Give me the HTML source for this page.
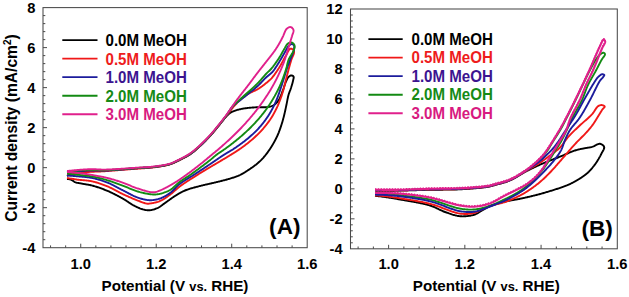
<!DOCTYPE html>
<html><head><meta charset="utf-8"><style>
html,body{margin:0;padding:0;background:#fff;}
svg{display:block;}
</style></head><body>
<svg width="629" height="297" viewBox="0 0 629 297">
<rect width="629" height="297" fill="#fff"/>
<rect x="43.0" y="7.6" width="264.20" height="240.10" fill="none" stroke="#4a4a4a" stroke-width="1.05"/>
<path d="M43.00,239.70h2.3M43.00,231.69h2.3M43.00,223.69h2.3M43.00,215.69h2.3M43.00,207.68h4.0M43.00,199.68h2.3M43.00,191.68h2.3M43.00,183.67h2.3M43.00,175.67h2.3M43.00,167.67h4.0M43.00,159.66h2.3M43.00,151.66h2.3M43.00,143.66h2.3M43.00,135.65h2.3M43.00,127.65h4.0M43.00,119.65h2.3M43.00,111.64h2.3M43.00,103.64h2.3M43.00,95.64h2.3M43.00,87.63h4.0M43.00,79.63h2.3M43.00,71.63h2.3M43.00,63.62h2.3M43.00,55.62h2.3M43.00,47.62h4.0M43.00,39.61h2.3M43.00,31.61h2.3M43.00,23.61h2.3M43.00,15.60h2.3M50.55,247.70v-2.3M65.65,247.70v-2.3M80.74,247.70v-4.0M95.84,247.70v-2.3M110.94,247.70v-2.3M126.03,247.70v-2.3M141.13,247.70v-2.3M156.23,247.70v-4.0M171.33,247.70v-2.3M186.42,247.70v-2.3M201.52,247.70v-2.3M216.62,247.70v-2.3M231.71,247.70v-4.0M246.81,247.70v-2.3M261.91,247.70v-2.3M277.01,247.70v-2.3M292.10,247.70v-2.3" stroke="#4a4a4a" stroke-width="1.0" fill="none"/>
<rect x="350.5" y="9.0" width="266.80" height="239.80" fill="none" stroke="#4a4a4a" stroke-width="1.05"/>
<path d="M350.50,242.81h2.3M350.50,236.81h2.3M350.50,230.81h2.3M350.50,224.82h2.3M350.50,218.83h4.0M350.50,212.83h2.3M350.50,206.84h2.3M350.50,200.84h2.3M350.50,194.84h2.3M350.50,188.85h4.0M350.50,182.86h2.3M350.50,176.86h2.3M350.50,170.87h2.3M350.50,164.87h2.3M350.50,158.88h4.0M350.50,152.88h2.3M350.50,146.88h2.3M350.50,140.89h2.3M350.50,134.90h2.3M350.50,128.90h4.0M350.50,122.91h2.3M350.50,116.91h2.3M350.50,110.91h2.3M350.50,104.92h2.3M350.50,98.93h4.0M350.50,92.93h2.3M350.50,86.94h2.3M350.50,80.94h2.3M350.50,74.94h2.3M350.50,68.95h4.0M350.50,62.96h2.3M350.50,56.96h2.3M350.50,50.97h2.3M350.50,44.97h2.3M350.50,38.98h4.0M350.50,32.98h2.3M350.50,26.99h2.3M350.50,20.99h2.3M350.50,15.00h2.3M358.12,248.80v-2.3M373.37,248.80v-2.3M388.61,248.80v-4.0M403.86,248.80v-2.3M419.11,248.80v-2.3M434.35,248.80v-2.3M449.60,248.80v-2.3M464.84,248.80v-4.0M480.09,248.80v-2.3M495.33,248.80v-2.3M510.58,248.80v-2.3M525.83,248.80v-2.3M541.07,248.80v-4.0M556.32,248.80v-2.3M571.56,248.80v-2.3M586.81,248.80v-2.3M602.05,248.80v-2.3" stroke="#4a4a4a" stroke-width="1.0" fill="none"/>
<text transform="matrix(1 0 0 1.05 0 -12.650)" x="35.4" y="253.00" font-size="14.7" text-anchor="end" fill="#000" font-family="Liberation Sans, sans-serif" font-weight="bold" >-4</text>
<text transform="matrix(1 0 0 1.05 0 -10.649)" x="35.4" y="212.98" font-size="14.7" text-anchor="end" fill="#000" font-family="Liberation Sans, sans-serif" font-weight="bold" >-2</text>
<text transform="matrix(1 0 0 1.05 0 -8.648)" x="35.4" y="172.97" font-size="14.7" text-anchor="end" fill="#000" font-family="Liberation Sans, sans-serif" font-weight="bold" >0</text>
<text transform="matrix(1 0 0 1.05 0 -6.648)" x="35.4" y="132.95" font-size="14.7" text-anchor="end" fill="#000" font-family="Liberation Sans, sans-serif" font-weight="bold" >2</text>
<text transform="matrix(1 0 0 1.05 0 -4.647)" x="35.4" y="92.93" font-size="14.7" text-anchor="end" fill="#000" font-family="Liberation Sans, sans-serif" font-weight="bold" >4</text>
<text transform="matrix(1 0 0 1.05 0 -2.646)" x="35.4" y="52.92" font-size="14.7" text-anchor="end" fill="#000" font-family="Liberation Sans, sans-serif" font-weight="bold" >6</text>
<text transform="matrix(1 0 0 1.05 0 -0.645)" x="35.4" y="12.90" font-size="14.7" text-anchor="end" fill="#000" font-family="Liberation Sans, sans-serif" font-weight="bold" >8</text>
<text transform="matrix(1 0 0 1.05 0 -12.705)" x="342.6" y="254.10" font-size="14.7" text-anchor="end" fill="#000" font-family="Liberation Sans, sans-serif" font-weight="bold" >-4</text>
<text transform="matrix(1 0 0 1.05 0 -11.206)" x="342.6" y="224.13" font-size="14.7" text-anchor="end" fill="#000" font-family="Liberation Sans, sans-serif" font-weight="bold" >-2</text>
<text transform="matrix(1 0 0 1.05 0 -9.708)" x="342.6" y="194.15" font-size="14.7" text-anchor="end" fill="#000" font-family="Liberation Sans, sans-serif" font-weight="bold" >0</text>
<text transform="matrix(1 0 0 1.05 0 -8.209)" x="342.6" y="164.18" font-size="14.7" text-anchor="end" fill="#000" font-family="Liberation Sans, sans-serif" font-weight="bold" >2</text>
<text transform="matrix(1 0 0 1.05 0 -6.710)" x="342.6" y="134.20" font-size="14.7" text-anchor="end" fill="#000" font-family="Liberation Sans, sans-serif" font-weight="bold" >4</text>
<text transform="matrix(1 0 0 1.05 0 -5.211)" x="342.6" y="104.23" font-size="14.7" text-anchor="end" fill="#000" font-family="Liberation Sans, sans-serif" font-weight="bold" >6</text>
<text transform="matrix(1 0 0 1.05 0 -3.713)" x="342.6" y="74.25" font-size="14.7" text-anchor="end" fill="#000" font-family="Liberation Sans, sans-serif" font-weight="bold" >8</text>
<text transform="matrix(1 0 0 1.05 0 -2.214)" x="342.6" y="44.27" font-size="14.7" text-anchor="end" fill="#000" font-family="Liberation Sans, sans-serif" font-weight="bold" >10</text>
<text transform="matrix(1 0 0 1.05 0 -0.715)" x="342.6" y="14.30" font-size="14.7" text-anchor="end" fill="#000" font-family="Liberation Sans, sans-serif" font-weight="bold" >12</text>
<text transform="matrix(1 0 0 1.05 0 -13.460)" x="80.74" y="269.20" font-size="14.7" text-anchor="middle" fill="#000" font-family="Liberation Sans, sans-serif" font-weight="bold" >1.0</text>
<text transform="matrix(1 0 0 1.05 0 -13.460)" x="156.23" y="269.20" font-size="14.7" text-anchor="middle" fill="#000" font-family="Liberation Sans, sans-serif" font-weight="bold" >1.2</text>
<text transform="matrix(1 0 0 1.05 0 -13.460)" x="231.71" y="269.20" font-size="14.7" text-anchor="middle" fill="#000" font-family="Liberation Sans, sans-serif" font-weight="bold" >1.4</text>
<text transform="matrix(1 0 0 1.05 0 -13.460)" x="307.20" y="269.20" font-size="14.7" text-anchor="middle" fill="#000" font-family="Liberation Sans, sans-serif" font-weight="bold" >1.6</text>
<text transform="matrix(1 0 0 1.05 0 -13.460)" x="388.61" y="269.20" font-size="14.7" text-anchor="middle" fill="#000" font-family="Liberation Sans, sans-serif" font-weight="bold" >1.0</text>
<text transform="matrix(1 0 0 1.05 0 -13.460)" x="464.84" y="269.20" font-size="14.7" text-anchor="middle" fill="#000" font-family="Liberation Sans, sans-serif" font-weight="bold" >1.2</text>
<text transform="matrix(1 0 0 1.05 0 -13.460)" x="541.07" y="269.20" font-size="14.7" text-anchor="middle" fill="#000" font-family="Liberation Sans, sans-serif" font-weight="bold" >1.4</text>
<text transform="matrix(1 0 0 1.05 0 -13.460)" x="617.30" y="269.20" font-size="14.7" text-anchor="middle" fill="#000" font-family="Liberation Sans, sans-serif" font-weight="bold" >1.6</text>
<text x="101.5" y="290.9" font-size="15.2" fill="#000" font-family="Liberation Sans, sans-serif" font-weight="bold">Potential (V <tspan font-size="12.8">vs.</tspan> RHE)</text>
<text x="412.8" y="290.9" font-size="15.2" fill="#000" font-family="Liberation Sans, sans-serif" font-weight="bold">Potential (V <tspan font-size="12.8">vs.</tspan> RHE)</text>
<text transform="translate(16.8,221.8) rotate(-90)" x="0" y="0" font-size="15.6" fill="#000" font-family="Liberation Sans, sans-serif" font-weight="bold">Current density (mA/cm<tspan font-size="10" dy="-6">2</tspan><tspan dy="6">)</tspan></text>
<text x="284.8" y="233.80" font-size="22.6" text-anchor="middle" fill="#000" font-family="Liberation Sans, sans-serif" font-weight="bold" >(A)</text>
<text x="597.2" y="235.80" font-size="22.6" text-anchor="middle" fill="#000" font-family="Liberation Sans, sans-serif" font-weight="bold" >(B)</text>
<path d="M62.3,40.10H97.5" stroke="#000000" stroke-width="1.9"/>
<text transform="matrix(1 0 0 1.06 0 -2.436)" x="105.5" y="45.90" font-size="15.1" fill="#000000" font-family="Liberation Sans, sans-serif" font-weight="bold">0.0M MeOH</text>
<path d="M62.3,58.63H97.5" stroke="#f01818" stroke-width="1.9"/>
<text transform="matrix(1 0 0 1.06 0 -3.548)" x="105.5" y="64.43" font-size="15.1" fill="#ee1c1c" font-family="Liberation Sans, sans-serif" font-weight="bold">0.5M MeOH</text>
<path d="M62.3,77.16H97.5" stroke="#1c1c9c" stroke-width="1.9"/>
<text transform="matrix(1 0 0 1.06 0 -4.660)" x="105.5" y="82.96" font-size="15.1" fill="#3c1490" font-family="Liberation Sans, sans-serif" font-weight="bold">1.0M MeOH</text>
<path d="M62.3,95.69H97.5" stroke="#138a13" stroke-width="1.9"/>
<text transform="matrix(1 0 0 1.06 0 -5.771)" x="105.5" y="101.49" font-size="15.1" fill="#168a16" font-family="Liberation Sans, sans-serif" font-weight="bold">2.0M MeOH</text>
<path d="M62.3,114.22H97.5" stroke="#e0208c" stroke-width="1.9"/>
<text transform="matrix(1 0 0 1.06 0 -6.883)" x="105.5" y="120.02" font-size="15.1" fill="#d81a80" font-family="Liberation Sans, sans-serif" font-weight="bold">3.0M MeOH</text>
<path d="M368.4,39.10H402.7" stroke="#000000" stroke-width="1.9"/>
<text transform="matrix(1 0 0 1.06 0 -2.352)" x="411.5" y="44.50" font-size="15.1" fill="#000000" font-family="Liberation Sans, sans-serif" font-weight="bold">0.0M MeOH</text>
<path d="M368.4,57.63H402.7" stroke="#f01818" stroke-width="1.9"/>
<text transform="matrix(1 0 0 1.06 0 -3.464)" x="411.5" y="63.03" font-size="15.1" fill="#ee1c1c" font-family="Liberation Sans, sans-serif" font-weight="bold">0.5M MeOH</text>
<path d="M368.4,76.16H402.7" stroke="#1c1c9c" stroke-width="1.9"/>
<text transform="matrix(1 0 0 1.06 0 -4.576)" x="411.5" y="81.56" font-size="15.1" fill="#3c1490" font-family="Liberation Sans, sans-serif" font-weight="bold">1.0M MeOH</text>
<path d="M368.4,94.69H402.7" stroke="#138a13" stroke-width="1.9"/>
<text transform="matrix(1 0 0 1.06 0 -5.687)" x="411.5" y="100.09" font-size="15.1" fill="#168a16" font-family="Liberation Sans, sans-serif" font-weight="bold">2.0M MeOH</text>
<path d="M368.4,113.22H402.7" stroke="#e0208c" stroke-width="1.9"/>
<text transform="matrix(1 0 0 1.06 0 -6.799)" x="411.5" y="118.62" font-size="15.1" fill="#d81a80" font-family="Liberation Sans, sans-serif" font-weight="bold">3.0M MeOH</text>
<path d="M67.00,176.00 L67.70,175.64 L68.39,175.26 L69.07,174.89 L69.76,174.52 L70.47,174.16 L71.21,173.82 L72.00,173.50 L72.64,173.27 L73.30,173.05 L73.98,172.84 L74.68,172.64 L75.39,172.45 L76.13,172.27 L76.87,172.10 L77.63,171.94 L78.41,171.78 L79.20,171.64 L80.00,171.50 L80.64,171.40 L81.29,171.31 L81.96,171.22 L82.64,171.14 L83.33,171.07 L84.03,171.00 L84.73,170.93 L85.45,170.88 L86.17,170.82 L86.90,170.77 L87.62,170.72 L88.36,170.68 L89.09,170.64 L89.82,170.60 L90.55,170.57 L91.28,170.53 L92.00,170.50 L92.70,170.47 L93.39,170.45 L94.06,170.44 L94.73,170.43 L95.40,170.43 L96.06,170.43 L96.73,170.44 L97.40,170.45 L98.07,170.45 L98.76,170.46 L99.46,170.47 L100.18,170.47 L100.92,170.48 L101.68,170.47 L102.46,170.47 L103.28,170.45 L104.12,170.43 L105.00,170.40 L105.54,170.38 L106.10,170.35 L106.69,170.33 L107.29,170.30 L107.91,170.27 L108.55,170.23 L109.20,170.19 L109.87,170.15 L110.56,170.11 L111.25,170.07 L111.97,170.03 L112.69,169.98 L113.42,169.93 L114.17,169.88 L114.92,169.83 L115.68,169.78 L116.45,169.73 L117.23,169.67 L118.01,169.62 L118.80,169.56 L119.59,169.50 L120.38,169.45 L121.18,169.39 L121.97,169.33 L122.77,169.27 L123.56,169.21 L124.35,169.15 L125.15,169.09 L125.93,169.03 L126.71,168.97 L127.49,168.91 L128.26,168.86 L129.02,168.80 L129.78,168.74 L130.53,168.69 L131.26,168.63 L131.99,168.58 L132.70,168.52 L133.40,168.47 L134.09,168.42 L134.76,168.37 L135.42,168.32 L136.06,168.27 L136.68,168.23 L137.28,168.19 L137.87,168.14 L138.43,168.10 L138.98,168.07 L139.50,168.03 L140.00,168.00 L140.90,167.94 L141.75,167.89 L142.54,167.85 L143.30,167.81 L144.02,167.78 L144.71,167.74 L145.38,167.71 L146.03,167.67 L146.68,167.64 L147.32,167.60 L147.97,167.56 L148.63,167.51 L149.30,167.46 L150.00,167.40 L150.72,167.33 L151.43,167.27 L152.15,167.20 L152.86,167.13 L153.58,167.05 L154.29,166.97 L155.01,166.89 L155.72,166.81 L156.43,166.72 L157.15,166.62 L157.86,166.53 L158.58,166.42 L159.29,166.31 L160.00,166.20 L160.72,166.08 L161.44,165.96 L162.17,165.84 L162.90,165.72 L163.63,165.59 L164.36,165.45 L165.09,165.32 L165.82,165.17 L166.53,165.02 L167.25,164.85 L167.95,164.68 L168.65,164.50 L169.33,164.31 L170.00,164.10 L170.70,163.87 L171.39,163.62 L172.05,163.36 L172.70,163.10 L173.35,162.82 L173.98,162.53 L174.63,162.24 L175.27,161.93 L175.93,161.61 L176.60,161.28 L177.29,160.95 L178.00,160.60 L178.58,160.32 L179.18,160.03 L179.79,159.74 L180.41,159.44 L181.04,159.13 L181.69,158.82 L182.33,158.50 L182.99,158.17 L183.64,157.84 L184.30,157.50 L184.96,157.16 L185.61,156.81 L186.27,156.45 L186.91,156.09 L187.55,155.73 L188.18,155.35 L188.80,154.97 L189.41,154.59 L190.00,154.20 L190.60,153.79 L191.19,153.37 L191.77,152.95 L192.34,152.52 L192.91,152.08 L193.48,151.63 L194.03,151.18 L194.58,150.72 L195.13,150.25 L195.68,149.79 L196.22,149.31 L196.76,148.83 L197.30,148.35 L197.84,147.87 L198.38,147.38 L198.92,146.89 L199.46,146.40 L200.00,145.90 L200.51,145.43 L201.03,144.95 L201.54,144.47 L202.06,143.98 L202.57,143.49 L203.09,142.99 L203.60,142.49 L204.12,141.99 L204.63,141.48 L205.14,140.97 L205.65,140.46 L206.15,139.95 L206.65,139.44 L207.15,138.93 L207.64,138.42 L208.12,137.91 L208.60,137.40 L209.08,136.90 L209.54,136.40 L210.00,135.90 L210.51,135.34 L211.01,134.78 L211.51,134.22 L211.99,133.65 L212.47,133.09 L212.95,132.53 L213.42,131.97 L213.88,131.41 L214.34,130.86 L214.80,130.30 L215.25,129.75 L215.70,129.19 L216.15,128.64 L216.60,128.09 L217.05,127.54 L217.50,127.00 L217.98,126.41 L218.46,125.83 L218.93,125.24 L219.39,124.65 L219.86,124.06 L220.32,123.47 L220.78,122.89 L221.23,122.31 L221.69,121.73 L222.15,121.17 L222.61,120.61 L223.07,120.06 L223.53,119.53 L224.00,119.00 L224.49,118.45 L224.98,117.89 L225.47,117.34 L225.96,116.80 L226.45,116.26 L226.94,115.73 L227.43,115.22 L227.93,114.72 L228.44,114.25 L228.95,113.81 L229.47,113.39 L230.00,113.00 L230.63,112.59 L231.25,112.22 L231.88,111.89 L232.52,111.58 L233.17,111.31 L233.84,111.04 L234.53,110.79 L235.25,110.55 L236.00,110.30 L236.63,110.10 L237.28,109.92 L237.96,109.74 L238.65,109.56 L239.36,109.40 L240.09,109.24 L240.82,109.09 L241.56,108.94 L242.31,108.80 L243.05,108.67 L243.80,108.55 L244.54,108.42 L245.28,108.31 L246.00,108.20 L246.71,108.10 L247.42,108.00 L248.12,107.92 L248.82,107.84 L249.53,107.77 L250.23,107.70 L250.94,107.64 L251.64,107.58 L252.36,107.53 L253.07,107.48 L253.79,107.43 L254.52,107.39 L255.26,107.34 L256.00,107.30 L256.68,107.27 L257.39,107.25 L258.11,107.24 L258.84,107.24 L259.58,107.25 L260.33,107.26 L261.08,107.27 L261.83,107.28 L262.57,107.29 L263.31,107.29 L264.04,107.29 L264.75,107.27 L265.45,107.25 L266.13,107.21 L266.78,107.16 L267.41,107.09 L268.00,107.00 L268.77,106.86 L269.51,106.71 L270.22,106.55 L270.90,106.38 L271.55,106.17 L272.18,105.94 L272.80,105.67 L273.40,105.36 L274.00,105.00 L274.57,104.60 L275.12,104.16 L275.66,103.68 L276.18,103.16 L276.69,102.61 L277.18,102.04 L277.66,101.43 L278.12,100.81 L278.57,100.16 L279.00,99.50 L279.35,98.92 L279.69,98.31 L280.01,97.67 L280.32,97.01 L280.61,96.33 L280.90,95.64 L281.18,94.93 L281.45,94.21 L281.72,93.50 L281.98,92.78 L282.23,92.07 L282.49,91.36 L282.74,90.67 L283.00,90.00 L283.27,89.27 L283.54,88.53 L283.79,87.78 L284.04,87.03 L284.28,86.29 L284.52,85.55 L284.76,84.82 L285.00,84.10 L285.24,83.41 L285.49,82.74 L285.74,82.11 L286.00,81.50 L286.34,80.75 L286.67,80.01 L287.00,79.31 L287.34,78.65 L287.70,78.04 L288.08,77.48 L288.50,77.00 L289.13,76.41 L289.82,75.91 L290.52,75.55 L291.20,75.40 L292.10,75.55 L293.00,75.98 L293.60,76.60 L293.75,77.27 L293.66,78.08 L293.43,79.00 L293.20,80.00 L293.07,80.61 L292.92,81.26 L292.75,81.96 L292.56,82.69 L292.36,83.45 L292.14,84.22 L291.91,85.00 L291.68,85.77 L291.45,86.54 L291.22,87.28 L291.00,88.00 L290.76,88.72 L290.52,89.41 L290.26,90.10 L290.00,90.77 L289.73,91.45 L289.47,92.13 L289.21,92.81 L288.96,93.52 L288.73,94.25 L288.50,95.00 L288.32,95.65 L288.15,96.33 L287.99,97.02 L287.84,97.72 L287.69,98.43 L287.54,99.15 L287.40,99.88 L287.26,100.61 L287.12,101.35 L286.98,102.09 L286.84,102.82 L286.70,103.56 L286.55,104.28 L286.40,105.00 L286.25,105.71 L286.10,106.43 L285.95,107.14 L285.80,107.86 L285.65,108.58 L285.49,109.29 L285.34,110.01 L285.19,110.72 L285.03,111.43 L284.87,112.15 L284.71,112.86 L284.55,113.58 L284.38,114.29 L284.20,115.00 L284.02,115.72 L283.84,116.43 L283.65,117.15 L283.47,117.87 L283.28,118.58 L283.09,119.30 L282.89,120.01 L282.69,120.73 L282.49,121.44 L282.28,122.15 L282.07,122.87 L281.85,123.58 L281.63,124.29 L281.40,125.00 L281.18,125.67 L280.96,126.34 L280.74,127.01 L280.51,127.68 L280.28,128.35 L280.05,129.02 L279.81,129.69 L279.57,130.36 L279.32,131.03 L279.06,131.69 L278.81,132.36 L278.54,133.02 L278.27,133.68 L277.99,134.34 L277.70,135.00 L277.42,135.63 L277.13,136.27 L276.83,136.90 L276.53,137.53 L276.23,138.16 L275.92,138.79 L275.60,139.41 L275.28,140.04 L274.95,140.67 L274.62,141.29 L274.28,141.91 L273.93,142.53 L273.58,143.15 L273.23,143.77 L272.87,144.39 L272.50,145.00 L272.13,145.60 L271.76,146.21 L271.38,146.82 L270.99,147.43 L270.59,148.04 L270.19,148.65 L269.78,149.26 L269.37,149.87 L268.96,150.47 L268.54,151.07 L268.12,151.66 L267.70,152.24 L267.28,152.82 L266.86,153.38 L266.44,153.93 L266.02,154.47 L265.60,155.00 L265.13,155.59 L264.65,156.16 L264.18,156.72 L263.71,157.26 L263.24,157.80 L262.76,158.32 L262.28,158.84 L261.80,159.35 L261.31,159.85 L260.82,160.35 L260.32,160.83 L259.81,161.32 L259.30,161.80 L258.75,162.30 L258.19,162.79 L257.64,163.27 L257.08,163.73 L256.52,164.19 L255.95,164.65 L255.36,165.10 L254.77,165.55 L254.16,166.00 L253.53,166.46 L252.87,166.92 L252.20,167.40 L251.67,167.77 L251.12,168.15 L250.56,168.54 L249.98,168.94 L249.39,169.34 L248.79,169.75 L248.17,170.16 L247.55,170.57 L246.92,170.98 L246.29,171.39 L245.65,171.80 L245.01,172.20 L244.37,172.59 L243.73,172.97 L243.09,173.34 L242.46,173.71 L241.83,174.05 L241.21,174.39 L240.60,174.70 L240.00,175.00 L239.32,175.32 L238.66,175.62 L238.01,175.90 L237.36,176.16 L236.71,176.41 L236.07,176.65 L235.43,176.88 L234.79,177.10 L234.14,177.31 L233.48,177.53 L232.81,177.73 L232.13,177.94 L231.44,178.16 L230.73,178.38 L230.00,178.60 L229.38,178.79 L228.76,178.97 L228.12,179.16 L227.47,179.34 L226.81,179.53 L226.14,179.71 L225.47,179.89 L224.78,180.07 L224.09,180.25 L223.40,180.43 L222.70,180.60 L222.00,180.78 L221.30,180.96 L220.59,181.13 L219.89,181.30 L219.18,181.48 L218.48,181.65 L217.77,181.82 L217.07,181.99 L216.38,182.16 L215.69,182.33 L215.00,182.50 L214.32,182.67 L213.64,182.83 L212.96,182.99 L212.27,183.15 L211.59,183.30 L210.91,183.46 L210.23,183.61 L209.54,183.76 L208.86,183.91 L208.18,184.06 L207.50,184.21 L206.81,184.37 L206.13,184.52 L205.45,184.67 L204.77,184.83 L204.08,184.99 L203.40,185.15 L202.72,185.31 L202.04,185.48 L201.36,185.65 L200.68,185.82 L200.00,186.00 L199.31,186.18 L198.62,186.36 L197.92,186.55 L197.22,186.73 L196.51,186.91 L195.80,187.10 L195.10,187.29 L194.39,187.48 L193.68,187.67 L192.97,187.86 L192.27,188.06 L191.57,188.26 L190.88,188.46 L190.19,188.67 L189.51,188.88 L188.83,189.10 L188.17,189.32 L187.51,189.54 L186.86,189.77 L186.23,190.01 L185.61,190.25 L185.00,190.50 L184.30,190.80 L183.62,191.11 L182.96,191.42 L182.31,191.74 L181.67,192.06 L181.05,192.40 L180.43,192.73 L179.82,193.08 L179.21,193.43 L178.61,193.78 L178.01,194.14 L177.42,194.50 L176.82,194.87 L176.22,195.24 L175.61,195.62 L175.00,196.00 L174.40,196.38 L173.80,196.77 L173.19,197.17 L172.59,197.58 L171.98,198.00 L171.37,198.43 L170.77,198.85 L170.17,199.29 L169.57,199.72 L168.98,200.15 L168.39,200.58 L167.80,201.00 L167.23,201.42 L166.66,201.83 L166.09,202.23 L165.54,202.62 L165.00,203.00 L164.38,203.44 L163.78,203.88 L163.19,204.32 L162.62,204.76 L162.05,205.19 L161.49,205.61 L160.93,206.02 L160.37,206.41 L159.80,206.79 L159.21,207.15 L158.62,207.49 L158.00,207.80 L157.31,208.12 L156.60,208.42 L155.87,208.71 L155.13,208.99 L154.39,209.24 L153.64,209.47 L152.89,209.67 L152.15,209.85 L151.42,210.00 L150.70,210.12 L150.00,210.20 L149.20,210.26 L148.43,210.27 L147.67,210.25 L146.92,210.18 L146.17,210.08 L145.40,209.95 L144.62,209.79 L143.80,209.60 L143.15,209.43 L142.49,209.24 L141.82,209.03 L141.14,208.80 L140.45,208.55 L139.75,208.29 L139.04,208.00 L138.33,207.70 L137.61,207.39 L136.89,207.06 L136.16,206.72 L135.43,206.36 L134.70,206.00 L134.12,205.70 L133.55,205.39 L132.97,205.06 L132.39,204.71 L131.80,204.36 L131.21,203.99 L130.62,203.61 L130.03,203.22 L129.43,202.83 L128.83,202.43 L128.23,202.03 L127.62,201.63 L127.01,201.23 L126.39,200.82 L125.77,200.42 L125.15,200.02 L124.52,199.63 L123.88,199.25 L123.24,198.87 L122.60,198.50 L122.01,198.17 L121.41,197.84 L120.81,197.51 L120.20,197.17 L119.59,196.84 L118.98,196.51 L118.36,196.17 L117.73,195.84 L117.10,195.51 L116.47,195.18 L115.84,194.85 L115.20,194.53 L114.57,194.20 L113.93,193.88 L113.29,193.56 L112.64,193.25 L112.00,192.94 L111.36,192.63 L110.71,192.33 L110.07,192.03 L109.42,191.74 L108.78,191.45 L108.14,191.17 L107.50,190.90 L106.82,190.61 L106.13,190.33 L105.44,190.05 L104.75,189.77 L104.05,189.50 L103.35,189.23 L102.65,188.96 L101.95,188.70 L101.25,188.44 L100.55,188.19 L99.85,187.94 L99.15,187.70 L98.45,187.46 L97.75,187.23 L97.05,187.00 L96.36,186.78 L95.67,186.57 L94.99,186.36 L94.31,186.16 L93.63,185.97 L92.96,185.78 L92.30,185.60 L91.54,185.41 L90.77,185.22 L90.00,185.05 L89.22,184.89 L88.44,184.74 L87.66,184.60 L86.89,184.46 L86.12,184.33 L85.37,184.21 L84.62,184.09 L83.90,183.97 L83.19,183.86 L82.50,183.75 L81.83,183.64 L81.19,183.52 L80.58,183.41 L80.00,183.30 L79.15,183.14 L78.35,183.00 L77.60,182.87 L76.89,182.74 L76.22,182.60 L75.59,182.42 L75.00,182.20 L74.30,181.81 L73.69,181.36 L73.11,180.90 L72.50,180.50 L71.69,180.07 L70.86,179.70 L70.00,179.40 L69.28,179.25 L68.52,179.15 L67.76,179.08 L67.00,179.00" stroke="#000000" stroke-width="1.9" fill="none" stroke-linejoin="round"/>
<path d="M67.00,173.80 L67.72,173.73 L68.45,173.66 L69.17,173.60 L69.90,173.53 L70.63,173.46 L71.35,173.39 L72.08,173.32 L72.81,173.25 L73.53,173.18 L74.26,173.11 L74.98,173.04 L75.70,172.97 L76.43,172.91 L77.15,172.84 L77.86,172.78 L78.58,172.72 L79.29,172.66 L80.00,172.60 L80.72,172.54 L81.43,172.49 L82.14,172.44 L82.85,172.38 L83.55,172.33 L84.25,172.28 L84.95,172.24 L85.65,172.19 L86.35,172.14 L87.05,172.10 L87.75,172.05 L88.45,172.01 L89.15,171.97 L89.86,171.92 L90.57,171.88 L91.28,171.84 L92.00,171.80 L92.71,171.76 L93.42,171.73 L94.13,171.69 L94.84,171.66 L95.55,171.63 L96.26,171.60 L96.97,171.57 L97.69,171.54 L98.41,171.52 L99.13,171.49 L99.85,171.46 L100.58,171.43 L101.31,171.40 L102.04,171.36 L102.77,171.33 L103.51,171.29 L104.25,171.25 L105.00,171.20 L105.69,171.16 L106.38,171.11 L107.07,171.06 L107.76,171.01 L108.45,170.96 L109.15,170.90 L109.84,170.85 L110.54,170.79 L111.24,170.73 L111.95,170.67 L112.65,170.61 L113.36,170.55 L114.08,170.49 L114.80,170.43 L115.53,170.37 L116.26,170.30 L116.99,170.24 L117.73,170.18 L118.48,170.12 L119.24,170.06 L120.00,170.00 L120.67,169.95 L121.36,169.90 L122.06,169.84 L122.77,169.79 L123.49,169.73 L124.22,169.68 L124.96,169.62 L125.70,169.56 L126.46,169.51 L127.21,169.45 L127.97,169.39 L128.73,169.33 L129.49,169.28 L130.25,169.22 L131.01,169.16 L131.76,169.11 L132.50,169.05 L133.25,169.00 L133.98,168.94 L134.70,168.89 L135.41,168.84 L136.12,168.78 L136.80,168.73 L137.48,168.68 L138.14,168.64 L138.78,168.59 L139.40,168.54 L140.00,168.50 L140.82,168.44 L141.61,168.39 L142.37,168.34 L143.11,168.30 L143.83,168.25 L144.53,168.21 L145.22,168.17 L145.90,168.13 L146.57,168.08 L147.24,168.03 L147.92,167.98 L148.60,167.93 L149.29,167.87 L150.00,167.80 L150.72,167.73 L151.43,167.65 L152.15,167.58 L152.86,167.50 L153.58,167.41 L154.29,167.33 L155.01,167.24 L155.72,167.14 L156.43,167.05 L157.15,166.95 L157.86,166.84 L158.58,166.73 L159.29,166.62 L160.00,166.50 L160.72,166.38 L161.44,166.26 L162.17,166.13 L162.90,166.01 L163.63,165.88 L164.36,165.75 L165.09,165.61 L165.82,165.46 L166.53,165.31 L167.25,165.15 L167.95,164.98 L168.65,164.80 L169.33,164.61 L170.00,164.40 L170.70,164.17 L171.39,163.92 L172.05,163.67 L172.70,163.40 L173.35,163.12 L173.99,162.84 L174.63,162.54 L175.27,162.23 L175.93,161.92 L176.60,161.59 L177.29,161.25 L178.00,160.90 L178.58,160.62 L179.18,160.33 L179.79,160.03 L180.41,159.72 L181.04,159.41 L181.69,159.09 L182.33,158.77 L182.99,158.43 L183.64,158.10 L184.30,157.75 L184.96,157.40 L185.61,157.05 L186.27,156.68 L186.91,156.32 L187.55,155.94 L188.18,155.56 L188.80,155.18 L189.41,154.79 L190.00,154.40 L190.60,153.99 L191.19,153.57 L191.77,153.14 L192.34,152.71 L192.91,152.27 L193.47,151.82 L194.03,151.37 L194.58,150.91 L195.13,150.45 L195.68,149.98 L196.22,149.51 L196.76,149.03 L197.30,148.55 L197.84,148.07 L198.38,147.58 L198.92,147.09 L199.46,146.60 L200.00,146.10 L200.51,145.63 L201.03,145.15 L201.54,144.67 L202.06,144.18 L202.57,143.69 L203.09,143.19 L203.60,142.69 L204.12,142.19 L204.63,141.68 L205.14,141.17 L205.65,140.66 L206.15,140.15 L206.65,139.63 L207.15,139.12 L207.64,138.61 L208.12,138.10 L208.60,137.60 L209.07,137.09 L209.54,136.60 L210.00,136.10 L210.51,135.55 L211.01,135.00 L211.49,134.45 L211.97,133.91 L212.44,133.37 L212.91,132.83 L213.37,132.29 L213.82,131.75 L214.28,131.21 L214.73,130.67 L215.18,130.12 L215.64,129.57 L216.10,129.01 L216.56,128.45 L217.03,127.88 L217.50,127.30 L217.94,126.76 L218.38,126.22 L218.82,125.67 L219.25,125.12 L219.69,124.57 L220.13,124.01 L220.58,123.45 L221.02,122.88 L221.46,122.31 L221.91,121.74 L222.35,121.17 L222.80,120.59 L223.25,120.01 L223.70,119.43 L224.16,118.85 L224.61,118.26 L225.07,117.67 L225.53,117.09 L226.00,116.50 L226.44,115.95 L226.87,115.39 L227.31,114.82 L227.74,114.24 L228.18,113.67 L228.62,113.08 L229.06,112.50 L229.51,111.91 L229.95,111.32 L230.40,110.73 L230.85,110.14 L231.30,109.55 L231.75,108.97 L232.21,108.39 L232.67,107.81 L233.13,107.24 L233.60,106.68 L234.07,106.12 L234.55,105.58 L235.03,105.04 L235.51,104.51 L236.00,104.00 L236.52,103.47 L237.04,102.95 L237.56,102.43 L238.09,101.91 L238.63,101.40 L239.16,100.89 L239.70,100.39 L240.25,99.90 L240.80,99.41 L241.35,98.93 L241.90,98.46 L242.46,97.99 L243.02,97.54 L243.58,97.09 L244.15,96.65 L244.72,96.22 L245.28,95.80 L245.86,95.39 L246.43,94.99 L247.00,94.60 L247.63,94.19 L248.27,93.81 L248.93,93.44 L249.59,93.09 L250.26,92.75 L250.94,92.42 L251.61,92.10 L252.29,91.79 L252.96,91.49 L253.63,91.19 L254.30,90.89 L254.95,90.59 L255.59,90.28 L256.22,89.98 L256.83,89.66 L257.43,89.34 L258.00,89.00 L258.65,88.60 L259.29,88.19 L259.90,87.79 L260.50,87.38 L261.08,86.97 L261.66,86.56 L262.22,86.15 L262.78,85.73 L263.33,85.31 L263.89,84.88 L264.44,84.44 L265.00,84.00 L265.56,83.55 L266.13,83.11 L266.69,82.66 L267.25,82.20 L267.80,81.74 L268.35,81.28 L268.90,80.81 L269.44,80.33 L269.97,79.84 L270.49,79.34 L271.00,78.83 L271.50,78.30 L271.96,77.79 L272.42,77.26 L272.87,76.72 L273.31,76.17 L273.74,75.61 L274.17,75.05 L274.59,74.48 L275.00,73.90 L275.41,73.32 L275.81,72.74 L276.21,72.16 L276.61,71.58 L277.00,71.00 L277.42,70.38 L277.83,69.75 L278.24,69.11 L278.65,68.46 L279.06,67.81 L279.45,67.16 L279.84,66.51 L280.22,65.88 L280.58,65.26 L280.94,64.65 L281.28,64.06 L281.60,63.50 L281.99,62.80 L282.35,62.13 L282.69,61.48 L283.02,60.85 L283.34,60.23 L283.66,59.62 L284.00,59.00 L284.37,58.33 L284.74,57.68 L285.11,57.03 L285.48,56.38 L285.88,55.71 L286.30,55.00 L286.63,54.39 L286.98,53.70 L287.34,52.96 L287.70,52.19 L288.08,51.43 L288.47,50.70 L288.86,50.05 L289.27,49.49 L289.68,49.07 L290.10,48.80 L290.84,48.67 L291.64,48.80 L292.39,49.10 L293.00,49.50 L293.44,49.98 L293.78,50.59 L294.01,51.30 L294.10,52.10 L294.07,52.66 L293.95,53.27 L293.75,53.94 L293.50,54.65 L293.20,55.39 L292.87,56.16 L292.53,56.94 L292.19,57.72 L291.86,58.50 L291.56,59.26 L291.30,60.00 L291.07,60.72 L290.85,61.43 L290.64,62.15 L290.43,62.86 L290.22,63.58 L290.02,64.29 L289.82,65.02 L289.62,65.75 L289.41,66.49 L289.21,67.24 L289.00,68.00 L288.82,68.68 L288.63,69.37 L288.44,70.07 L288.26,70.77 L288.07,71.49 L287.88,72.20 L287.70,72.93 L287.51,73.65 L287.32,74.38 L287.14,75.11 L286.95,75.84 L286.77,76.56 L286.58,77.28 L286.40,78.00 L286.22,78.71 L286.04,79.43 L285.87,80.14 L285.70,80.86 L285.52,81.57 L285.35,82.29 L285.18,83.00 L285.01,83.72 L284.83,84.43 L284.65,85.15 L284.47,85.86 L284.29,86.58 L284.10,87.29 L283.90,88.00 L283.70,88.72 L283.50,89.43 L283.29,90.15 L283.08,90.87 L282.87,91.58 L282.66,92.30 L282.44,93.01 L282.22,93.73 L282.00,94.44 L281.77,95.16 L281.54,95.87 L281.30,96.58 L281.05,97.29 L280.80,98.00 L280.56,98.67 L280.31,99.34 L280.06,100.01 L279.81,100.69 L279.55,101.36 L279.29,102.02 L279.02,102.69 L278.75,103.36 L278.47,104.03 L278.19,104.69 L277.91,105.36 L277.61,106.02 L277.32,106.68 L277.01,107.34 L276.70,108.00 L276.40,108.63 L276.09,109.27 L275.77,109.90 L275.45,110.53 L275.13,111.16 L274.80,111.79 L274.47,112.42 L274.13,113.04 L273.79,113.67 L273.44,114.29 L273.08,114.92 L272.72,115.54 L272.35,116.16 L271.97,116.77 L271.59,117.39 L271.20,118.00 L270.81,118.60 L270.41,119.20 L270.01,119.80 L269.59,120.40 L269.18,120.99 L268.75,121.59 L268.32,122.18 L267.89,122.77 L267.45,123.36 L267.00,123.94 L266.55,124.53 L266.09,125.11 L265.62,125.69 L265.15,126.27 L264.67,126.85 L264.19,127.43 L263.70,128.00 L263.26,128.51 L262.81,129.03 L262.35,129.54 L261.89,130.05 L261.43,130.56 L260.96,131.06 L260.49,131.57 L260.01,132.07 L259.53,132.58 L259.04,133.08 L258.55,133.58 L258.05,134.08 L257.55,134.57 L257.04,135.07 L256.53,135.56 L256.01,136.05 L255.49,136.54 L254.97,137.03 L254.43,137.52 L253.90,138.00 L253.37,138.47 L252.83,138.95 L252.29,139.42 L251.73,139.89 L251.17,140.37 L250.61,140.84 L250.03,141.32 L249.45,141.79 L248.87,142.26 L248.29,142.73 L247.70,143.19 L247.11,143.65 L246.52,144.11 L245.93,144.56 L245.34,145.01 L244.75,145.46 L244.17,145.90 L243.59,146.33 L243.01,146.76 L242.43,147.18 L241.86,147.59 L241.30,148.00 L240.69,148.43 L240.10,148.85 L239.52,149.25 L238.94,149.65 L238.37,150.03 L237.80,150.41 L237.23,150.78 L236.67,151.15 L236.10,151.51 L235.52,151.88 L234.94,152.24 L234.35,152.61 L233.75,152.99 L233.13,153.37 L232.50,153.76 L231.86,154.16 L231.19,154.57 L230.50,155.00 L229.99,155.32 L229.46,155.64 L228.92,155.97 L228.36,156.31 L227.80,156.65 L227.22,157.00 L226.63,157.36 L226.03,157.71 L225.43,158.08 L224.81,158.44 L224.19,158.81 L223.56,159.18 L222.93,159.56 L222.29,159.94 L221.65,160.31 L221.01,160.69 L220.36,161.07 L219.72,161.45 L219.07,161.83 L218.43,162.21 L217.79,162.59 L217.15,162.96 L216.51,163.34 L215.88,163.71 L215.25,164.08 L214.63,164.45 L214.02,164.81 L213.41,165.17 L212.82,165.52 L212.23,165.87 L211.65,166.21 L211.09,166.55 L210.54,166.88 L210.00,167.20 L209.33,167.61 L208.67,168.00 L208.03,168.39 L207.40,168.76 L206.78,169.13 L206.17,169.50 L205.57,169.86 L204.98,170.22 L204.39,170.57 L203.81,170.92 L203.23,171.27 L202.65,171.63 L202.07,171.98 L201.48,172.34 L200.89,172.70 L200.30,173.06 L199.70,173.43 L199.09,173.81 L198.47,174.20 L197.84,174.59 L197.20,175.00 L196.64,175.35 L196.07,175.71 L195.49,176.08 L194.91,176.45 L194.31,176.82 L193.71,177.20 L193.10,177.58 L192.48,177.97 L191.87,178.36 L191.24,178.76 L190.62,179.15 L189.99,179.55 L189.36,179.95 L188.74,180.36 L188.11,180.76 L187.49,181.16 L186.87,181.57 L186.25,181.97 L185.64,182.37 L185.04,182.78 L184.44,183.18 L183.84,183.58 L183.26,183.98 L182.69,184.37 L182.13,184.77 L181.58,185.15 L181.04,185.54 L180.51,185.92 L180.00,186.30 L179.36,186.78 L178.75,187.27 L178.15,187.75 L177.57,188.24 L177.00,188.72 L176.44,189.21 L175.90,189.69 L175.36,190.17 L174.83,190.65 L174.30,191.12 L173.78,191.59 L173.25,192.05 L172.72,192.51 L172.19,192.97 L171.66,193.41 L171.12,193.85 L170.56,194.28 L170.00,194.70 L169.39,195.15 L168.78,195.59 L168.16,196.04 L167.55,196.48 L166.93,196.92 L166.32,197.35 L165.70,197.77 L165.08,198.19 L164.45,198.59 L163.82,198.98 L163.20,199.36 L162.56,199.73 L161.93,200.07 L161.29,200.40 L160.65,200.71 L160.00,201.00 L159.29,201.29 L158.56,201.55 L157.80,201.81 L157.03,202.04 L156.25,202.26 L155.47,202.46 L154.70,202.64 L153.94,202.81 L153.19,202.96 L152.48,203.10 L151.79,203.22 L151.15,203.33 L150.55,203.42 L150.00,203.50 L149.12,203.62 L148.39,203.69 L147.67,203.69 L146.80,203.60 L146.26,203.51 L145.68,203.38 L145.07,203.22 L144.43,203.03 L143.76,202.82 L143.07,202.58 L142.35,202.33 L141.62,202.06 L140.87,201.78 L140.11,201.49 L139.35,201.20 L138.57,200.90 L137.80,200.60 L137.21,200.37 L136.61,200.14 L136.00,199.89 L135.38,199.64 L134.74,199.38 L134.10,199.12 L133.44,198.84 L132.78,198.56 L132.11,198.28 L131.44,197.99 L130.76,197.69 L130.08,197.40 L129.39,197.09 L128.71,196.79 L128.02,196.48 L127.33,196.17 L126.64,195.86 L125.96,195.55 L125.28,195.24 L124.60,194.93 L123.93,194.62 L123.26,194.31 L122.60,194.00 L121.97,193.70 L121.33,193.39 L120.70,193.08 L120.07,192.76 L119.45,192.44 L118.82,192.11 L118.19,191.78 L117.57,191.44 L116.94,191.11 L116.32,190.77 L115.69,190.44 L115.07,190.10 L114.44,189.77 L113.82,189.44 L113.19,189.11 L112.56,188.78 L111.94,188.46 L111.31,188.15 L110.68,187.84 L110.04,187.53 L109.41,187.24 L108.78,186.95 L108.14,186.67 L107.50,186.40 L106.82,186.12 L106.14,185.84 L105.46,185.57 L104.77,185.30 L104.09,185.04 L103.40,184.78 L102.71,184.52 L102.02,184.27 L101.33,184.03 L100.64,183.79 L99.95,183.55 L99.26,183.32 L98.56,183.10 L97.87,182.88 L97.18,182.67 L96.48,182.47 L95.78,182.27 L95.09,182.08 L94.39,181.90 L93.69,181.73 L93.00,181.56 L92.30,181.40 L91.58,181.25 L90.86,181.11 L90.13,180.98 L89.40,180.87 L88.66,180.77 L87.92,180.67 L87.18,180.58 L86.43,180.50 L85.69,180.42 L84.95,180.35 L84.21,180.29 L83.48,180.22 L82.75,180.16 L82.02,180.10 L81.30,180.04 L80.60,179.97 L79.89,179.91 L79.20,179.84 L78.52,179.77 L77.85,179.69 L77.20,179.60 L76.41,179.49 L75.64,179.38 L74.88,179.26 L74.14,179.15 L73.41,179.04 L72.69,178.92 L71.97,178.81 L71.27,178.69 L70.56,178.58 L69.86,178.46 L69.15,178.34 L68.44,178.23 L67.72,178.11 L67.00,178.00" stroke="#f01818" stroke-width="1.9" fill="none" stroke-linejoin="round"/>
<path d="M67.00,172.50 L67.72,172.42 L68.45,172.33 L69.17,172.24 L69.90,172.15 L70.62,172.06 L71.35,171.96 L72.08,171.87 L72.80,171.78 L73.53,171.69 L74.26,171.60 L74.98,171.51 L75.70,171.43 L76.42,171.34 L77.14,171.27 L77.86,171.19 L78.58,171.12 L79.29,171.06 L80.00,171.00 L80.72,170.95 L81.43,170.90 L82.14,170.85 L82.84,170.81 L83.55,170.77 L84.25,170.73 L84.95,170.70 L85.65,170.67 L86.35,170.64 L87.05,170.62 L87.75,170.60 L88.45,170.58 L89.15,170.56 L89.86,170.54 L90.57,170.53 L91.28,170.51 L92.00,170.50 L92.70,170.49 L93.39,170.49 L94.06,170.49 L94.73,170.50 L95.40,170.52 L96.06,170.53 L96.73,170.55 L97.40,170.57 L98.07,170.59 L98.76,170.61 L99.46,170.62 L100.18,170.64 L100.92,170.65 L101.68,170.65 L102.46,170.65 L103.28,170.64 L104.12,170.63 L105.00,170.60 L105.54,170.58 L106.10,170.56 L106.69,170.53 L107.29,170.50 L107.91,170.47 L108.55,170.44 L109.20,170.40 L109.87,170.36 L110.56,170.31 L111.25,170.27 L111.97,170.22 L112.69,170.17 L113.42,170.12 L114.17,170.07 L114.92,170.01 L115.68,169.96 L116.45,169.90 L117.23,169.84 L118.01,169.78 L118.80,169.72 L119.59,169.65 L120.38,169.59 L121.18,169.52 L121.97,169.46 L122.77,169.39 L123.56,169.33 L124.35,169.26 L125.15,169.20 L125.93,169.13 L126.71,169.07 L127.49,169.00 L128.26,168.94 L129.02,168.87 L129.78,168.81 L130.53,168.75 L131.26,168.69 L131.99,168.62 L132.70,168.57 L133.40,168.51 L134.09,168.45 L134.76,168.40 L135.42,168.34 L136.06,168.29 L136.68,168.24 L137.28,168.20 L137.87,168.15 L138.43,168.11 L138.98,168.07 L139.50,168.03 L140.00,168.00 L140.90,167.94 L141.75,167.89 L142.54,167.85 L143.30,167.81 L144.02,167.77 L144.71,167.74 L145.38,167.70 L146.03,167.67 L146.68,167.64 L147.32,167.60 L147.97,167.56 L148.63,167.51 L149.30,167.46 L150.00,167.40 L150.72,167.33 L151.43,167.27 L152.15,167.20 L152.86,167.13 L153.58,167.05 L154.29,166.97 L155.01,166.89 L155.72,166.81 L156.43,166.72 L157.15,166.62 L157.86,166.53 L158.58,166.42 L159.29,166.31 L160.00,166.20 L160.72,166.08 L161.44,165.96 L162.17,165.84 L162.90,165.72 L163.63,165.59 L164.36,165.45 L165.09,165.32 L165.82,165.17 L166.53,165.02 L167.25,164.85 L167.95,164.68 L168.65,164.50 L169.33,164.31 L170.00,164.10 L170.70,163.87 L171.39,163.62 L172.05,163.36 L172.70,163.10 L173.35,162.82 L173.98,162.53 L174.63,162.24 L175.27,161.93 L175.93,161.61 L176.60,161.28 L177.29,160.95 L178.00,160.60 L178.58,160.32 L179.18,160.03 L179.79,159.74 L180.41,159.44 L181.04,159.13 L181.69,158.82 L182.33,158.50 L182.99,158.17 L183.64,157.84 L184.30,157.50 L184.96,157.16 L185.61,156.81 L186.27,156.45 L186.91,156.09 L187.55,155.73 L188.18,155.35 L188.80,154.97 L189.41,154.59 L190.00,154.20 L190.60,153.79 L191.19,153.37 L191.77,152.95 L192.34,152.52 L192.91,152.08 L193.48,151.63 L194.03,151.18 L194.58,150.72 L195.13,150.25 L195.68,149.79 L196.22,149.31 L196.76,148.83 L197.30,148.35 L197.84,147.87 L198.38,147.38 L198.92,146.89 L199.46,146.40 L200.00,145.90 L200.51,145.43 L201.03,144.95 L201.54,144.47 L202.06,143.98 L202.57,143.49 L203.09,142.99 L203.60,142.49 L204.12,141.99 L204.63,141.48 L205.14,140.97 L205.65,140.46 L206.15,139.95 L206.65,139.44 L207.15,138.93 L207.64,138.42 L208.12,137.91 L208.60,137.40 L209.08,136.90 L209.54,136.40 L210.00,135.90 L210.51,135.34 L211.01,134.79 L211.49,134.24 L211.97,133.69 L212.44,133.14 L212.91,132.59 L213.37,132.05 L213.82,131.50 L214.28,130.95 L214.73,130.40 L215.18,129.85 L215.64,129.29 L216.10,128.73 L216.56,128.16 L217.03,127.58 L217.50,127.00 L217.94,126.46 L218.39,125.91 L218.83,125.36 L219.29,124.80 L219.74,124.24 L220.20,123.67 L220.65,123.11 L221.11,122.53 L221.57,121.96 L222.03,121.38 L222.48,120.80 L222.94,120.23 L223.39,119.65 L223.84,119.07 L224.28,118.49 L224.72,117.91 L225.15,117.34 L225.58,116.77 L226.00,116.20 L226.44,115.59 L226.86,114.97 L227.28,114.35 L227.69,113.71 L228.10,113.08 L228.50,112.44 L228.90,111.80 L229.29,111.16 L229.69,110.54 L230.09,109.91 L230.48,109.30 L230.89,108.71 L231.29,108.13 L231.71,107.56 L232.13,107.02 L232.56,106.50 L233.00,106.00 L233.53,105.45 L234.05,104.95 L234.56,104.49 L235.08,104.06 L235.61,103.64 L236.14,103.24 L236.69,102.84 L237.26,102.43 L237.85,102.00 L238.47,101.54 L239.12,101.04 L239.80,100.50 L240.23,100.15 L240.68,99.79 L241.15,99.41 L241.65,99.02 L242.16,98.61 L242.68,98.20 L243.22,97.77 L243.78,97.33 L244.35,96.88 L244.92,96.43 L245.51,95.97 L246.11,95.50 L246.71,95.02 L247.32,94.54 L247.93,94.06 L248.54,93.57 L249.16,93.08 L249.77,92.59 L250.38,92.10 L250.99,91.61 L251.60,91.12 L252.20,90.63 L252.79,90.15 L253.37,89.67 L253.95,89.20 L254.51,88.73 L255.06,88.27 L255.59,87.82 L256.11,87.37 L256.61,86.94 L257.09,86.51 L257.56,86.10 L258.00,85.70 L258.61,85.14 L259.19,84.58 L259.75,84.03 L260.28,83.49 L260.80,82.96 L261.30,82.43 L261.79,81.91 L262.27,81.39 L262.74,80.89 L263.20,80.38 L263.66,79.89 L264.12,79.40 L264.58,78.92 L265.04,78.44 L265.52,77.97 L266.00,77.50 L266.59,76.96 L267.19,76.43 L267.79,75.91 L268.40,75.40 L269.01,74.90 L269.61,74.41 L270.20,73.92 L270.77,73.44 L271.32,72.95 L271.85,72.47 L272.34,71.99 L272.80,71.50 L273.35,70.86 L273.83,70.24 L274.27,69.63 L274.69,69.02 L275.10,68.38 L275.53,67.72 L276.00,67.00 L276.36,66.46 L276.73,65.90 L277.10,65.31 L277.49,64.70 L277.89,64.08 L278.29,63.44 L278.69,62.80 L279.09,62.15 L279.48,61.51 L279.87,60.86 L280.26,60.23 L280.64,59.61 L281.00,59.00 L281.39,58.35 L281.77,57.70 L282.14,57.05 L282.51,56.40 L282.87,55.76 L283.23,55.12 L283.59,54.49 L283.94,53.86 L284.30,53.23 L284.65,52.61 L285.00,52.00 L285.39,51.29 L285.77,50.56 L286.14,49.82 L286.50,49.09 L286.87,48.38 L287.25,47.70 L287.64,47.07 L288.06,46.50 L288.50,46.00 L289.17,45.38 L289.90,44.82 L290.64,44.36 L291.35,44.07 L292.00,44.00 L292.66,44.22 L293.29,44.69 L293.83,45.32 L294.20,46.00 L294.34,46.60 L294.35,47.28 L294.27,48.02 L294.11,48.81 L293.91,49.64 L293.70,50.50 L293.55,51.08 L293.36,51.69 L293.15,52.33 L292.91,53.00 L292.65,53.68 L292.38,54.38 L292.09,55.09 L291.80,55.81 L291.50,56.53 L291.20,57.25 L290.91,57.96 L290.63,58.66 L290.35,59.34 L290.10,60.00 L289.84,60.69 L289.58,61.36 L289.33,62.02 L289.07,62.68 L288.82,63.33 L288.57,63.98 L288.32,64.63 L288.08,65.29 L287.83,65.95 L287.59,66.62 L287.34,67.30 L287.10,68.00 L286.87,68.68 L286.65,69.37 L286.42,70.06 L286.20,70.77 L285.98,71.48 L285.76,72.20 L285.54,72.93 L285.32,73.65 L285.10,74.38 L284.89,75.11 L284.67,75.84 L284.45,76.56 L284.22,77.28 L284.00,78.00 L283.78,78.71 L283.55,79.43 L283.33,80.14 L283.10,80.86 L282.88,81.57 L282.65,82.29 L282.42,83.00 L282.20,83.72 L281.97,84.43 L281.74,85.15 L281.51,85.86 L281.27,86.57 L281.04,87.29 L280.80,88.00 L280.58,88.67 L280.35,89.34 L280.13,90.01 L279.91,90.67 L279.69,91.34 L279.46,92.01 L279.24,92.68 L279.01,93.35 L278.78,94.01 L278.55,94.68 L278.31,95.35 L278.06,96.01 L277.81,96.68 L277.56,97.34 L277.30,98.00 L277.03,98.67 L276.76,99.34 L276.48,100.02 L276.20,100.69 L275.92,101.36 L275.63,102.03 L275.34,102.70 L275.04,103.36 L274.74,104.03 L274.43,104.70 L274.12,105.36 L273.80,106.02 L273.47,106.68 L273.14,107.34 L272.80,108.00 L272.47,108.63 L272.13,109.27 L271.78,109.90 L271.43,110.53 L271.08,111.16 L270.72,111.79 L270.35,112.42 L269.98,113.05 L269.60,113.67 L269.22,114.30 L268.83,114.92 L268.44,115.54 L268.04,116.16 L267.63,116.77 L267.22,117.39 L266.80,118.00 L266.41,118.57 L266.01,119.13 L265.60,119.70 L265.19,120.27 L264.78,120.83 L264.36,121.39 L263.94,121.95 L263.51,122.51 L263.07,123.07 L262.63,123.62 L262.19,124.18 L261.73,124.73 L261.28,125.28 L260.81,125.83 L260.34,126.37 L259.87,126.92 L259.39,127.46 L258.90,128.00 L258.43,128.52 L257.95,129.03 L257.46,129.54 L256.97,130.05 L256.47,130.56 L255.97,131.07 L255.46,131.58 L254.95,132.08 L254.43,132.58 L253.90,133.08 L253.37,133.58 L252.84,134.08 L252.30,134.58 L251.76,135.07 L251.21,135.56 L250.66,136.05 L250.10,136.54 L249.54,137.03 L248.97,137.52 L248.40,138.00 L247.86,138.45 L247.31,138.91 L246.76,139.36 L246.19,139.81 L245.62,140.27 L245.04,140.72 L244.46,141.17 L243.87,141.63 L243.28,142.08 L242.69,142.52 L242.09,142.97 L241.49,143.41 L240.90,143.85 L240.30,144.29 L239.70,144.72 L239.10,145.15 L238.50,145.57 L237.91,145.99 L237.32,146.41 L236.73,146.81 L236.15,147.22 L235.57,147.61 L235.00,148.00 L234.39,148.41 L233.78,148.81 L233.18,149.20 L232.58,149.57 L231.98,149.94 L231.39,150.30 L230.79,150.66 L230.20,151.01 L229.61,151.36 L229.02,151.71 L228.43,152.06 L227.84,152.41 L227.24,152.76 L226.65,153.12 L226.04,153.48 L225.44,153.84 L224.83,154.22 L224.22,154.60 L223.60,155.00 L223.03,155.37 L222.46,155.74 L221.89,156.12 L221.31,156.50 L220.74,156.89 L220.16,157.28 L219.58,157.67 L219.00,158.06 L218.41,158.46 L217.83,158.86 L217.24,159.26 L216.65,159.67 L216.06,160.07 L215.47,160.48 L214.87,160.89 L214.27,161.30 L213.67,161.72 L213.06,162.13 L212.46,162.54 L211.85,162.96 L211.23,163.37 L210.62,163.79 L210.00,164.20 L209.44,164.57 L208.87,164.95 L208.30,165.33 L207.73,165.71 L207.15,166.10 L206.56,166.49 L205.98,166.88 L205.39,167.27 L204.80,167.66 L204.20,168.05 L203.60,168.45 L203.01,168.84 L202.41,169.24 L201.81,169.63 L201.21,170.03 L200.61,170.42 L200.01,170.81 L199.41,171.20 L198.82,171.60 L198.23,171.98 L197.63,172.37 L197.05,172.76 L196.46,173.14 L195.88,173.52 L195.30,173.89 L194.73,174.27 L194.16,174.63 L193.60,175.00 L192.98,175.40 L192.36,175.79 L191.75,176.18 L191.13,176.56 L190.51,176.93 L189.89,177.31 L189.28,177.68 L188.67,178.04 L188.06,178.41 L187.45,178.78 L186.85,179.14 L186.25,179.51 L185.65,179.87 L185.06,180.24 L184.47,180.61 L183.89,180.98 L183.31,181.35 L182.75,181.73 L182.18,182.11 L181.62,182.50 L181.08,182.89 L180.53,183.29 L180.00,183.70 L179.42,184.16 L178.85,184.64 L178.30,185.13 L177.75,185.64 L177.22,186.15 L176.70,186.66 L176.18,187.18 L175.67,187.70 L175.16,188.23 L174.66,188.75 L174.16,189.26 L173.65,189.77 L173.15,190.27 L172.64,190.77 L172.13,191.25 L171.61,191.71 L171.08,192.16 L170.55,192.59 L170.00,193.00 L169.40,193.43 L168.79,193.85 L168.18,194.26 L167.57,194.67 L166.96,195.06 L166.34,195.44 L165.72,195.81 L165.09,196.17 L164.46,196.51 L163.83,196.84 L163.20,197.16 L162.56,197.46 L161.93,197.75 L161.29,198.01 L160.64,198.27 L160.00,198.50 L159.31,198.73 L158.61,198.95 L157.91,199.16 L157.21,199.34 L156.51,199.51 L155.80,199.67 L155.09,199.80 L154.38,199.92 L153.66,200.01 L152.94,200.09 L152.22,200.15 L151.48,200.19 L150.74,200.20 L150.00,200.20 L149.31,200.18 L148.62,200.13 L147.93,200.07 L147.23,199.99 L146.52,199.89 L145.81,199.77 L145.10,199.64 L144.38,199.49 L143.66,199.33 L142.94,199.15 L142.21,198.96 L141.48,198.76 L140.75,198.55 L140.02,198.33 L139.28,198.09 L138.54,197.85 L137.80,197.60 L137.19,197.38 L136.57,197.15 L135.95,196.90 L135.33,196.64 L134.70,196.37 L134.07,196.09 L133.44,195.79 L132.81,195.49 L132.17,195.18 L131.54,194.86 L130.90,194.54 L130.26,194.21 L129.62,193.87 L128.98,193.54 L128.34,193.20 L127.70,192.86 L127.06,192.51 L126.42,192.17 L125.78,191.84 L125.14,191.50 L124.50,191.17 L123.87,190.84 L123.23,190.52 L122.60,190.20 L121.97,189.88 L121.34,189.56 L120.71,189.24 L120.08,188.91 L119.46,188.58 L118.83,188.25 L118.21,187.91 L117.58,187.57 L116.96,187.24 L116.33,186.90 L115.71,186.57 L115.08,186.23 L114.45,185.90 L113.83,185.57 L113.20,185.25 L112.57,184.93 L111.94,184.61 L111.31,184.30 L110.68,184.00 L110.05,183.70 L109.42,183.41 L108.78,183.13 L108.14,182.86 L107.50,182.60 L106.82,182.33 L106.13,182.07 L105.44,181.81 L104.75,181.56 L104.06,181.31 L103.36,181.07 L102.66,180.83 L101.96,180.60 L101.25,180.37 L100.55,180.15 L99.85,179.94 L99.15,179.73 L98.45,179.53 L97.75,179.33 L97.06,179.14 L96.36,178.96 L95.67,178.78 L94.99,178.61 L94.31,178.45 L93.63,178.29 L92.96,178.14 L92.30,178.00 L91.55,177.85 L90.81,177.71 L90.07,177.58 L89.34,177.47 L88.62,177.37 L87.90,177.27 L87.18,177.19 L86.46,177.11 L85.75,177.03 L85.04,176.96 L84.33,176.89 L83.61,176.83 L82.90,176.77 L82.18,176.70 L81.46,176.64 L80.73,176.57 L80.00,176.50 L79.29,176.43 L78.57,176.36 L77.86,176.30 L77.14,176.24 L76.42,176.18 L75.70,176.13 L74.97,176.07 L74.25,176.02 L73.52,175.97 L72.80,175.91 L72.07,175.86 L71.35,175.81 L70.62,175.76 L69.90,175.71 L69.17,175.66 L68.45,175.61 L67.72,175.55 L67.00,175.50" stroke="#1c1c9c" stroke-width="1.9" fill="none" stroke-linejoin="round"/>
<path d="M67.00,172.00 L67.72,171.92 L68.45,171.83 L69.17,171.74 L69.90,171.65 L70.62,171.56 L71.35,171.46 L72.08,171.37 L72.80,171.28 L73.53,171.19 L74.26,171.10 L74.98,171.01 L75.70,170.93 L76.42,170.84 L77.14,170.77 L77.86,170.69 L78.58,170.62 L79.29,170.56 L80.00,170.50 L80.72,170.45 L81.43,170.40 L82.14,170.35 L82.84,170.30 L83.55,170.27 L84.25,170.23 L84.95,170.19 L85.65,170.16 L86.35,170.14 L87.05,170.11 L87.75,170.09 L88.45,170.07 L89.15,170.05 L89.86,170.04 L90.57,170.02 L91.28,170.01 L92.00,170.00 L92.70,169.99 L93.39,170.00 L94.06,170.01 L94.73,170.02 L95.40,170.04 L96.06,170.06 L96.73,170.08 L97.40,170.11 L98.07,170.13 L98.76,170.16 L99.46,170.18 L100.18,170.20 L100.92,170.22 L101.68,170.23 L102.46,170.23 L103.28,170.23 L104.12,170.22 L105.00,170.20 L105.54,170.18 L106.10,170.17 L106.69,170.14 L107.29,170.12 L107.91,170.09 L108.55,170.06 L109.20,170.03 L109.87,169.99 L110.56,169.95 L111.25,169.91 L111.97,169.87 L112.69,169.82 L113.42,169.78 L114.17,169.73 L114.92,169.68 L115.68,169.62 L116.45,169.57 L117.23,169.52 L118.01,169.46 L118.80,169.40 L119.59,169.35 L120.38,169.29 L121.18,169.23 L121.97,169.17 L122.77,169.11 L123.56,169.05 L124.35,168.99 L125.15,168.93 L125.93,168.86 L126.71,168.80 L127.49,168.74 L128.26,168.68 L129.02,168.62 L129.78,168.56 L130.53,168.50 L131.26,168.45 L131.99,168.39 L132.70,168.33 L133.40,168.28 L134.09,168.23 L134.76,168.18 L135.42,168.13 L136.06,168.08 L136.68,168.03 L137.28,167.99 L137.87,167.95 L138.43,167.91 L138.98,167.87 L139.50,167.83 L140.00,167.80 L140.90,167.74 L141.75,167.69 L142.54,167.65 L143.30,167.61 L144.02,167.58 L144.71,167.54 L145.38,167.51 L146.03,167.47 L146.68,167.44 L147.32,167.40 L147.97,167.36 L148.63,167.31 L149.30,167.26 L150.00,167.20 L150.72,167.13 L151.43,167.07 L152.15,167.00 L152.86,166.93 L153.58,166.85 L154.29,166.77 L155.01,166.69 L155.72,166.61 L156.43,166.52 L157.15,166.42 L157.86,166.33 L158.58,166.22 L159.29,166.11 L160.00,166.00 L160.72,165.88 L161.44,165.76 L162.17,165.64 L162.90,165.52 L163.63,165.39 L164.36,165.25 L165.09,165.12 L165.82,164.97 L166.53,164.82 L167.25,164.65 L167.95,164.48 L168.65,164.30 L169.33,164.11 L170.00,163.90 L170.70,163.67 L171.39,163.42 L172.05,163.17 L172.70,162.90 L173.35,162.62 L173.99,162.34 L174.63,162.04 L175.27,161.73 L175.93,161.42 L176.60,161.09 L177.29,160.75 L178.00,160.40 L178.58,160.12 L179.18,159.83 L179.79,159.53 L180.41,159.22 L181.04,158.91 L181.69,158.59 L182.33,158.27 L182.99,157.93 L183.64,157.60 L184.30,157.25 L184.96,156.90 L185.61,156.55 L186.27,156.18 L186.91,155.82 L187.55,155.44 L188.18,155.06 L188.80,154.68 L189.41,154.29 L190.00,153.90 L190.60,153.49 L191.19,153.07 L191.77,152.64 L192.34,152.21 L192.91,151.77 L193.47,151.32 L194.03,150.87 L194.58,150.41 L195.13,149.95 L195.68,149.48 L196.22,149.01 L196.76,148.53 L197.30,148.05 L197.84,147.57 L198.38,147.08 L198.92,146.59 L199.46,146.10 L200.00,145.60 L200.51,145.13 L201.03,144.65 L201.54,144.17 L202.06,143.68 L202.57,143.19 L203.09,142.69 L203.60,142.19 L204.12,141.69 L204.63,141.18 L205.14,140.67 L205.65,140.16 L206.15,139.65 L206.65,139.14 L207.15,138.63 L207.64,138.12 L208.12,137.61 L208.60,137.10 L209.08,136.60 L209.54,136.10 L210.00,135.60 L210.51,135.04 L211.01,134.49 L211.49,133.94 L211.97,133.39 L212.44,132.84 L212.91,132.29 L213.37,131.75 L213.82,131.20 L214.28,130.65 L214.73,130.10 L215.18,129.55 L215.64,128.99 L216.10,128.43 L216.56,127.86 L217.03,127.28 L217.50,126.70 L217.94,126.16 L218.38,125.61 L218.83,125.06 L219.28,124.50 L219.74,123.94 L220.19,123.37 L220.65,122.80 L221.11,122.22 L221.57,121.65 L222.02,121.07 L222.48,120.49 L222.93,119.91 L223.38,119.33 L223.83,118.75 L224.28,118.18 L224.71,117.60 L225.15,117.03 L225.58,116.46 L226.00,115.90 L226.44,115.31 L226.86,114.71 L227.29,114.10 L227.70,113.49 L228.11,112.88 L228.52,112.27 L228.93,111.65 L229.33,111.05 L229.73,110.44 L230.13,109.85 L230.53,109.26 L230.94,108.68 L231.34,108.11 L231.75,107.56 L232.16,107.02 L232.58,106.50 L233.00,106.00 L233.50,105.43 L233.99,104.91 L234.47,104.41 L234.95,103.94 L235.43,103.49 L235.92,103.04 L236.42,102.59 L236.94,102.13 L237.48,101.65 L238.05,101.14 L238.66,100.59 L239.30,100.00 L239.69,99.64 L240.11,99.26 L240.54,98.86 L241.00,98.45 L241.46,98.03 L241.95,97.60 L242.45,97.15 L242.96,96.70 L243.49,96.23 L244.02,95.76 L244.57,95.28 L245.12,94.79 L245.68,94.29 L246.25,93.79 L246.82,93.29 L247.40,92.78 L247.98,92.27 L248.56,91.76 L249.14,91.24 L249.72,90.72 L250.30,90.21 L250.87,89.69 L251.44,89.18 L252.01,88.67 L252.56,88.17 L253.11,87.67 L253.65,87.17 L254.18,86.68 L254.70,86.20 L255.21,85.73 L255.70,85.26 L256.17,84.80 L256.63,84.36 L257.08,83.92 L257.50,83.50 L258.07,82.92 L258.62,82.34 L259.16,81.77 L259.68,81.20 L260.19,80.64 L260.68,80.08 L261.16,79.53 L261.63,78.99 L262.09,78.45 L262.55,77.92 L262.99,77.40 L263.43,76.89 L263.87,76.38 L264.30,75.89 L264.72,75.40 L265.15,74.92 L265.57,74.46 L266.00,74.00 L266.54,73.44 L267.07,72.91 L267.60,72.40 L268.11,71.90 L268.62,71.42 L269.12,70.95 L269.61,70.47 L270.09,70.00 L270.57,69.51 L271.04,69.02 L271.50,68.50 L271.99,67.92 L272.46,67.34 L272.93,66.75 L273.38,66.15 L273.83,65.54 L274.27,64.94 L274.71,64.33 L275.14,63.72 L275.57,63.11 L276.00,62.50 L276.42,61.91 L276.83,61.32 L277.24,60.73 L277.64,60.14 L278.04,59.54 L278.43,58.95 L278.83,58.35 L279.22,57.74 L279.61,57.12 L280.00,56.50 L280.37,55.89 L280.74,55.26 L281.10,54.62 L281.46,53.98 L281.82,53.33 L282.17,52.68 L282.53,52.03 L282.89,51.38 L283.26,50.74 L283.63,50.12 L284.00,49.50 L284.39,48.84 L284.78,48.15 L285.16,47.44 L285.55,46.73 L285.94,46.04 L286.34,45.39 L286.75,44.78 L287.18,44.23 L287.63,43.77 L288.10,43.40 L288.87,42.99 L289.71,42.71 L290.57,42.56 L291.38,42.55 L292.10,42.70 L292.71,43.01 L293.29,43.48 L293.81,44.07 L294.22,44.72 L294.50,45.40 L294.62,46.07 L294.62,46.79 L294.52,47.56 L294.33,48.37 L294.08,49.22 L293.80,50.10 L293.60,50.63 L293.36,51.19 L293.08,51.76 L292.76,52.36 L292.42,52.98 L292.05,53.60 L291.67,54.24 L291.28,54.89 L290.88,55.54 L290.49,56.19 L290.10,56.84 L289.73,57.49 L289.38,58.14 L289.05,58.77 L288.76,59.39 L288.50,60.00 L288.23,60.74 L287.99,61.47 L287.79,62.19 L287.60,62.91 L287.44,63.62 L287.28,64.33 L287.13,65.05 L286.97,65.77 L286.80,66.50 L286.61,67.24 L286.40,68.00 L286.21,68.64 L286.02,69.28 L285.82,69.94 L285.61,70.60 L285.40,71.26 L285.19,71.93 L284.97,72.61 L284.75,73.28 L284.53,73.96 L284.30,74.64 L284.07,75.32 L283.83,75.99 L283.59,76.67 L283.35,77.34 L283.10,78.00 L282.85,78.67 L282.59,79.34 L282.33,80.01 L282.07,80.68 L281.80,81.35 L281.53,82.02 L281.25,82.69 L280.97,83.36 L280.69,84.02 L280.40,84.69 L280.11,85.35 L279.82,86.02 L279.52,86.68 L279.21,87.34 L278.90,88.00 L278.60,88.63 L278.29,89.26 L277.98,89.89 L277.67,90.52 L277.35,91.15 L277.03,91.78 L276.70,92.40 L276.37,93.03 L276.04,93.65 L275.70,94.28 L275.36,94.90 L275.01,95.52 L274.67,96.14 L274.31,96.76 L273.96,97.38 L273.60,98.00 L273.23,98.63 L272.85,99.26 L272.48,99.89 L272.10,100.52 L271.71,101.15 L271.32,101.78 L270.93,102.41 L270.53,103.04 L270.13,103.66 L269.73,104.28 L269.32,104.91 L268.90,105.53 L268.48,106.15 L268.06,106.77 L267.63,107.38 L267.20,108.00 L266.80,108.56 L266.39,109.13 L265.98,109.69 L265.57,110.25 L265.15,110.81 L264.73,111.37 L264.31,111.93 L263.88,112.49 L263.45,113.04 L263.01,113.60 L262.57,114.15 L262.13,114.71 L261.68,115.26 L261.23,115.81 L260.78,116.36 L260.32,116.91 L259.86,117.45 L259.40,118.00 L258.94,118.54 L258.48,119.07 L258.01,119.60 L257.54,120.14 L257.07,120.67 L256.60,121.20 L256.12,121.73 L255.63,122.26 L255.15,122.79 L254.66,123.31 L254.16,123.84 L253.67,124.36 L253.17,124.89 L252.67,125.41 L252.16,125.93 L251.65,126.45 L251.14,126.97 L250.62,127.48 L250.10,128.00 L249.61,128.49 L249.11,128.97 L248.61,129.46 L248.11,129.94 L247.60,130.42 L247.09,130.90 L246.58,131.38 L246.06,131.86 L245.54,132.34 L245.02,132.82 L244.50,133.29 L243.97,133.77 L243.44,134.24 L242.91,134.71 L242.37,135.19 L241.83,135.66 L241.29,136.13 L240.75,136.60 L240.20,137.07 L239.65,137.53 L239.10,138.00 L238.57,138.45 L238.03,138.89 L237.49,139.34 L236.94,139.79 L236.38,140.24 L235.82,140.69 L235.26,141.14 L234.70,141.59 L234.13,142.04 L233.56,142.49 L232.99,142.94 L232.42,143.38 L231.85,143.82 L231.28,144.26 L230.71,144.69 L230.14,145.13 L229.58,145.55 L229.02,145.97 L228.47,146.39 L227.92,146.80 L227.37,147.21 L226.83,147.61 L226.30,148.00 L225.68,148.45 L225.05,148.90 L224.43,149.34 L223.80,149.77 L223.18,150.19 L222.55,150.61 L221.94,151.03 L221.32,151.44 L220.72,151.84 L220.12,152.24 L219.53,152.64 L218.94,153.04 L218.37,153.43 L217.81,153.82 L217.26,154.22 L216.72,154.61 L216.20,155.00 L215.58,155.48 L215.01,155.94 L214.48,156.39 L213.97,156.82 L213.47,157.26 L212.97,157.70 L212.46,158.15 L211.91,158.62 L211.33,159.12 L210.70,159.64 L210.00,160.20 L209.58,160.53 L209.15,160.87 L208.69,161.23 L208.20,161.60 L207.71,161.99 L207.19,162.39 L206.65,162.79 L206.11,163.21 L205.54,163.64 L204.97,164.08 L204.38,164.52 L203.78,164.97 L203.18,165.43 L202.56,165.89 L201.94,166.36 L201.31,166.83 L200.68,167.30 L200.05,167.77 L199.42,168.24 L198.78,168.71 L198.15,169.17 L197.52,169.64 L196.89,170.10 L196.27,170.56 L195.65,171.01 L195.04,171.45 L194.44,171.89 L193.85,172.32 L193.27,172.74 L192.71,173.14 L192.15,173.54 L191.61,173.93 L191.09,174.30 L190.59,174.66 L190.10,175.00 L189.42,175.47 L188.77,175.92 L188.12,176.35 L187.50,176.76 L186.89,177.15 L186.29,177.53 L185.70,177.91 L185.11,178.28 L184.54,178.64 L183.97,179.00 L183.41,179.36 L182.84,179.73 L182.28,180.10 L181.72,180.48 L181.15,180.87 L180.58,181.28 L180.00,181.70 L179.43,182.13 L178.87,182.59 L178.32,183.05 L177.77,183.53 L177.22,184.03 L176.67,184.52 L176.13,185.03 L175.58,185.53 L175.04,186.03 L174.49,186.53 L173.95,187.02 L173.40,187.50 L172.84,187.97 L172.29,188.42 L171.72,188.85 L171.16,189.26 L170.58,189.64 L170.00,190.00 L169.36,190.36 L168.70,190.71 L168.04,191.04 L167.38,191.35 L166.70,191.65 L166.02,191.94 L165.34,192.20 L164.66,192.45 L163.98,192.69 L163.31,192.91 L162.63,193.12 L161.96,193.31 L161.30,193.49 L160.64,193.65 L160.00,193.80 L159.26,193.96 L158.54,194.09 L157.83,194.21 L157.14,194.30 L156.45,194.37 L155.75,194.43 L155.04,194.46 L154.32,194.47 L153.58,194.47 L152.81,194.44 L152.00,194.40 L151.38,194.35 L150.74,194.29 L150.09,194.22 L149.42,194.13 L148.73,194.03 L148.03,193.92 L147.33,193.80 L146.61,193.67 L145.89,193.53 L145.16,193.38 L144.42,193.22 L143.68,193.05 L142.94,192.88 L142.19,192.69 L141.45,192.51 L140.71,192.31 L139.97,192.12 L139.24,191.91 L138.52,191.71 L137.80,191.50 L137.14,191.30 L136.48,191.09 L135.82,190.87 L135.17,190.64 L134.51,190.40 L133.85,190.15 L133.19,189.90 L132.53,189.64 L131.86,189.38 L131.20,189.11 L130.54,188.83 L129.88,188.56 L129.22,188.28 L128.56,188.00 L127.90,187.73 L127.23,187.45 L126.57,187.17 L125.91,186.90 L125.25,186.63 L124.59,186.36 L123.92,186.10 L123.26,185.85 L122.60,185.60 L121.91,185.35 L121.23,185.09 L120.55,184.84 L119.86,184.58 L119.18,184.33 L118.49,184.08 L117.81,183.82 L117.12,183.57 L116.44,183.32 L115.75,183.07 L115.07,182.82 L114.38,182.58 L113.70,182.34 L113.01,182.10 L112.33,181.86 L111.64,181.62 L110.95,181.39 L110.26,181.17 L109.57,180.94 L108.88,180.72 L108.19,180.51 L107.50,180.30 L106.81,180.10 L106.12,179.89 L105.43,179.69 L104.73,179.49 L104.03,179.29 L103.33,179.10 L102.63,178.91 L101.93,178.72 L101.23,178.53 L100.53,178.35 L99.83,178.17 L99.13,178.00 L98.43,177.82 L97.73,177.66 L97.04,177.49 L96.35,177.34 L95.66,177.18 L94.98,177.04 L94.30,176.89 L93.63,176.76 L92.96,176.62 L92.30,176.50 L91.55,176.37 L90.80,176.24 L90.07,176.13 L89.33,176.02 L88.61,175.93 L87.89,175.84 L87.17,175.75 L86.46,175.68 L85.74,175.60 L85.03,175.53 L84.32,175.46 L83.61,175.38 L82.89,175.31 L82.18,175.24 L81.46,175.16 L80.73,175.08 L80.00,175.00 L79.29,174.92 L78.57,174.83 L77.85,174.75 L77.14,174.66 L76.42,174.58 L75.69,174.50 L74.97,174.41 L74.25,174.33 L73.52,174.25 L72.80,174.16 L72.07,174.08 L71.35,174.00 L70.62,173.92 L69.90,173.83 L69.17,173.75 L68.45,173.67 L67.72,173.58 L67.00,173.50" stroke="#138a13" stroke-width="1.9" fill="none" stroke-linejoin="round"/>
<path d="M67.00,171.00 L67.72,170.93 L68.45,170.86 L69.17,170.79 L69.90,170.72 L70.63,170.65 L71.35,170.58 L72.08,170.51 L72.81,170.43 L73.53,170.36 L74.26,170.29 L74.98,170.22 L75.70,170.16 L76.43,170.09 L77.14,170.03 L77.86,169.97 L78.58,169.91 L79.29,169.85 L80.00,169.80 L80.72,169.75 L81.43,169.70 L82.14,169.65 L82.85,169.60 L83.55,169.55 L84.25,169.51 L84.95,169.47 L85.65,169.43 L86.35,169.39 L87.05,169.35 L87.75,169.32 L88.45,169.29 L89.15,169.26 L89.86,169.24 L90.57,169.22 L91.28,169.21 L92.00,169.20 L92.70,169.20 L93.39,169.21 L94.06,169.22 L94.73,169.24 L95.40,169.27 L96.06,169.30 L96.73,169.34 L97.40,169.38 L98.07,169.41 L98.76,169.45 L99.46,169.49 L100.18,169.52 L100.92,169.55 L101.68,169.58 L102.46,169.59 L103.28,169.61 L104.12,169.61 L105.00,169.60 L105.54,169.59 L106.10,169.58 L106.69,169.56 L107.29,169.54 L107.91,169.52 L108.55,169.50 L109.20,169.47 L109.87,169.44 L110.55,169.41 L111.25,169.38 L111.96,169.34 L112.69,169.31 L113.42,169.27 L114.17,169.22 L114.92,169.18 L115.68,169.14 L116.45,169.09 L117.23,169.04 L118.01,169.00 L118.80,168.95 L119.59,168.89 L120.38,168.84 L121.17,168.79 L121.97,168.74 L122.77,168.68 L123.56,168.63 L124.35,168.58 L125.14,168.52 L125.93,168.47 L126.71,168.41 L127.49,168.36 L128.26,168.30 L129.02,168.25 L129.78,168.20 L130.53,168.14 L131.26,168.09 L131.99,168.04 L132.70,167.99 L133.40,167.94 L134.09,167.89 L134.76,167.85 L135.42,167.80 L136.06,167.76 L136.68,167.71 L137.28,167.67 L137.87,167.63 L138.43,167.60 L138.98,167.56 L139.50,167.53 L140.00,167.50 L140.90,167.45 L141.75,167.40 L142.54,167.36 L143.30,167.32 L144.02,167.28 L144.71,167.25 L145.38,167.21 L146.03,167.18 L146.68,167.14 L147.32,167.10 L147.97,167.06 L148.63,167.01 L149.30,166.96 L150.00,166.90 L150.72,166.83 L151.43,166.77 L152.15,166.70 L152.86,166.63 L153.58,166.55 L154.29,166.47 L155.01,166.39 L155.72,166.31 L156.43,166.22 L157.15,166.12 L157.86,166.03 L158.58,165.92 L159.29,165.81 L160.00,165.70 L160.72,165.58 L161.44,165.46 L162.17,165.34 L162.90,165.22 L163.63,165.09 L164.36,164.95 L165.09,164.82 L165.82,164.67 L166.53,164.52 L167.25,164.35 L167.95,164.18 L168.65,164.00 L169.33,163.81 L170.00,163.60 L170.70,163.37 L171.39,163.12 L172.05,162.87 L172.70,162.60 L173.35,162.33 L173.99,162.04 L174.63,161.75 L175.27,161.44 L175.93,161.12 L176.60,160.79 L177.29,160.45 L178.00,160.10 L178.58,159.81 L179.18,159.52 L179.79,159.22 L180.41,158.91 L181.05,158.59 L181.69,158.26 L182.33,157.93 L182.99,157.59 L183.64,157.25 L184.30,156.90 L184.96,156.54 L185.61,156.18 L186.27,155.81 L186.91,155.44 L187.55,155.06 L188.18,154.68 L188.80,154.29 L189.41,153.90 L190.00,153.50 L190.60,153.09 L191.19,152.67 L191.77,152.24 L192.34,151.80 L192.91,151.36 L193.47,150.92 L194.03,150.46 L194.58,150.01 L195.13,149.54 L195.67,149.08 L196.22,148.60 L196.76,148.13 L197.30,147.65 L197.84,147.16 L198.38,146.68 L198.92,146.19 L199.46,145.69 L200.00,145.20 L200.51,144.73 L201.03,144.25 L201.54,143.77 L202.06,143.28 L202.57,142.79 L203.09,142.29 L203.60,141.79 L204.12,141.29 L204.63,140.78 L205.14,140.27 L205.65,139.76 L206.15,139.25 L206.65,138.74 L207.15,138.23 L207.64,137.72 L208.12,137.21 L208.60,136.70 L209.08,136.20 L209.54,135.70 L210.00,135.20 L210.51,134.64 L211.01,134.09 L211.49,133.54 L211.97,132.99 L212.44,132.44 L212.91,131.90 L213.37,131.35 L213.83,130.81 L214.28,130.26 L214.73,129.71 L215.19,129.15 L215.64,128.60 L216.10,128.03 L216.56,127.46 L217.03,126.88 L217.50,126.30 L217.94,125.76 L218.38,125.22 L218.82,124.67 L219.25,124.12 L219.69,123.58 L220.14,123.02 L220.58,122.47 L221.02,121.91 L221.46,121.34 L221.91,120.78 L222.35,120.20 L222.80,119.63 L223.25,119.04 L223.70,118.45 L224.16,117.86 L224.62,117.25 L225.07,116.64 L225.54,116.03 L226.00,115.40 L226.40,114.86 L226.80,114.31 L227.20,113.75 L227.60,113.18 L228.01,112.61 L228.42,112.03 L228.82,111.44 L229.23,110.85 L229.65,110.26 L230.06,109.66 L230.47,109.05 L230.89,108.44 L231.31,107.84 L231.72,107.23 L232.14,106.61 L232.56,106.00 L232.98,105.39 L233.41,104.78 L233.83,104.17 L234.25,103.56 L234.67,102.96 L235.10,102.36 L235.52,101.76 L235.95,101.17 L236.37,100.58 L236.80,100.00 L237.22,99.43 L237.65,98.86 L238.08,98.29 L238.51,97.72 L238.94,97.15 L239.37,96.58 L239.81,96.01 L240.25,95.44 L240.69,94.88 L241.13,94.31 L241.57,93.75 L242.01,93.19 L242.45,92.63 L242.89,92.07 L243.33,91.51 L243.76,90.95 L244.20,90.40 L244.63,89.84 L245.06,89.29 L245.49,88.74 L245.92,88.20 L246.34,87.65 L246.76,87.11 L247.18,86.57 L247.59,86.03 L248.00,85.50 L248.45,84.91 L248.90,84.31 L249.34,83.73 L249.78,83.14 L250.21,82.56 L250.65,81.98 L251.08,81.41 L251.50,80.84 L251.93,80.26 L252.35,79.70 L252.77,79.13 L253.19,78.56 L253.61,78.00 L254.03,77.43 L254.45,76.87 L254.87,76.31 L255.29,75.75 L255.72,75.19 L256.14,74.62 L256.57,74.06 L257.00,73.50 L257.45,72.92 L257.90,72.33 L258.35,71.75 L258.80,71.17 L259.25,70.59 L259.71,70.01 L260.16,69.43 L260.62,68.85 L261.07,68.27 L261.53,67.69 L261.98,67.11 L262.43,66.54 L262.89,65.97 L263.34,65.39 L263.79,64.82 L264.23,64.26 L264.68,63.69 L265.12,63.12 L265.56,62.56 L266.00,62.00 L266.46,61.41 L266.92,60.82 L267.39,60.24 L267.85,59.65 L268.32,59.06 L268.79,58.48 L269.25,57.90 L269.71,57.32 L270.17,56.74 L270.62,56.16 L271.07,55.59 L271.52,55.02 L271.95,54.46 L272.38,53.90 L272.80,53.34 L273.21,52.79 L273.61,52.24 L274.00,51.70 L274.44,51.08 L274.87,50.47 L275.28,49.86 L275.69,49.27 L276.08,48.67 L276.47,48.09 L276.85,47.50 L277.22,46.92 L277.59,46.34 L277.95,45.76 L278.30,45.17 L278.65,44.59 L279.00,44.00 L279.38,43.35 L279.74,42.69 L280.10,42.05 L280.45,41.40 L280.79,40.75 L281.12,40.10 L281.46,39.45 L281.79,38.80 L282.12,38.14 L282.46,37.47 L282.80,36.80 L283.13,36.12 L283.44,35.40 L283.75,34.65 L284.06,33.89 L284.36,33.12 L284.67,32.36 L284.98,31.62 L285.31,30.91 L285.65,30.26 L286.01,29.66 L286.39,29.14 L286.80,28.70 L287.42,28.19 L288.10,27.75 L288.81,27.40 L289.52,27.16 L290.19,27.06 L290.80,27.10 L291.47,27.38 L292.13,27.87 L292.72,28.52 L293.20,29.25 L293.50,30.00 L293.58,30.58 L293.53,31.22 L293.39,31.90 L293.18,32.61 L292.93,33.34 L292.67,34.08 L292.41,34.80 L292.20,35.50 L292.01,36.19 L291.80,36.88 L291.59,37.56 L291.37,38.25 L291.15,38.93 L290.93,39.62 L290.71,40.31 L290.50,41.00 L290.29,41.69 L290.09,42.36 L289.89,43.03 L289.70,43.70 L289.49,44.38 L289.28,45.11 L289.05,45.87 L288.80,46.70 L288.63,47.27 L288.44,47.88 L288.25,48.53 L288.05,49.20 L287.85,49.89 L287.63,50.61 L287.42,51.34 L287.19,52.09 L286.97,52.84 L286.74,53.60 L286.51,54.36 L286.28,55.12 L286.04,55.87 L285.81,56.61 L285.58,57.33 L285.36,58.04 L285.13,58.72 L284.91,59.38 L284.70,60.00 L284.44,60.74 L284.19,61.45 L283.94,62.13 L283.69,62.80 L283.45,63.45 L283.20,64.09 L282.95,64.72 L282.70,65.36 L282.44,66.00 L282.17,66.65 L281.89,67.31 L281.60,68.00 L281.33,68.64 L281.05,69.28 L280.77,69.94 L280.47,70.60 L280.18,71.27 L279.88,71.94 L279.57,72.61 L279.26,73.29 L278.95,73.96 L278.63,74.64 L278.31,75.32 L277.98,75.99 L277.66,76.67 L277.33,77.34 L277.00,78.00 L276.68,78.63 L276.37,79.26 L276.04,79.89 L275.72,80.52 L275.39,81.14 L275.06,81.77 L274.73,82.40 L274.39,83.02 L274.06,83.65 L273.71,84.27 L273.37,84.89 L273.02,85.52 L272.67,86.14 L272.32,86.76 L271.96,87.38 L271.60,88.00 L271.23,88.63 L270.86,89.26 L270.48,89.89 L270.10,90.52 L269.71,91.15 L269.33,91.77 L268.93,92.40 L268.54,93.02 L268.15,93.65 L267.75,94.27 L267.34,94.90 L266.94,95.52 L266.53,96.14 L266.12,96.76 L265.71,97.38 L265.30,98.00 L264.90,98.59 L264.50,99.19 L264.10,99.78 L263.69,100.37 L263.29,100.96 L262.88,101.55 L262.47,102.14 L262.05,102.73 L261.63,103.32 L261.21,103.91 L260.79,104.50 L260.37,105.08 L259.94,105.67 L259.51,106.25 L259.08,106.84 L258.64,107.42 L258.20,108.00 L257.77,108.56 L257.34,109.12 L256.91,109.68 L256.47,110.24 L256.03,110.80 L255.59,111.36 L255.14,111.92 L254.70,112.47 L254.25,113.03 L253.79,113.58 L253.34,114.14 L252.88,114.69 L252.42,115.24 L251.96,115.80 L251.50,116.35 L251.04,116.90 L250.57,117.45 L250.10,118.00 L249.64,118.53 L249.19,119.06 L248.73,119.59 L248.27,120.12 L247.80,120.65 L247.34,121.18 L246.87,121.71 L246.40,122.24 L245.93,122.77 L245.46,123.29 L244.98,123.82 L244.51,124.35 L244.03,124.87 L243.55,125.39 L243.06,125.92 L242.57,126.44 L242.09,126.96 L241.59,127.48 L241.10,128.00 L240.62,128.51 L240.13,129.01 L239.64,129.52 L239.15,130.02 L238.65,130.53 L238.16,131.03 L237.66,131.53 L237.16,132.03 L236.65,132.53 L236.15,133.03 L235.64,133.53 L235.13,134.03 L234.62,134.53 L234.11,135.03 L233.60,135.52 L233.08,136.02 L232.56,136.52 L232.04,137.01 L231.52,137.51 L231.00,138.00 L230.49,138.48 L229.97,138.97 L229.44,139.46 L228.91,139.95 L228.38,140.44 L227.84,140.93 L227.30,141.42 L226.76,141.92 L226.22,142.41 L225.68,142.89 L225.14,143.38 L224.60,143.86 L224.06,144.34 L223.53,144.82 L222.99,145.29 L222.46,145.76 L221.94,146.22 L221.42,146.68 L220.91,147.13 L220.40,147.57 L219.90,148.00 L219.31,148.51 L218.74,149.00 L218.18,149.48 L217.62,149.94 L217.07,150.40 L216.53,150.85 L215.99,151.30 L215.45,151.75 L214.91,152.19 L214.36,152.64 L213.81,153.10 L213.25,153.56 L212.68,154.03 L212.10,154.51 L211.50,155.00 L210.99,155.42 L210.48,155.85 L209.96,156.28 L209.44,156.72 L208.92,157.16 L208.39,157.60 L207.85,158.05 L207.31,158.51 L206.77,158.96 L206.22,159.42 L205.67,159.88 L205.12,160.34 L204.56,160.80 L204.00,161.27 L203.43,161.73 L202.87,162.19 L202.30,162.66 L201.73,163.12 L201.15,163.58 L200.58,164.04 L200.00,164.50 L199.45,164.93 L198.89,165.37 L198.33,165.82 L197.76,166.26 L197.18,166.71 L196.60,167.16 L196.02,167.61 L195.43,168.06 L194.84,168.51 L194.25,168.96 L193.66,169.41 L193.06,169.86 L192.47,170.31 L191.88,170.76 L191.28,171.20 L190.69,171.64 L190.10,172.08 L189.52,172.52 L188.94,172.94 L188.36,173.37 L187.78,173.79 L187.22,174.20 L186.66,174.60 L186.10,175.00 L185.49,175.43 L184.90,175.86 L184.31,176.28 L183.72,176.69 L183.15,177.10 L182.58,177.51 L182.01,177.90 L181.44,178.30 L180.87,178.69 L180.30,179.08 L179.74,179.46 L179.17,179.85 L178.59,180.23 L178.01,180.61 L177.43,180.99 L176.83,181.36 L176.23,181.74 L175.62,182.12 L175.00,182.50 L174.40,182.86 L173.79,183.23 L173.17,183.60 L172.54,183.97 L171.90,184.35 L171.25,184.73 L170.59,185.11 L169.93,185.49 L169.27,185.86 L168.60,186.24 L167.94,186.60 L167.27,186.97 L166.62,187.32 L165.96,187.67 L165.31,188.01 L164.67,188.33 L164.04,188.65 L163.43,188.95 L162.82,189.24 L162.23,189.51 L161.66,189.76 L161.10,190.00 L160.35,190.32 L159.64,190.63 L158.97,190.92 L158.32,191.19 L157.68,191.45 L157.04,191.67 L156.39,191.87 L155.72,192.04 L155.03,192.16 L154.29,192.25 L153.50,192.30 L152.93,192.30 L152.34,192.28 L151.73,192.23 L151.10,192.16 L150.46,192.07 L149.80,191.95 L149.12,191.82 L148.44,191.68 L147.74,191.51 L147.04,191.34 L146.33,191.15 L145.61,190.95 L144.89,190.74 L144.17,190.52 L143.44,190.30 L142.72,190.08 L142.00,189.85 L141.28,189.62 L140.57,189.39 L139.86,189.16 L139.16,188.93 L138.48,188.71 L137.80,188.50 L137.13,188.28 L136.46,188.06 L135.79,187.82 L135.12,187.58 L134.46,187.33 L133.80,187.08 L133.14,186.82 L132.48,186.55 L131.82,186.29 L131.16,186.01 L130.50,185.74 L129.84,185.47 L129.19,185.19 L128.53,184.92 L127.88,184.64 L127.22,184.37 L126.56,184.10 L125.90,183.84 L125.25,183.58 L124.59,183.32 L123.93,183.08 L123.26,182.83 L122.60,182.60 L121.92,182.36 L121.23,182.13 L120.55,181.90 L119.87,181.67 L119.18,181.44 L118.50,181.22 L117.81,180.99 L117.13,180.77 L116.44,180.55 L115.76,180.34 L115.07,180.13 L114.39,179.92 L113.70,179.71 L113.01,179.51 L112.33,179.31 L111.64,179.11 L110.95,178.91 L110.26,178.72 L109.57,178.54 L108.88,178.35 L108.19,178.18 L107.50,178.00 L106.81,177.83 L106.12,177.67 L105.43,177.50 L104.73,177.35 L104.03,177.19 L103.33,177.04 L102.63,176.89 L101.93,176.75 L101.22,176.61 L100.52,176.47 L99.82,176.34 L99.12,176.21 L98.42,176.08 L97.72,175.95 L97.03,175.82 L96.34,175.70 L95.65,175.58 L94.97,175.46 L94.30,175.34 L93.62,175.23 L92.96,175.11 L92.30,175.00 L91.54,174.87 L90.80,174.75 L90.06,174.62 L89.33,174.51 L88.60,174.39 L87.88,174.28 L87.17,174.17 L86.45,174.06 L85.74,173.96 L85.03,173.86 L84.32,173.76 L83.61,173.66 L82.89,173.56 L82.18,173.47 L81.46,173.38 L80.73,173.29 L80.00,173.20 L79.29,173.12 L78.57,173.04 L77.86,172.96 L77.14,172.89 L76.42,172.82 L75.70,172.75 L74.97,172.69 L74.25,172.62 L73.52,172.56 L72.80,172.50 L72.07,172.44 L71.35,172.38 L70.62,172.32 L69.90,172.25 L69.17,172.19 L68.45,172.13 L67.72,172.07 L67.00,172.00" stroke="#e0208c" stroke-width="1.9" fill="none" stroke-linejoin="round"/>
<path d="M375.00,190.80 L375.71,190.79 L376.43,190.79 L377.14,190.78 L377.84,190.78 L378.55,190.78 L379.26,190.77 L379.96,190.77 L380.67,190.76 L381.37,190.76 L382.08,190.76 L382.78,190.75 L383.48,190.75 L384.19,190.75 L384.89,190.74 L385.60,190.74 L386.30,190.74 L387.00,190.73 L387.71,190.73 L388.42,190.73 L389.13,190.72 L389.84,190.72 L390.55,190.71 L391.26,190.71 L391.97,190.70 L392.69,190.69 L393.41,190.69 L394.13,190.68 L394.85,190.67 L395.58,190.66 L396.31,190.66 L397.04,190.65 L397.78,190.64 L398.51,190.62 L399.26,190.61 L400.00,190.60 L400.68,190.59 L401.37,190.57 L402.06,190.56 L402.75,190.55 L403.45,190.53 L404.14,190.51 L404.84,190.50 L405.54,190.48 L406.25,190.46 L406.95,190.45 L407.66,190.43 L408.37,190.41 L409.08,190.39 L409.80,190.37 L410.51,190.35 L411.23,190.33 L411.95,190.31 L412.67,190.28 L413.39,190.26 L414.11,190.24 L414.83,190.22 L415.55,190.20 L416.28,190.18 L417.00,190.15 L417.72,190.13 L418.45,190.11 L419.17,190.09 L419.90,190.07 L420.62,190.05 L421.35,190.02 L422.07,190.00 L422.80,189.98 L423.52,189.96 L424.25,189.94 L424.97,189.92 L425.69,189.90 L426.41,189.89 L427.13,189.87 L427.85,189.85 L428.57,189.83 L429.28,189.82 L430.00,189.80 L430.71,189.79 L431.43,189.77 L432.15,189.76 L432.86,189.75 L433.58,189.74 L434.30,189.73 L435.01,189.72 L435.73,189.72 L436.45,189.71 L437.17,189.71 L437.88,189.70 L438.60,189.70 L439.32,189.69 L440.04,189.69 L440.76,189.69 L441.48,189.68 L442.20,189.68 L442.91,189.68 L443.63,189.67 L444.35,189.67 L445.07,189.66 L445.79,189.66 L446.50,189.65 L447.22,189.65 L447.94,189.64 L448.65,189.63 L449.37,189.62 L450.08,189.61 L450.79,189.60 L451.51,189.59 L452.22,189.57 L452.93,189.56 L453.64,189.54 L454.35,189.52 L455.06,189.50 L455.77,189.48 L456.48,189.46 L457.19,189.43 L457.89,189.40 L458.59,189.37 L459.30,189.34 L460.00,189.30 L460.72,189.26 L461.45,189.22 L462.18,189.18 L462.93,189.14 L463.68,189.09 L464.44,189.05 L465.20,189.00 L465.97,188.95 L466.74,188.90 L467.51,188.85 L468.29,188.79 L469.07,188.74 L469.85,188.68 L470.63,188.63 L471.40,188.57 L472.18,188.51 L472.95,188.45 L473.72,188.39 L474.48,188.32 L475.24,188.26 L475.99,188.20 L476.74,188.13 L477.48,188.06 L478.21,188.00 L478.92,187.93 L479.63,187.86 L480.33,187.79 L481.02,187.71 L481.69,187.64 L482.35,187.57 L482.99,187.50 L483.62,187.42 L484.23,187.35 L484.83,187.27 L485.41,187.19 L485.97,187.12 L486.51,187.04 L487.03,186.96 L487.52,186.88 L488.00,186.80 L488.88,186.64 L489.67,186.48 L490.37,186.32 L491.03,186.16 L491.64,185.99 L492.25,185.81 L492.86,185.63 L493.51,185.43 L494.22,185.22 L495.00,185.00 L495.57,184.84 L496.15,184.68 L496.76,184.52 L497.39,184.35 L498.03,184.19 L498.68,184.01 L499.35,183.84 L500.04,183.65 L500.73,183.47 L501.43,183.27 L502.14,183.08 L502.86,182.87 L503.58,182.66 L504.30,182.44 L505.02,182.22 L505.75,181.98 L506.47,181.74 L507.19,181.49 L507.90,181.23 L508.61,180.97 L509.31,180.69 L510.00,180.40 L510.62,180.13 L511.24,179.84 L511.85,179.55 L512.47,179.24 L513.09,178.92 L513.70,178.59 L514.32,178.26 L514.93,177.91 L515.55,177.56 L516.16,177.20 L516.78,176.84 L517.40,176.47 L518.02,176.10 L518.63,175.73 L519.25,175.35 L519.87,174.98 L520.50,174.60 L521.12,174.22 L521.74,173.85 L522.37,173.47 L523.00,173.10 L523.62,172.74 L524.26,172.38 L524.89,172.02 L525.52,171.67 L526.16,171.33 L526.80,171.00 L527.43,170.68 L528.07,170.35 L528.71,170.03 L529.36,169.71 L530.01,169.39 L530.66,169.07 L531.31,168.75 L531.97,168.43 L532.63,168.11 L533.28,167.79 L533.94,167.48 L534.61,167.17 L535.27,166.86 L535.93,166.55 L536.59,166.24 L537.25,165.94 L537.91,165.63 L538.57,165.33 L539.23,165.04 L539.88,164.74 L540.53,164.45 L541.18,164.16 L541.83,163.87 L542.47,163.59 L543.11,163.31 L543.74,163.04 L544.37,162.77 L545.00,162.50 L545.71,162.20 L546.41,161.91 L547.11,161.63 L547.80,161.35 L548.49,161.07 L549.18,160.81 L549.86,160.54 L550.55,160.28 L551.23,160.02 L551.90,159.77 L552.58,159.52 L553.25,159.27 L553.93,159.01 L554.60,158.76 L555.27,158.51 L555.95,158.26 L556.62,158.01 L557.29,157.75 L557.97,157.50 L558.64,157.23 L559.32,156.97 L560.00,156.70 L560.66,156.43 L561.31,156.16 L561.97,155.88 L562.64,155.60 L563.30,155.31 L563.97,155.02 L564.63,154.73 L565.30,154.43 L565.97,154.14 L566.63,153.84 L567.30,153.55 L567.96,153.26 L568.62,152.97 L569.28,152.69 L569.93,152.41 L570.58,152.14 L571.23,151.88 L571.87,151.62 L572.51,151.38 L573.14,151.14 L573.77,150.91 L574.39,150.70 L575.00,150.50 L575.73,150.28 L576.46,150.07 L577.19,149.87 L577.91,149.68 L578.63,149.51 L579.34,149.34 L580.05,149.19 L580.75,149.04 L581.45,148.90 L582.13,148.76 L582.81,148.63 L583.47,148.50 L584.12,148.38 L584.76,148.25 L585.39,148.13 L586.00,148.00 L586.82,147.84 L587.63,147.70 L588.41,147.58 L589.17,147.46 L589.91,147.34 L590.63,147.22 L591.34,147.07 L592.03,146.90 L592.70,146.70 L593.44,146.41 L594.15,146.07 L594.84,145.70 L595.51,145.32 L596.16,144.96 L596.79,144.65 L597.40,144.40 L598.16,144.12 L598.88,143.87 L599.58,143.74 L600.30,143.80 L600.90,144.00 L601.57,144.32 L602.26,144.75 L602.92,145.24 L603.50,145.80 L603.94,146.39 L604.20,147.00 L604.26,147.53 L604.19,148.10 L604.01,148.72 L603.75,149.37 L603.42,150.04 L603.04,150.72 L602.64,151.42 L602.24,152.12 L601.85,152.82 L601.50,153.50 L601.20,154.10 L600.89,154.71 L600.57,155.34 L600.23,155.97 L599.89,156.61 L599.53,157.25 L599.17,157.89 L598.81,158.52 L598.45,159.15 L598.08,159.76 L597.72,160.36 L597.36,160.94 L597.00,161.50 L596.57,162.17 L596.15,162.80 L595.73,163.42 L595.31,164.02 L594.88,164.61 L594.44,165.19 L593.99,165.78 L593.51,166.38 L593.00,167.00 L592.57,167.51 L592.15,168.03 L591.71,168.54 L591.27,169.06 L590.82,169.58 L590.35,170.11 L589.87,170.63 L589.37,171.16 L588.85,171.69 L588.30,172.21 L587.73,172.74 L587.13,173.27 L586.50,173.80 L586.04,174.17 L585.57,174.54 L585.08,174.92 L584.58,175.30 L584.07,175.68 L583.54,176.06 L583.00,176.45 L582.45,176.83 L581.89,177.22 L581.32,177.61 L580.73,177.99 L580.14,178.38 L579.54,178.76 L578.93,179.15 L578.30,179.53 L577.67,179.91 L577.04,180.28 L576.39,180.66 L575.74,181.03 L575.08,181.40 L574.41,181.76 L573.74,182.12 L573.06,182.47 L572.38,182.82 L571.69,183.16 L571.00,183.50 L570.43,183.77 L569.84,184.04 L569.25,184.31 L568.65,184.57 L568.04,184.84 L567.42,185.10 L566.80,185.36 L566.16,185.61 L565.52,185.87 L564.87,186.12 L564.22,186.37 L563.56,186.62 L562.90,186.86 L562.23,187.11 L561.55,187.35 L560.87,187.59 L560.19,187.83 L559.51,188.06 L558.82,188.30 L558.12,188.53 L557.43,188.76 L556.73,188.99 L556.04,189.22 L555.34,189.44 L554.64,189.66 L553.94,189.88 L553.24,190.10 L552.54,190.32 L551.84,190.54 L551.15,190.75 L550.45,190.96 L549.76,191.17 L549.07,191.38 L548.38,191.59 L547.70,191.79 L547.02,192.00 L546.34,192.20 L545.67,192.40 L545.00,192.60 L544.30,192.81 L543.60,193.01 L542.89,193.22 L542.18,193.42 L541.47,193.62 L540.75,193.81 L540.04,194.01 L539.32,194.21 L538.59,194.40 L537.87,194.59 L537.15,194.78 L536.43,194.96 L535.70,195.15 L534.98,195.33 L534.26,195.51 L533.54,195.69 L532.82,195.87 L532.10,196.04 L531.39,196.21 L530.68,196.38 L529.97,196.55 L529.26,196.72 L528.56,196.88 L527.87,197.04 L527.18,197.20 L526.49,197.36 L525.81,197.51 L525.13,197.67 L524.47,197.82 L523.80,197.96 L523.15,198.11 L522.50,198.25 L521.86,198.39 L521.23,198.53 L520.61,198.67 L520.00,198.80 L519.21,198.97 L518.43,199.13 L517.66,199.27 L516.91,199.42 L516.17,199.55 L515.44,199.67 L514.72,199.80 L514.01,199.91 L513.30,200.03 L512.60,200.14 L511.91,200.26 L511.22,200.37 L510.53,200.48 L509.85,200.60 L509.16,200.72 L508.48,200.85 L507.79,200.98 L507.10,201.12 L506.41,201.27 L505.71,201.43 L505.00,201.60 L504.31,201.77 L503.61,201.95 L502.90,202.13 L502.19,202.31 L501.47,202.50 L500.76,202.69 L500.04,202.89 L499.32,203.09 L498.60,203.30 L497.88,203.50 L497.17,203.71 L496.46,203.93 L495.76,204.15 L495.07,204.36 L494.39,204.59 L493.72,204.81 L493.06,205.04 L492.41,205.27 L491.78,205.50 L491.17,205.73 L490.58,205.96 L490.00,206.20 L489.23,206.53 L488.50,206.88 L487.79,207.23 L487.11,207.58 L486.46,207.94 L485.82,208.31 L485.18,208.67 L484.56,209.04 L483.93,209.41 L483.30,209.78 L482.66,210.14 L482.00,210.50 L481.34,210.87 L480.70,211.25 L480.07,211.64 L479.44,212.04 L478.81,212.43 L478.18,212.83 L477.54,213.21 L476.88,213.58 L476.20,213.92 L475.50,214.25 L474.77,214.54 L474.00,214.80 L473.40,214.98 L472.78,215.14 L472.15,215.30 L471.49,215.44 L470.82,215.58 L470.14,215.71 L469.44,215.82 L468.73,215.93 L468.02,216.02 L467.30,216.10 L466.57,216.17 L465.83,216.23 L465.10,216.27 L464.36,216.30 L463.62,216.32 L462.89,216.33 L462.16,216.32 L461.43,216.29 L460.71,216.25 L460.00,216.20 L459.32,216.13 L458.65,216.04 L457.97,215.94 L457.28,215.82 L456.60,215.68 L455.92,215.53 L455.24,215.37 L454.55,215.19 L453.87,215.00 L453.18,214.80 L452.50,214.60 L451.81,214.38 L451.12,214.16 L450.44,213.93 L449.76,213.69 L449.07,213.46 L448.39,213.21 L447.71,212.97 L447.03,212.73 L446.35,212.48 L445.67,212.24 L445.00,212.00 L444.35,211.76 L443.70,211.51 L443.07,211.25 L442.44,210.98 L441.82,210.70 L441.21,210.42 L440.60,210.13 L439.99,209.83 L439.38,209.53 L438.77,209.23 L438.15,208.93 L437.53,208.63 L436.91,208.32 L436.28,208.02 L435.64,207.72 L434.98,207.42 L434.32,207.12 L433.64,206.84 L432.95,206.55 L432.24,206.28 L431.52,206.01 L430.77,205.75 L430.00,205.50 L429.42,205.32 L428.83,205.15 L428.21,204.97 L427.59,204.80 L426.95,204.63 L426.29,204.47 L425.63,204.30 L424.95,204.14 L424.26,203.98 L423.56,203.82 L422.85,203.66 L422.13,203.50 L421.41,203.35 L420.68,203.20 L419.94,203.05 L419.20,202.90 L418.45,202.75 L417.70,202.61 L416.94,202.46 L416.18,202.32 L415.42,202.18 L414.67,202.04 L413.91,201.91 L413.15,201.77 L412.39,201.64 L411.64,201.51 L410.89,201.38 L410.14,201.25 L409.40,201.12 L408.67,201.00 L407.94,200.87 L407.22,200.75 L406.50,200.63 L405.80,200.51 L405.11,200.39 L404.42,200.28 L403.75,200.16 L403.09,200.05 L402.44,199.93 L401.81,199.82 L401.19,199.71 L400.59,199.61 L400.00,199.50 L399.17,199.35 L398.36,199.20 L397.56,199.06 L396.78,198.92 L396.01,198.78 L395.26,198.65 L394.51,198.52 L393.78,198.39 L393.06,198.27 L392.35,198.15 L391.65,198.03 L390.95,197.92 L390.27,197.81 L389.59,197.70 L388.92,197.59 L388.25,197.49 L387.60,197.38 L386.94,197.29 L386.29,197.19 L385.64,197.09 L385.00,197.00 L384.22,196.89 L383.47,196.79 L382.73,196.69 L382.00,196.60 L381.28,196.52 L380.58,196.43 L379.88,196.35 L379.18,196.27 L378.49,196.20 L377.80,196.12 L377.11,196.04 L376.41,195.96 L375.71,195.88 L375.00,195.80" stroke="#000000" stroke-width="1.9" fill="none" stroke-linejoin="round"/>
<path d="M375.00,190.60 L375.71,190.59 L376.43,190.59 L377.14,190.58 L377.84,190.58 L378.55,190.58 L379.26,190.57 L379.96,190.57 L380.67,190.57 L381.37,190.56 L382.08,190.56 L382.78,190.56 L383.48,190.55 L384.19,190.55 L384.89,190.55 L385.60,190.55 L386.30,190.54 L387.01,190.54 L387.71,190.54 L388.42,190.53 L389.13,190.53 L389.84,190.52 L390.55,190.52 L391.26,190.51 L391.98,190.51 L392.69,190.50 L393.41,190.49 L394.13,190.49 L394.85,190.48 L395.58,190.47 L396.31,190.46 L397.04,190.45 L397.78,190.44 L398.51,190.43 L399.26,190.41 L400.00,190.40 L400.68,190.39 L401.37,190.37 L402.06,190.36 L402.75,190.34 L403.45,190.32 L404.14,190.31 L404.84,190.29 L405.54,190.27 L406.25,190.25 L406.95,190.23 L407.66,190.20 L408.37,190.18 L409.08,190.16 L409.80,190.14 L410.51,190.11 L411.23,190.09 L411.95,190.07 L412.67,190.04 L413.39,190.02 L414.11,189.99 L414.83,189.97 L415.55,189.94 L416.28,189.92 L417.00,189.90 L417.72,189.87 L418.45,189.85 L419.17,189.82 L419.90,189.80 L420.62,189.77 L421.35,189.75 L422.07,189.73 L422.80,189.70 L423.52,189.68 L424.25,189.66 L424.97,189.64 L425.69,189.61 L426.41,189.59 L427.13,189.57 L427.85,189.55 L428.57,189.53 L429.28,189.52 L430.00,189.50 L430.71,189.48 L431.43,189.47 L432.15,189.46 L432.86,189.45 L433.58,189.43 L434.29,189.43 L435.01,189.42 L435.73,189.41 L436.45,189.40 L437.17,189.40 L437.88,189.39 L438.60,189.39 L439.32,189.38 L440.04,189.38 L440.76,189.37 L441.48,189.37 L442.20,189.37 L442.91,189.36 L443.63,189.36 L444.35,189.36 L445.07,189.35 L445.78,189.35 L446.50,189.34 L447.22,189.33 L447.93,189.33 L448.65,189.32 L449.37,189.31 L450.08,189.30 L450.79,189.29 L451.51,189.28 L452.22,189.26 L452.93,189.25 L453.64,189.23 L454.35,189.21 L455.06,189.20 L455.77,189.17 L456.48,189.15 L457.19,189.12 L457.89,189.10 L458.59,189.07 L459.30,189.03 L460.00,189.00 L460.72,188.96 L461.45,188.92 L462.18,188.88 L462.93,188.84 L463.68,188.80 L464.44,188.76 L465.20,188.71 L465.97,188.67 L466.74,188.62 L467.51,188.57 L468.29,188.52 L469.07,188.47 L469.85,188.41 L470.63,188.36 L471.40,188.31 L472.18,188.25 L472.95,188.19 L473.72,188.13 L474.48,188.07 L475.24,188.01 L475.99,187.95 L476.74,187.89 L477.48,187.83 L478.21,187.76 L478.92,187.69 L479.63,187.63 L480.33,187.56 L481.02,187.49 L481.69,187.42 L482.35,187.35 L482.99,187.28 L483.62,187.21 L484.23,187.13 L484.83,187.06 L485.41,186.99 L485.97,186.91 L486.51,186.83 L487.03,186.76 L487.52,186.68 L488.00,186.60 L488.88,186.44 L489.67,186.28 L490.38,186.12 L491.03,185.96 L491.64,185.79 L492.25,185.62 L492.86,185.43 L493.51,185.23 L494.22,185.03 L495.00,184.80 L495.57,184.64 L496.16,184.48 L496.77,184.32 L497.40,184.15 L498.04,183.98 L498.71,183.81 L499.38,183.63 L500.07,183.45 L500.77,183.26 L501.48,183.06 L502.19,182.86 L502.91,182.66 L503.64,182.45 L504.36,182.23 L505.09,182.00 L505.81,181.77 L506.53,181.53 L507.24,181.28 L507.95,181.02 L508.64,180.76 L509.33,180.48 L510.00,180.20 L510.64,179.92 L511.28,179.62 L511.91,179.31 L512.55,178.99 L513.18,178.66 L513.81,178.33 L514.43,177.98 L515.06,177.63 L515.68,177.27 L516.31,176.90 L516.93,176.53 L517.55,176.16 L518.17,175.78 L518.79,175.40 L519.41,175.01 L520.03,174.63 L520.65,174.24 L521.27,173.86 L521.89,173.48 L522.51,173.09 L523.13,172.71 L523.75,172.34 L524.38,171.97 L525.00,171.60 L525.63,171.23 L526.26,170.87 L526.90,170.50 L527.54,170.13 L528.19,169.76 L528.83,169.38 L529.48,169.01 L530.13,168.64 L530.78,168.27 L531.43,167.89 L532.07,167.52 L532.71,167.14 L533.36,166.77 L533.99,166.40 L534.62,166.02 L535.25,165.65 L535.87,165.28 L536.49,164.91 L537.10,164.53 L537.70,164.17 L538.29,163.80 L538.87,163.43 L539.44,163.06 L540.00,162.70 L540.65,162.27 L541.29,161.85 L541.91,161.42 L542.52,161.00 L543.12,160.58 L543.71,160.17 L544.30,159.75 L544.87,159.33 L545.45,158.92 L546.01,158.50 L546.58,158.08 L547.15,157.66 L547.71,157.23 L548.28,156.81 L548.85,156.37 L549.42,155.94 L550.00,155.50 L550.56,155.08 L551.13,154.65 L551.70,154.23 L552.27,153.81 L552.84,153.39 L553.41,152.97 L553.99,152.55 L554.56,152.12 L555.12,151.69 L555.69,151.26 L556.25,150.82 L556.81,150.37 L557.36,149.92 L557.90,149.45 L558.44,148.98 L558.97,148.50 L559.49,148.01 L560.00,147.50 L560.49,146.99 L560.97,146.46 L561.43,145.92 L561.88,145.37 L562.32,144.81 L562.76,144.24 L563.18,143.66 L563.61,143.08 L564.03,142.49 L564.45,141.89 L564.87,141.30 L565.30,140.70 L565.73,140.10 L566.16,139.51 L566.61,138.91 L567.06,138.33 L567.53,137.74 L568.01,137.17 L568.50,136.60 L568.95,136.10 L569.41,135.60 L569.88,135.10 L570.35,134.60 L570.83,134.11 L571.32,133.61 L571.81,133.12 L572.30,132.62 L572.80,132.13 L573.31,131.64 L573.81,131.15 L574.32,130.66 L574.84,130.17 L575.35,129.68 L575.87,129.19 L576.39,128.70 L576.90,128.21 L577.42,127.73 L577.94,127.24 L578.46,126.76 L578.97,126.27 L579.49,125.78 L580.00,125.30 L580.52,124.81 L581.05,124.32 L581.59,123.83 L582.14,123.34 L582.69,122.85 L583.24,122.36 L583.80,121.87 L584.36,121.38 L584.93,120.89 L585.49,120.41 L586.04,119.92 L586.60,119.43 L587.15,118.95 L587.69,118.46 L588.23,117.98 L588.76,117.50 L589.28,117.02 L589.78,116.55 L590.28,116.07 L590.76,115.60 L591.22,115.13 L591.67,114.66 L592.10,114.20 L592.63,113.59 L593.13,112.94 L593.60,112.28 L594.06,111.61 L594.49,110.94 L594.91,110.27 L595.32,109.62 L595.73,108.98 L596.13,108.38 L596.53,107.82 L596.93,107.30 L597.34,106.83 L597.76,106.43 L598.20,106.10 L599.01,105.64 L599.85,105.32 L600.68,105.13 L601.47,105.05 L602.20,105.10 L602.98,105.30 L603.77,105.66 L604.40,106.11 L604.70,106.60 L604.55,107.12 L604.03,107.70 L603.35,108.35 L602.70,109.10 L602.38,109.56 L602.04,110.06 L601.69,110.60 L601.33,111.17 L600.95,111.77 L600.56,112.38 L600.17,113.02 L599.78,113.66 L599.38,114.30 L598.98,114.95 L598.59,115.58 L598.20,116.20 L597.82,116.81 L597.44,117.42 L597.07,118.04 L596.69,118.67 L596.31,119.30 L595.93,119.93 L595.54,120.57 L595.15,121.20 L594.76,121.83 L594.36,122.46 L593.95,123.08 L593.53,123.69 L593.10,124.30 L592.69,124.86 L592.28,125.42 L591.87,125.96 L591.45,126.50 L591.03,127.04 L590.60,127.57 L590.17,128.10 L589.73,128.63 L589.27,129.17 L588.81,129.72 L588.33,130.27 L587.84,130.83 L587.33,131.41 L586.80,132.00 L586.39,132.46 L585.96,132.92 L585.52,133.39 L585.07,133.86 L584.62,134.33 L584.15,134.81 L583.67,135.30 L583.19,135.79 L582.70,136.28 L582.20,136.77 L581.70,137.27 L581.19,137.78 L580.68,138.28 L580.16,138.80 L579.64,139.31 L579.12,139.83 L578.60,140.35 L578.08,140.88 L577.56,141.41 L577.04,141.94 L576.53,142.47 L576.01,143.01 L575.51,143.56 L575.00,144.10 L574.55,144.59 L574.10,145.09 L573.64,145.60 L573.18,146.11 L572.72,146.63 L572.26,147.15 L571.80,147.68 L571.33,148.21 L570.87,148.75 L570.40,149.29 L569.93,149.83 L569.46,150.37 L569.00,150.92 L568.53,151.47 L568.06,152.02 L567.59,152.57 L567.12,153.12 L566.66,153.66 L566.19,154.21 L565.73,154.76 L565.26,155.30 L564.80,155.84 L564.34,156.37 L563.89,156.91 L563.43,157.44 L562.98,157.96 L562.53,158.48 L562.08,158.99 L561.64,159.50 L561.20,160.00 L560.69,160.58 L560.19,161.15 L559.69,161.73 L559.19,162.30 L558.69,162.86 L558.20,163.43 L557.71,163.99 L557.22,164.55 L556.73,165.11 L556.25,165.66 L555.76,166.21 L555.28,166.76 L554.80,167.30 L554.32,167.84 L553.84,168.37 L553.36,168.90 L552.88,169.43 L552.40,169.95 L551.92,170.47 L551.44,170.99 L550.96,171.50 L550.48,172.00 L550.00,172.50 L549.47,173.04 L548.94,173.58 L548.42,174.11 L547.89,174.64 L547.37,175.17 L546.85,175.69 L546.33,176.20 L545.81,176.71 L545.28,177.21 L544.76,177.71 L544.24,178.21 L543.72,178.70 L543.19,179.18 L542.66,179.66 L542.14,180.14 L541.61,180.61 L541.07,181.08 L540.54,181.54 L540.00,182.00 L539.42,182.48 L538.85,182.96 L538.27,183.43 L537.69,183.90 L537.10,184.36 L536.52,184.81 L535.93,185.26 L535.35,185.71 L534.76,186.15 L534.17,186.58 L533.57,187.01 L532.98,187.44 L532.39,187.86 L531.79,188.27 L531.20,188.69 L530.60,189.10 L530.00,189.50 L529.39,189.91 L528.78,190.31 L528.18,190.71 L527.58,191.10 L526.98,191.48 L526.38,191.86 L525.78,192.23 L525.17,192.61 L524.56,192.97 L523.94,193.34 L523.32,193.70 L522.68,194.06 L522.03,194.42 L521.37,194.78 L520.69,195.14 L520.00,195.50 L519.42,195.80 L518.82,196.10 L518.22,196.40 L517.60,196.70 L516.97,197.00 L516.34,197.30 L515.70,197.60 L515.05,197.91 L514.40,198.20 L513.74,198.50 L513.07,198.80 L512.40,199.09 L511.73,199.38 L511.06,199.66 L510.38,199.94 L509.70,200.22 L509.03,200.49 L508.35,200.76 L507.68,201.02 L507.00,201.28 L506.33,201.52 L505.66,201.77 L505.00,202.00 L504.32,202.23 L503.63,202.45 L502.93,202.66 L502.23,202.86 L501.52,203.06 L500.80,203.24 L500.09,203.43 L499.37,203.60 L498.65,203.78 L497.93,203.95 L497.22,204.11 L496.51,204.28 L495.80,204.44 L495.11,204.61 L494.42,204.77 L493.75,204.94 L493.08,205.10 L492.43,205.27 L491.80,205.45 L491.18,205.63 L490.58,205.81 L490.00,206.00 L489.24,206.26 L488.51,206.53 L487.81,206.80 L487.13,207.07 L486.47,207.34 L485.82,207.61 L485.19,207.89 L484.56,208.16 L483.93,208.44 L483.30,208.73 L482.66,209.01 L482.00,209.30 L481.34,209.60 L480.69,209.93 L480.06,210.27 L479.43,210.61 L478.80,210.96 L478.17,211.31 L477.52,211.64 L476.87,211.96 L476.19,212.27 L475.49,212.54 L474.76,212.79 L474.00,213.00 L473.40,213.14 L472.80,213.27 L472.18,213.39 L471.56,213.50 L470.92,213.60 L470.27,213.69 L469.61,213.77 L468.94,213.84 L468.26,213.90 L467.57,213.94 L466.87,213.97 L466.15,213.99 L465.43,213.99 L464.69,213.98 L463.94,213.96 L463.18,213.92 L462.40,213.86 L461.61,213.79 L460.81,213.70 L460.00,213.60 L459.45,213.52 L458.89,213.42 L458.31,213.31 L457.73,213.19 L457.14,213.05 L456.54,212.90 L455.94,212.74 L455.32,212.57 L454.70,212.39 L454.07,212.20 L453.43,212.00 L452.79,211.80 L452.14,211.58 L451.48,211.36 L450.82,211.13 L450.15,210.89 L449.48,210.65 L448.80,210.40 L448.12,210.15 L447.44,209.89 L446.75,209.63 L446.05,209.37 L445.36,209.10 L444.66,208.84 L443.96,208.57 L443.26,208.30 L442.56,208.03 L441.85,207.76 L441.14,207.49 L440.44,207.23 L439.73,206.96 L439.02,206.70 L438.32,206.44 L437.61,206.19 L436.91,205.94 L436.21,205.69 L435.50,205.45 L434.81,205.22 L434.11,204.99 L433.42,204.77 L432.72,204.56 L432.04,204.36 L431.35,204.16 L430.67,203.98 L430.00,203.80 L429.31,203.63 L428.60,203.45 L427.90,203.29 L427.19,203.12 L426.47,202.96 L425.75,202.80 L425.03,202.64 L424.31,202.48 L423.58,202.33 L422.85,202.18 L422.11,202.03 L421.38,201.88 L420.64,201.74 L419.90,201.60 L419.17,201.46 L418.43,201.32 L417.69,201.19 L416.96,201.06 L416.22,200.93 L415.49,200.80 L414.76,200.67 L414.03,200.55 L413.30,200.42 L412.58,200.30 L411.86,200.18 L411.15,200.07 L410.43,199.95 L409.73,199.84 L409.03,199.73 L408.33,199.61 L407.64,199.51 L406.96,199.40 L406.29,199.29 L405.62,199.19 L404.96,199.08 L404.31,198.98 L403.66,198.88 L403.03,198.78 L402.40,198.68 L401.79,198.59 L401.18,198.49 L400.58,198.39 L400.00,198.30 L399.17,198.17 L398.36,198.04 L397.56,197.91 L396.78,197.79 L396.01,197.67 L395.26,197.56 L394.51,197.45 L393.78,197.34 L393.06,197.23 L392.35,197.13 L391.65,197.03 L390.95,196.94 L390.27,196.84 L389.59,196.75 L388.92,196.67 L388.26,196.58 L387.60,196.50 L386.94,196.42 L386.29,196.35 L385.64,196.27 L385.00,196.20 L384.22,196.12 L383.47,196.04 L382.73,195.97 L382.00,195.91 L381.28,195.85 L380.58,195.80 L379.88,195.75 L379.18,195.70 L378.49,195.65 L377.80,195.60 L377.11,195.56 L376.41,195.51 L375.71,195.46 L375.00,195.40" stroke="#f01818" stroke-width="1.9" fill="none" stroke-linejoin="round"/>
<path d="M375.00,190.20 L375.71,190.19 L376.43,190.19 L377.14,190.18 L377.84,190.18 L378.55,190.18 L379.26,190.17 L379.96,190.17 L380.67,190.17 L381.37,190.16 L382.08,190.16 L382.78,190.16 L383.48,190.15 L384.19,190.15 L384.89,190.15 L385.60,190.15 L386.30,190.14 L387.01,190.14 L387.71,190.14 L388.42,190.13 L389.13,190.13 L389.84,190.12 L390.55,190.12 L391.26,190.11 L391.98,190.11 L392.69,190.10 L393.41,190.09 L394.13,190.09 L394.85,190.08 L395.58,190.07 L396.31,190.06 L397.04,190.05 L397.78,190.04 L398.51,190.03 L399.26,190.01 L400.00,190.00 L400.68,189.99 L401.37,189.97 L402.06,189.96 L402.75,189.94 L403.45,189.92 L404.14,189.91 L404.84,189.89 L405.54,189.87 L406.25,189.85 L406.95,189.83 L407.66,189.80 L408.37,189.78 L409.08,189.76 L409.80,189.74 L410.51,189.71 L411.23,189.69 L411.95,189.67 L412.67,189.64 L413.39,189.62 L414.11,189.59 L414.83,189.57 L415.55,189.54 L416.28,189.52 L417.00,189.50 L417.72,189.47 L418.45,189.45 L419.17,189.42 L419.90,189.40 L420.62,189.37 L421.35,189.35 L422.07,189.33 L422.80,189.30 L423.52,189.28 L424.25,189.26 L424.97,189.24 L425.69,189.21 L426.41,189.19 L427.13,189.17 L427.85,189.15 L428.57,189.13 L429.28,189.12 L430.00,189.10 L430.71,189.08 L431.43,189.07 L432.15,189.06 L432.86,189.05 L433.58,189.03 L434.29,189.03 L435.01,189.02 L435.73,189.01 L436.45,189.00 L437.17,189.00 L437.88,188.99 L438.60,188.99 L439.32,188.98 L440.04,188.98 L440.76,188.97 L441.48,188.97 L442.20,188.97 L442.91,188.96 L443.63,188.96 L444.35,188.96 L445.07,188.95 L445.78,188.95 L446.50,188.94 L447.22,188.93 L447.93,188.93 L448.65,188.92 L449.37,188.91 L450.08,188.90 L450.79,188.89 L451.51,188.88 L452.22,188.86 L452.93,188.85 L453.64,188.83 L454.35,188.81 L455.06,188.80 L455.77,188.77 L456.48,188.75 L457.19,188.72 L457.89,188.70 L458.59,188.67 L459.30,188.63 L460.00,188.60 L460.72,188.56 L461.45,188.52 L462.18,188.48 L462.93,188.44 L463.68,188.40 L464.44,188.36 L465.20,188.31 L465.97,188.27 L466.74,188.22 L467.51,188.17 L468.29,188.12 L469.07,188.07 L469.85,188.01 L470.63,187.96 L471.40,187.91 L472.18,187.85 L472.95,187.79 L473.72,187.73 L474.48,187.67 L475.24,187.61 L475.99,187.55 L476.74,187.49 L477.48,187.43 L478.21,187.36 L478.92,187.29 L479.63,187.23 L480.33,187.16 L481.02,187.09 L481.69,187.02 L482.35,186.95 L482.99,186.88 L483.62,186.81 L484.23,186.73 L484.83,186.66 L485.41,186.59 L485.97,186.51 L486.51,186.43 L487.03,186.36 L487.52,186.28 L488.00,186.20 L488.88,186.04 L489.67,185.88 L490.38,185.72 L491.03,185.56 L491.64,185.39 L492.25,185.22 L492.86,185.03 L493.51,184.83 L494.22,184.63 L495.00,184.40 L495.57,184.24 L496.16,184.08 L496.77,183.92 L497.40,183.75 L498.04,183.58 L498.71,183.41 L499.38,183.23 L500.07,183.05 L500.77,182.86 L501.48,182.67 L502.20,182.47 L502.92,182.26 L503.64,182.05 L504.36,181.83 L505.09,181.61 L505.81,181.38 L506.53,181.13 L507.24,180.89 L507.95,180.63 L508.64,180.36 L509.33,180.09 L510.00,179.80 L510.64,179.51 L511.29,179.21 L511.94,178.90 L512.59,178.58 L513.24,178.25 L513.89,177.91 L514.54,177.56 L515.19,177.20 L515.84,176.84 L516.48,176.47 L517.13,176.09 L517.77,175.71 L518.41,175.33 L519.04,174.94 L519.67,174.55 L520.29,174.17 L520.91,173.78 L521.52,173.39 L522.12,173.00 L522.71,172.61 L523.30,172.23 L523.88,171.85 L524.44,171.47 L525.00,171.10 L525.66,170.66 L526.30,170.22 L526.94,169.78 L527.56,169.34 L528.17,168.90 L528.78,168.46 L529.38,168.01 L529.96,167.57 L530.54,167.13 L531.12,166.68 L531.69,166.23 L532.25,165.79 L532.81,165.33 L533.36,164.88 L533.91,164.42 L534.46,163.96 L535.00,163.50 L535.58,163.00 L536.15,162.49 L536.73,161.98 L537.29,161.47 L537.86,160.95 L538.41,160.42 L538.96,159.90 L539.50,159.38 L540.04,158.85 L540.56,158.33 L541.07,157.82 L541.57,157.30 L542.06,156.79 L542.54,156.29 L543.00,155.80 L543.55,155.21 L544.07,154.63 L544.57,154.06 L545.05,153.51 L545.53,152.95 L545.99,152.39 L546.44,151.82 L546.89,151.23 L547.34,150.63 L547.80,150.00 L548.19,149.44 L548.57,148.87 L548.94,148.30 L549.31,147.71 L549.67,147.11 L550.03,146.51 L550.39,145.89 L550.75,145.26 L551.12,144.63 L551.50,143.99 L551.89,143.33 L552.29,142.67 L552.70,142.00 L553.04,141.45 L553.40,140.90 L553.76,140.33 L554.13,139.76 L554.51,139.17 L554.89,138.58 L555.28,137.99 L555.67,137.39 L556.07,136.78 L556.46,136.17 L556.86,135.55 L557.26,134.93 L557.66,134.32 L558.05,133.70 L558.44,133.08 L558.83,132.46 L559.21,131.84 L559.58,131.22 L559.94,130.61 L560.30,130.00 L560.66,129.38 L561.01,128.76 L561.35,128.15 L561.68,127.54 L562.01,126.93 L562.34,126.32 L562.66,125.71 L562.98,125.09 L563.30,124.48 L563.62,123.86 L563.94,123.24 L564.25,122.62 L564.58,121.98 L564.90,121.34 L565.23,120.70 L565.56,120.04 L565.90,119.37 L566.25,118.69 L566.60,118.00 L566.90,117.42 L567.19,116.84 L567.49,116.25 L567.79,115.66 L568.10,115.07 L568.40,114.47 L568.71,113.86 L569.01,113.25 L569.32,112.64 L569.63,112.02 L569.95,111.40 L570.26,110.77 L570.58,110.14 L570.90,109.50 L571.22,108.86 L571.54,108.21 L571.87,107.56 L572.20,106.90 L572.53,106.24 L572.86,105.57 L573.19,104.89 L573.53,104.21 L573.87,103.53 L574.21,102.83 L574.55,102.13 L574.90,101.43 L575.25,100.72 L575.60,100.00 L575.88,99.43 L576.16,98.84 L576.45,98.24 L576.75,97.63 L577.05,97.01 L577.35,96.38 L577.65,95.74 L577.96,95.09 L578.27,94.43 L578.59,93.77 L578.90,93.09 L579.22,92.42 L579.55,91.73 L579.87,91.04 L580.19,90.35 L580.52,89.65 L580.85,88.96 L581.18,88.26 L581.51,87.55 L581.84,86.85 L582.17,86.15 L582.50,85.44 L582.82,84.74 L583.15,84.04 L583.48,83.35 L583.81,82.65 L584.13,81.96 L584.46,81.28 L584.78,80.60 L585.10,79.93 L585.42,79.26 L585.74,78.60 L586.05,77.95 L586.36,77.31 L586.66,76.67 L586.97,76.05 L587.27,75.44 L587.56,74.83 L587.85,74.25 L588.14,73.67 L588.42,73.11 L588.70,72.56 L588.97,72.02 L589.24,71.50 L589.50,71.00 L589.91,70.22 L590.31,69.45 L590.70,68.70 L591.09,67.97 L591.47,67.26 L591.84,66.57 L592.21,65.89 L592.57,65.23 L592.92,64.59 L593.28,63.96 L593.62,63.35 L593.97,62.75 L594.31,62.17 L594.65,61.61 L594.99,61.06 L595.33,60.52 L595.66,60.00 L596.00,59.50 L596.46,58.82 L596.90,58.16 L597.34,57.54 L597.77,56.94 L598.20,56.38 L598.63,55.85 L599.07,55.36 L599.53,54.91 L600.00,54.50 L600.75,53.94 L601.55,53.41 L602.35,52.99 L603.09,52.73 L603.70,52.70 L604.56,53.24 L605.00,54.20 L604.95,54.66 L604.75,55.19 L604.42,55.77 L604.00,56.41 L603.51,57.08 L602.99,57.78 L602.46,58.51 L601.96,59.25 L601.50,60.00 L601.19,60.56 L600.87,61.15 L600.55,61.75 L600.22,62.36 L599.89,62.99 L599.56,63.63 L599.22,64.28 L598.88,64.95 L598.54,65.62 L598.19,66.30 L597.84,66.99 L597.48,67.69 L597.12,68.38 L596.75,69.09 L596.38,69.79 L596.00,70.50 L595.68,71.08 L595.36,71.68 L595.02,72.27 L594.68,72.88 L594.33,73.49 L593.98,74.10 L593.62,74.72 L593.26,75.35 L592.90,75.98 L592.53,76.61 L592.16,77.25 L591.80,77.89 L591.43,78.53 L591.07,79.17 L590.70,79.82 L590.34,80.46 L589.99,81.11 L589.64,81.76 L589.30,82.41 L588.96,83.06 L588.63,83.71 L588.31,84.35 L588.00,85.00 L587.70,85.64 L587.42,86.28 L587.14,86.92 L586.88,87.56 L586.62,88.20 L586.36,88.84 L586.11,89.49 L585.87,90.13 L585.63,90.78 L585.39,91.42 L585.15,92.07 L584.92,92.72 L584.68,93.38 L584.44,94.03 L584.19,94.69 L583.95,95.34 L583.69,96.00 L583.43,96.66 L583.17,97.33 L582.89,97.99 L582.60,98.66 L582.31,99.33 L582.00,100.00 L581.71,100.60 L581.42,101.21 L581.11,101.83 L580.80,102.45 L580.47,103.07 L580.14,103.70 L579.81,104.34 L579.46,104.97 L579.12,105.61 L578.76,106.25 L578.41,106.89 L578.05,107.53 L577.69,108.18 L577.33,108.82 L576.97,109.46 L576.61,110.10 L576.25,110.73 L575.89,111.37 L575.53,112.00 L575.18,112.63 L574.83,113.25 L574.49,113.86 L574.15,114.48 L573.82,115.08 L573.50,115.68 L573.19,116.27 L572.88,116.86 L572.59,117.43 L572.30,118.00 L571.94,118.72 L571.60,119.43 L571.27,120.13 L570.95,120.82 L570.64,121.49 L570.33,122.17 L570.03,122.83 L569.74,123.49 L569.45,124.14 L569.16,124.79 L568.88,125.44 L568.59,126.09 L568.30,126.73 L568.01,127.38 L567.72,128.03 L567.42,128.68 L567.11,129.34 L566.80,130.00 L566.50,130.64 L566.19,131.28 L565.88,131.93 L565.57,132.58 L565.26,133.23 L564.95,133.89 L564.63,134.55 L564.32,135.20 L564.00,135.85 L563.68,136.50 L563.36,137.14 L563.04,137.78 L562.72,138.42 L562.40,139.04 L562.08,139.65 L561.76,140.26 L561.44,140.85 L561.12,141.43 L560.80,142.00 L560.40,142.68 L560.01,143.33 L559.61,143.96 L559.22,144.57 L558.82,145.17 L558.43,145.77 L558.03,146.35 L557.63,146.94 L557.23,147.53 L556.82,148.13 L556.42,148.74 L556.01,149.36 L555.60,150.00 L555.23,150.59 L554.86,151.19 L554.49,151.80 L554.12,152.42 L553.75,153.04 L553.37,153.67 L553.00,154.30 L552.62,154.94 L552.24,155.57 L551.86,156.21 L551.47,156.85 L551.09,157.49 L550.70,158.12 L550.30,158.75 L549.90,159.38 L549.50,160.00 L549.11,160.60 L548.72,161.19 L548.32,161.79 L547.92,162.39 L547.52,162.99 L547.12,163.59 L546.71,164.19 L546.30,164.79 L545.89,165.39 L545.48,165.98 L545.06,166.57 L544.64,167.15 L544.22,167.73 L543.79,168.31 L543.36,168.88 L542.93,169.44 L542.50,170.00 L542.05,170.56 L541.61,171.12 L541.16,171.67 L540.71,172.21 L540.26,172.75 L539.81,173.28 L539.36,173.81 L538.90,174.33 L538.43,174.86 L537.96,175.38 L537.49,175.90 L537.01,176.42 L536.52,176.94 L536.02,177.46 L535.51,177.98 L535.00,178.50 L534.52,178.98 L534.03,179.47 L533.53,179.96 L533.03,180.45 L532.52,180.94 L532.00,181.44 L531.48,181.93 L530.96,182.42 L530.43,182.91 L529.89,183.39 L529.35,183.88 L528.81,184.35 L528.27,184.83 L527.73,185.29 L527.18,185.75 L526.63,186.20 L526.09,186.64 L525.54,187.08 L525.00,187.50 L524.43,187.93 L523.85,188.36 L523.28,188.77 L522.70,189.18 L522.12,189.58 L521.54,189.98 L520.96,190.36 L520.38,190.74 L519.79,191.12 L519.20,191.49 L518.61,191.86 L518.02,192.22 L517.42,192.58 L516.82,192.94 L516.22,193.29 L515.61,193.65 L515.00,194.00 L514.38,194.36 L513.75,194.71 L513.13,195.05 L512.50,195.39 L511.87,195.72 L511.24,196.05 L510.60,196.38 L509.97,196.70 L509.32,197.03 L508.68,197.35 L508.03,197.67 L507.37,197.99 L506.71,198.31 L506.04,198.63 L505.37,198.95 L504.69,199.27 L504.00,199.60 L503.37,199.90 L502.74,200.20 L502.10,200.51 L501.46,200.82 L500.81,201.14 L500.16,201.45 L499.50,201.77 L498.84,202.08 L498.18,202.40 L497.51,202.71 L496.84,203.02 L496.16,203.33 L495.48,203.63 L494.80,203.93 L494.12,204.22 L493.44,204.50 L492.75,204.78 L492.07,205.05 L491.38,205.31 L490.69,205.56 L490.00,205.80 L489.34,206.02 L488.67,206.24 L488.00,206.46 L487.33,206.67 L486.66,206.89 L485.98,207.09 L485.30,207.29 L484.62,207.49 L483.94,207.68 L483.26,207.86 L482.57,208.04 L481.89,208.21 L481.20,208.37 L480.51,208.53 L479.82,208.67 L479.13,208.81 L478.44,208.94 L477.75,209.05 L477.06,209.16 L476.37,209.25 L475.69,209.33 L475.00,209.40 L474.30,209.46 L473.60,209.51 L472.91,209.55 L472.22,209.58 L471.54,209.60 L470.87,209.62 L470.19,209.62 L469.51,209.61 L468.83,209.59 L468.15,209.57 L467.46,209.53 L466.77,209.48 L466.07,209.42 L465.36,209.36 L464.64,209.28 L463.90,209.19 L463.16,209.09 L462.39,208.99 L461.61,208.87 L460.82,208.74 L460.00,208.60 L459.43,208.49 L458.84,208.38 L458.25,208.25 L457.64,208.11 L457.03,207.96 L456.41,207.81 L455.79,207.64 L455.15,207.47 L454.51,207.28 L453.86,207.09 L453.20,206.89 L452.54,206.69 L451.87,206.48 L451.20,206.26 L450.52,206.04 L449.84,205.82 L449.15,205.59 L448.46,205.35 L447.76,205.12 L447.06,204.88 L446.35,204.64 L445.65,204.39 L444.94,204.15 L444.23,203.90 L443.51,203.66 L442.80,203.41 L442.08,203.17 L441.36,202.93 L440.64,202.69 L439.92,202.45 L439.20,202.21 L438.48,201.98 L437.77,201.75 L437.05,201.52 L436.33,201.30 L435.62,201.08 L434.91,200.87 L434.20,200.67 L433.49,200.47 L432.78,200.28 L432.08,200.10 L431.38,199.92 L430.69,199.76 L430.00,199.60 L429.30,199.45 L428.60,199.30 L427.90,199.15 L427.19,199.01 L426.47,198.87 L425.75,198.73 L425.03,198.60 L424.30,198.46 L423.58,198.34 L422.84,198.21 L422.11,198.08 L421.38,197.96 L420.64,197.84 L419.90,197.73 L419.17,197.61 L418.43,197.50 L417.69,197.39 L416.96,197.28 L416.22,197.18 L415.49,197.08 L414.76,196.98 L414.03,196.88 L413.30,196.78 L412.58,196.69 L411.86,196.59 L411.14,196.50 L410.43,196.41 L409.73,196.33 L409.03,196.24 L408.33,196.16 L407.64,196.07 L406.96,195.99 L406.29,195.91 L405.62,195.84 L404.96,195.76 L404.31,195.69 L403.66,195.61 L403.03,195.54 L402.40,195.47 L401.79,195.40 L401.18,195.33 L400.58,195.27 L400.00,195.20 L399.17,195.11 L398.36,195.02 L397.56,194.94 L396.78,194.86 L396.01,194.78 L395.26,194.71 L394.51,194.64 L393.78,194.58 L393.06,194.52 L392.35,194.46 L391.64,194.41 L390.95,194.36 L390.27,194.31 L389.59,194.26 L388.92,194.22 L388.25,194.18 L387.59,194.14 L386.94,194.10 L386.29,194.07 L385.64,194.03 L385.00,194.00 L384.22,193.96 L383.47,193.93 L382.72,193.91 L382.00,193.89 L381.28,193.88 L380.57,193.87 L379.87,193.86 L379.18,193.85 L378.49,193.84 L377.80,193.84 L377.11,193.83 L376.41,193.82 L375.71,193.81 L375.00,193.80" stroke="#138a13" stroke-width="1.9" fill="none" stroke-linejoin="round"/>
<path d="M375.00,190.40 L375.71,190.39 L376.43,190.39 L377.14,190.38 L377.84,190.38 L378.55,190.38 L379.26,190.37 L379.96,190.37 L380.67,190.37 L381.37,190.36 L382.08,190.36 L382.78,190.36 L383.48,190.35 L384.19,190.35 L384.89,190.35 L385.60,190.35 L386.30,190.34 L387.01,190.34 L387.71,190.34 L388.42,190.33 L389.13,190.33 L389.84,190.32 L390.55,190.32 L391.26,190.31 L391.98,190.31 L392.69,190.30 L393.41,190.29 L394.13,190.29 L394.85,190.28 L395.58,190.27 L396.31,190.26 L397.04,190.25 L397.78,190.24 L398.51,190.23 L399.26,190.21 L400.00,190.20 L400.68,190.19 L401.37,190.17 L402.06,190.16 L402.75,190.14 L403.45,190.12 L404.14,190.11 L404.84,190.09 L405.54,190.07 L406.25,190.05 L406.95,190.03 L407.66,190.00 L408.37,189.98 L409.08,189.96 L409.80,189.94 L410.51,189.91 L411.23,189.89 L411.95,189.87 L412.67,189.84 L413.39,189.82 L414.11,189.79 L414.83,189.77 L415.55,189.74 L416.28,189.72 L417.00,189.70 L417.72,189.67 L418.45,189.65 L419.17,189.62 L419.90,189.60 L420.62,189.57 L421.35,189.55 L422.07,189.53 L422.80,189.50 L423.52,189.48 L424.25,189.46 L424.97,189.44 L425.69,189.41 L426.41,189.39 L427.13,189.37 L427.85,189.35 L428.57,189.33 L429.28,189.32 L430.00,189.30 L430.71,189.28 L431.43,189.27 L432.15,189.26 L432.86,189.25 L433.58,189.23 L434.29,189.23 L435.01,189.22 L435.73,189.21 L436.45,189.20 L437.17,189.20 L437.88,189.19 L438.60,189.19 L439.32,189.18 L440.04,189.18 L440.76,189.17 L441.48,189.17 L442.20,189.17 L442.91,189.16 L443.63,189.16 L444.35,189.16 L445.07,189.15 L445.78,189.15 L446.50,189.14 L447.22,189.13 L447.93,189.13 L448.65,189.12 L449.37,189.11 L450.08,189.10 L450.79,189.09 L451.51,189.08 L452.22,189.06 L452.93,189.05 L453.64,189.03 L454.35,189.01 L455.06,189.00 L455.77,188.97 L456.48,188.95 L457.19,188.92 L457.89,188.90 L458.59,188.87 L459.30,188.83 L460.00,188.80 L460.72,188.76 L461.45,188.72 L462.18,188.68 L462.93,188.64 L463.68,188.60 L464.44,188.56 L465.20,188.51 L465.97,188.47 L466.74,188.42 L467.51,188.37 L468.29,188.32 L469.07,188.27 L469.85,188.21 L470.63,188.16 L471.40,188.11 L472.18,188.05 L472.95,187.99 L473.72,187.93 L474.48,187.87 L475.24,187.81 L475.99,187.75 L476.74,187.69 L477.48,187.63 L478.21,187.56 L478.92,187.49 L479.63,187.43 L480.33,187.36 L481.02,187.29 L481.69,187.22 L482.35,187.15 L482.99,187.08 L483.62,187.01 L484.23,186.93 L484.83,186.86 L485.41,186.79 L485.97,186.71 L486.51,186.63 L487.03,186.56 L487.52,186.48 L488.00,186.40 L488.88,186.24 L489.67,186.08 L490.38,185.92 L491.03,185.76 L491.64,185.59 L492.25,185.42 L492.86,185.23 L493.51,185.03 L494.22,184.83 L495.00,184.60 L495.57,184.44 L496.16,184.28 L496.77,184.12 L497.40,183.95 L498.04,183.78 L498.71,183.61 L499.38,183.43 L500.07,183.25 L500.77,183.06 L501.48,182.87 L502.20,182.67 L502.92,182.46 L503.64,182.25 L504.36,182.03 L505.09,181.81 L505.81,181.58 L506.53,181.33 L507.24,181.09 L507.95,180.83 L508.64,180.56 L509.33,180.29 L510.00,180.00 L510.64,179.71 L511.28,179.42 L511.92,179.11 L512.55,178.79 L513.18,178.47 L513.81,178.13 L514.44,177.79 L515.07,177.44 L515.70,177.09 L516.32,176.72 L516.95,176.35 L517.57,175.98 L518.19,175.60 L518.81,175.22 L519.44,174.83 L520.06,174.45 L520.67,174.05 L521.29,173.66 L521.91,173.27 L522.53,172.87 L523.15,172.48 L523.76,172.08 L524.38,171.69 L525.00,171.30 L525.61,170.91 L526.23,170.52 L526.86,170.11 L527.50,169.70 L528.14,169.29 L528.78,168.87 L529.43,168.45 L530.08,168.02 L530.73,167.59 L531.37,167.16 L532.02,166.73 L532.66,166.30 L533.29,165.87 L533.92,165.44 L534.54,165.01 L535.15,164.58 L535.75,164.16 L536.33,163.74 L536.91,163.33 L537.47,162.92 L538.01,162.52 L538.54,162.13 L539.05,161.74 L539.53,161.37 L540.00,161.00 L540.67,160.46 L541.29,159.94 L541.87,159.44 L542.42,158.94 L542.94,158.46 L543.45,157.98 L543.95,157.50 L544.44,157.01 L544.95,156.52 L545.46,156.02 L546.00,155.50 L546.50,155.02 L547.00,154.54 L547.51,154.06 L548.02,153.57 L548.53,153.08 L549.04,152.58 L549.55,152.08 L550.06,151.58 L550.56,151.07 L551.06,150.56 L551.55,150.04 L552.03,149.52 L552.50,149.00 L552.99,148.44 L553.46,147.89 L553.93,147.34 L554.38,146.79 L554.83,146.23 L555.28,145.66 L555.72,145.09 L556.16,144.50 L556.61,143.91 L557.07,143.29 L557.53,142.66 L558.00,142.00 L558.38,141.47 L558.75,140.93 L559.13,140.38 L559.51,139.81 L559.89,139.24 L560.27,138.66 L560.66,138.06 L561.05,137.46 L561.43,136.86 L561.83,136.24 L562.22,135.62 L562.62,134.99 L563.02,134.36 L563.42,133.73 L563.83,133.09 L564.24,132.44 L564.66,131.80 L565.08,131.15 L565.50,130.50 L565.87,129.94 L566.24,129.38 L566.61,128.82 L567.00,128.24 L567.39,127.66 L567.78,127.08 L568.17,126.49 L568.57,125.90 L568.98,125.31 L569.38,124.71 L569.79,124.11 L570.19,123.51 L570.60,122.90 L571.01,122.29 L571.41,121.68 L571.82,121.07 L572.22,120.46 L572.63,119.85 L573.03,119.24 L573.42,118.63 L573.81,118.02 L574.20,117.41 L574.59,116.81 L574.96,116.20 L575.33,115.60 L575.70,115.00 L576.07,114.38 L576.44,113.76 L576.80,113.14 L577.16,112.52 L577.51,111.90 L577.85,111.28 L578.20,110.66 L578.54,110.05 L578.87,109.43 L579.21,108.81 L579.54,108.19 L579.88,107.57 L580.21,106.95 L580.54,106.33 L580.88,105.71 L581.21,105.08 L581.55,104.46 L581.89,103.83 L582.23,103.20 L582.57,102.56 L582.92,101.93 L583.28,101.29 L583.64,100.65 L584.00,100.00 L584.35,99.39 L584.70,98.76 L585.06,98.12 L585.43,97.47 L585.81,96.81 L586.19,96.14 L586.57,95.47 L586.96,94.79 L587.34,94.10 L587.74,93.42 L588.13,92.73 L588.52,92.04 L588.91,91.36 L589.30,90.68 L589.69,90.00 L590.08,89.34 L590.46,88.68 L590.84,88.03 L591.21,87.40 L591.58,86.78 L591.94,86.17 L592.29,85.58 L592.63,85.01 L592.97,84.46 L593.29,83.94 L593.61,83.43 L593.91,82.95 L594.20,82.50 L594.68,81.75 L595.13,81.06 L595.55,80.41 L595.95,79.80 L596.34,79.23 L596.74,78.69 L597.14,78.17 L597.56,77.68 L598.00,77.20 L598.61,76.58 L599.25,75.96 L599.90,75.38 L600.55,74.88 L601.19,74.51 L601.80,74.30 L602.79,74.29 L603.76,74.55 L604.30,75.00 L604.21,75.55 L603.74,76.26 L603.11,77.05 L602.50,77.80 L602.02,78.38 L601.52,78.92 L600.99,79.49 L600.42,80.15 L599.80,81.00 L599.55,81.38 L599.30,81.79 L599.03,82.24 L598.76,82.72 L598.47,83.23 L598.18,83.77 L597.88,84.33 L597.58,84.92 L597.26,85.53 L596.94,86.15 L596.62,86.80 L596.29,87.46 L595.95,88.14 L595.62,88.83 L595.27,89.53 L594.93,90.24 L594.58,90.95 L594.23,91.67 L593.87,92.40 L593.52,93.12 L593.16,93.84 L592.81,94.56 L592.45,95.28 L592.10,95.99 L591.74,96.69 L591.39,97.38 L591.04,98.06 L590.69,98.72 L590.34,99.37 L590.00,100.00 L589.65,100.64 L589.30,101.27 L588.95,101.91 L588.60,102.56 L588.25,103.20 L587.89,103.85 L587.54,104.49 L587.18,105.14 L586.82,105.78 L586.46,106.43 L586.11,107.07 L585.75,107.72 L585.38,108.36 L585.02,109.00 L584.66,109.63 L584.30,110.27 L583.93,110.90 L583.57,111.52 L583.20,112.14 L582.83,112.76 L582.46,113.37 L582.10,113.97 L581.73,114.57 L581.36,115.16 L580.99,115.74 L580.62,116.32 L580.24,116.89 L579.87,117.45 L579.50,118.00 L579.05,118.64 L578.60,119.27 L578.13,119.88 L577.66,120.49 L577.19,121.08 L576.70,121.67 L576.22,122.25 L575.74,122.82 L575.25,123.38 L574.77,123.94 L574.29,124.49 L573.82,125.05 L573.35,125.59 L572.89,126.14 L572.44,126.69 L572.00,127.23 L571.57,127.78 L571.15,128.33 L570.75,128.88 L570.37,129.44 L570.00,130.00 L569.58,130.67 L569.18,131.34 L568.80,132.01 L568.43,132.68 L568.08,133.34 L567.74,134.01 L567.41,134.67 L567.09,135.33 L566.78,136.00 L566.48,136.66 L566.18,137.32 L565.88,137.99 L565.59,138.66 L565.29,139.33 L565.00,140.00 L564.72,140.66 L564.46,141.33 L564.21,142.00 L563.97,142.67 L563.75,143.34 L563.52,144.01 L563.30,144.69 L563.08,145.36 L562.85,146.03 L562.61,146.70 L562.37,147.37 L562.10,148.03 L561.82,148.69 L561.52,149.35 L561.20,150.00 L560.88,150.61 L560.54,151.21 L560.19,151.81 L559.83,152.40 L559.46,153.00 L559.08,153.59 L558.69,154.18 L558.30,154.76 L557.89,155.35 L557.47,155.93 L557.05,156.52 L556.62,157.10 L556.19,157.68 L555.75,158.26 L555.30,158.84 L554.85,159.42 L554.40,160.00 L553.98,160.53 L553.55,161.06 L553.11,161.60 L552.67,162.13 L552.21,162.66 L551.76,163.19 L551.29,163.72 L550.82,164.25 L550.35,164.77 L549.87,165.30 L549.39,165.83 L548.90,166.35 L548.42,166.88 L547.93,167.40 L547.44,167.92 L546.95,168.44 L546.46,168.96 L545.97,169.47 L545.49,169.99 L545.00,170.50 L544.51,171.01 L544.03,171.53 L543.54,172.04 L543.04,172.55 L542.55,173.06 L542.06,173.58 L541.56,174.09 L541.06,174.59 L540.56,175.10 L540.06,175.61 L539.56,176.11 L539.06,176.61 L538.55,177.11 L538.05,177.60 L537.54,178.10 L537.03,178.59 L536.53,179.07 L536.02,179.55 L535.51,180.03 L535.00,180.50 L534.45,181.00 L533.91,181.50 L533.36,182.00 L532.81,182.50 L532.26,182.99 L531.71,183.49 L531.16,183.97 L530.61,184.46 L530.06,184.94 L529.50,185.41 L528.95,185.88 L528.39,186.35 L527.83,186.81 L527.27,187.26 L526.70,187.71 L526.14,188.15 L525.57,188.58 L525.00,189.00 L524.39,189.44 L523.78,189.88 L523.16,190.30 L522.54,190.72 L521.92,191.13 L521.30,191.53 L520.67,191.93 L520.05,192.32 L519.42,192.70 L518.79,193.09 L518.16,193.46 L517.53,193.83 L516.90,194.20 L516.27,194.57 L515.63,194.94 L515.00,195.30 L514.39,195.65 L513.78,196.00 L513.17,196.34 L512.57,196.67 L511.97,197.00 L511.37,197.33 L510.76,197.65 L510.16,197.97 L509.55,198.29 L508.93,198.60 L508.30,198.92 L507.67,199.23 L507.02,199.55 L506.36,199.86 L505.69,200.18 L505.00,200.50 L504.41,200.77 L503.82,201.03 L503.21,201.30 L502.59,201.57 L501.96,201.84 L501.33,202.10 L500.68,202.37 L500.03,202.64 L499.38,202.91 L498.72,203.17 L498.05,203.44 L497.38,203.70 L496.71,203.96 L496.03,204.23 L495.36,204.49 L494.68,204.74 L494.01,205.00 L493.33,205.26 L492.66,205.51 L491.99,205.76 L491.32,206.01 L490.66,206.26 L490.00,206.50 L489.32,206.75 L488.64,207.02 L487.97,207.28 L487.29,207.55 L486.61,207.83 L485.93,208.10 L485.25,208.38 L484.57,208.65 L483.89,208.92 L483.22,209.19 L482.54,209.45 L481.85,209.71 L481.17,209.95 L480.49,210.19 L479.81,210.42 L479.13,210.63 L478.44,210.84 L477.75,211.02 L477.07,211.20 L476.38,211.35 L475.69,211.48 L475.00,211.60 L474.30,211.70 L473.61,211.79 L472.92,211.87 L472.24,211.93 L471.56,211.98 L470.88,212.02 L470.20,212.05 L469.52,212.07 L468.84,212.07 L468.16,212.07 L467.47,212.05 L466.77,212.02 L466.07,211.97 L465.36,211.92 L464.63,211.85 L463.90,211.77 L463.15,211.68 L462.39,211.58 L461.61,211.46 L460.81,211.34 L460.00,211.20 L459.44,211.10 L458.87,210.98 L458.28,210.85 L457.70,210.71 L457.10,210.56 L456.49,210.40 L455.88,210.22 L455.26,210.04 L454.63,209.85 L454.00,209.65 L453.36,209.44 L452.71,209.22 L452.06,209.00 L451.41,208.77 L450.74,208.54 L450.08,208.30 L449.41,208.05 L448.73,207.80 L448.05,207.55 L447.37,207.29 L446.68,207.03 L445.99,206.77 L445.30,206.50 L444.60,206.24 L443.91,205.97 L443.21,205.71 L442.51,205.44 L441.81,205.18 L441.11,204.91 L440.40,204.65 L439.70,204.39 L439.00,204.13 L438.30,203.88 L437.59,203.63 L436.89,203.39 L436.19,203.15 L435.49,202.91 L434.80,202.68 L434.10,202.46 L433.41,202.25 L432.72,202.04 L432.04,201.84 L431.35,201.65 L430.68,201.47 L430.00,201.30 L429.31,201.13 L428.61,200.96 L427.90,200.80 L427.19,200.64 L426.48,200.48 L425.76,200.33 L425.04,200.18 L424.31,200.03 L423.58,199.88 L422.85,199.74 L422.12,199.60 L421.38,199.46 L420.65,199.33 L419.91,199.19 L419.17,199.06 L418.44,198.94 L417.70,198.81 L416.96,198.69 L416.23,198.57 L415.49,198.45 L414.76,198.33 L414.03,198.22 L413.31,198.11 L412.58,198.00 L411.87,197.89 L411.15,197.79 L410.44,197.69 L409.73,197.59 L409.03,197.49 L408.34,197.39 L407.65,197.30 L406.97,197.20 L406.29,197.11 L405.62,197.02 L404.96,196.94 L404.31,196.85 L403.66,196.77 L403.03,196.69 L402.40,196.61 L401.79,196.53 L401.18,196.45 L400.58,196.37 L400.00,196.30 L399.17,196.20 L398.36,196.10 L397.57,196.01 L396.78,195.92 L396.01,195.84 L395.26,195.77 L394.51,195.70 L393.78,195.63 L393.06,195.57 L392.35,195.51 L391.65,195.45 L390.95,195.40 L390.27,195.35 L389.59,195.30 L388.92,195.25 L388.25,195.21 L387.60,195.17 L386.94,195.12 L386.29,195.08 L385.64,195.04 L385.00,195.00 L384.22,194.95 L383.47,194.91 L382.72,194.88 L382.00,194.84 L381.28,194.81 L380.57,194.79 L379.87,194.76 L379.18,194.74 L378.49,194.72 L377.80,194.70 L377.11,194.68 L376.41,194.65 L375.71,194.63 L375.00,194.60" stroke="#1c1c9c" stroke-width="1.9" fill="none" stroke-linejoin="round"/>
<path d="M375.00,189.80 L375.71,189.80 L376.43,189.80 L377.14,189.80 L377.84,189.81 L378.55,189.81 L379.26,189.81 L379.96,189.81 L380.67,189.82 L381.37,189.82 L382.08,189.83 L382.78,189.83 L383.48,189.83 L384.19,189.84 L384.89,189.84 L385.60,189.85 L386.30,189.85 L387.01,189.85 L387.71,189.86 L388.42,189.86 L389.13,189.86 L389.84,189.86 L390.55,189.86 L391.26,189.86 L391.98,189.86 L392.69,189.86 L393.41,189.86 L394.13,189.86 L394.85,189.86 L395.58,189.85 L396.31,189.85 L397.04,189.84 L397.78,189.83 L398.51,189.82 L399.26,189.81 L400.00,189.80 L400.68,189.79 L401.37,189.77 L402.06,189.76 L402.75,189.74 L403.45,189.73 L404.14,189.71 L404.84,189.69 L405.54,189.67 L406.25,189.65 L406.95,189.62 L407.66,189.60 L408.37,189.58 L409.08,189.55 L409.80,189.53 L410.51,189.50 L411.23,189.47 L411.95,189.45 L412.67,189.42 L413.39,189.39 L414.11,189.36 L414.83,189.33 L415.55,189.31 L416.28,189.28 L417.00,189.25 L417.72,189.22 L418.45,189.19 L419.17,189.16 L419.90,189.14 L420.62,189.11 L421.35,189.08 L422.07,189.05 L422.80,189.03 L423.52,189.00 L424.25,188.97 L424.97,188.95 L425.69,188.93 L426.41,188.90 L427.13,188.88 L427.85,188.86 L428.57,188.84 L429.28,188.82 L430.00,188.80 L430.71,188.78 L431.43,188.77 L432.15,188.75 L432.86,188.74 L433.58,188.73 L434.29,188.72 L435.01,188.71 L435.73,188.70 L436.45,188.69 L437.17,188.69 L437.88,188.68 L438.60,188.68 L439.32,188.67 L440.04,188.67 L440.76,188.66 L441.48,188.66 L442.20,188.65 L442.91,188.65 L443.63,188.65 L444.35,188.64 L445.07,188.64 L445.78,188.63 L446.50,188.63 L447.22,188.62 L447.93,188.61 L448.65,188.61 L449.37,188.60 L450.08,188.59 L450.79,188.58 L451.51,188.57 L452.22,188.55 L452.93,188.54 L453.64,188.52 L454.35,188.51 L455.06,188.49 L455.77,188.47 L456.48,188.44 L457.18,188.42 L457.89,188.39 L458.59,188.36 L459.30,188.33 L460.00,188.30 L460.72,188.26 L461.45,188.23 L462.18,188.19 L462.93,188.15 L463.68,188.11 L464.44,188.07 L465.20,188.02 L465.97,187.98 L466.74,187.94 L467.51,187.89 L468.29,187.84 L469.07,187.79 L469.85,187.74 L470.62,187.69 L471.40,187.64 L472.18,187.59 L472.95,187.53 L473.72,187.48 L474.48,187.42 L475.24,187.37 L475.99,187.31 L476.74,187.25 L477.48,187.19 L478.21,187.13 L478.92,187.06 L479.63,187.00 L480.33,186.93 L481.02,186.87 L481.69,186.80 L482.35,186.73 L482.99,186.66 L483.62,186.59 L484.23,186.52 L484.83,186.45 L485.41,186.38 L485.97,186.31 L486.51,186.23 L487.03,186.15 L487.52,186.08 L488.00,186.00 L488.88,185.84 L489.67,185.68 L490.38,185.53 L491.03,185.36 L491.64,185.19 L492.25,185.02 L492.86,184.83 L493.51,184.64 L494.22,184.43 L495.00,184.20 L495.57,184.04 L496.16,183.88 L496.77,183.72 L497.40,183.55 L498.04,183.38 L498.71,183.21 L499.38,183.03 L500.07,182.85 L500.77,182.66 L501.48,182.46 L502.19,182.26 L502.91,182.06 L503.64,181.85 L504.36,181.63 L505.09,181.40 L505.81,181.17 L506.53,180.93 L507.24,180.68 L507.95,180.42 L508.64,180.16 L509.33,179.88 L510.00,179.60 L510.64,179.32 L511.29,179.02 L511.94,178.71 L512.59,178.40 L513.24,178.07 L513.89,177.73 L514.54,177.39 L515.19,177.04 L515.84,176.68 L516.49,176.32 L517.13,175.95 L517.77,175.58 L518.41,175.20 L519.04,174.82 L519.67,174.43 L520.29,174.05 L520.91,173.66 L521.52,173.28 L522.12,172.89 L522.72,172.51 L523.30,172.13 L523.88,171.75 L524.44,171.37 L525.00,171.00 L525.62,170.58 L526.24,170.15 L526.84,169.73 L527.43,169.30 L528.01,168.88 L528.59,168.45 L529.16,168.02 L529.72,167.59 L530.27,167.16 L530.81,166.72 L531.35,166.29 L531.89,165.85 L532.42,165.41 L532.94,164.97 L533.46,164.53 L533.98,164.09 L534.49,163.65 L535.00,163.20 L535.57,162.70 L536.13,162.19 L536.70,161.67 L537.26,161.16 L537.81,160.63 L538.36,160.11 L538.90,159.58 L539.43,159.06 L539.95,158.54 L540.46,158.02 L540.96,157.50 L541.44,156.99 L541.91,156.49 L542.36,155.99 L542.80,155.50 L543.33,154.89 L543.82,154.31 L544.26,153.76 L544.69,153.22 L545.11,152.67 L545.53,152.09 L545.98,151.46 L546.46,150.77 L547.00,150.00 L547.29,149.57 L547.60,149.12 L547.92,148.64 L548.26,148.14 L548.60,147.62 L548.96,147.08 L549.32,146.51 L549.70,145.93 L550.08,145.34 L550.47,144.73 L550.87,144.10 L551.28,143.46 L551.68,142.82 L552.10,142.16 L552.51,141.50 L552.93,140.83 L553.35,140.16 L553.77,139.48 L554.18,138.81 L554.60,138.13 L555.02,137.45 L555.43,136.78 L555.84,136.11 L556.24,135.45 L556.64,134.80 L557.03,134.15 L557.41,133.52 L557.78,132.89 L558.15,132.28 L558.50,131.68 L558.85,131.11 L559.18,130.54 L559.50,130.00 L559.91,129.31 L560.30,128.63 L560.68,127.98 L561.04,127.33 L561.40,126.71 L561.74,126.09 L562.08,125.48 L562.42,124.88 L562.74,124.28 L563.07,123.69 L563.39,123.09 L563.72,122.49 L564.04,121.88 L564.37,121.27 L564.70,120.65 L565.04,120.01 L565.38,119.36 L565.74,118.69 L566.10,118.00 L566.40,117.42 L566.71,116.84 L567.02,116.25 L567.32,115.66 L567.63,115.07 L567.94,114.47 L568.25,113.87 L568.57,113.26 L568.88,112.65 L569.20,112.03 L569.51,111.41 L569.83,110.78 L570.15,110.15 L570.47,109.51 L570.80,108.87 L571.12,108.22 L571.45,107.57 L571.78,106.91 L572.11,106.24 L572.45,105.57 L572.78,104.90 L573.12,104.22 L573.46,103.53 L573.80,102.84 L574.15,102.14 L574.50,101.43 L574.85,100.72 L575.20,100.00 L575.48,99.43 L575.77,98.85 L576.06,98.25 L576.35,97.65 L576.65,97.04 L576.95,96.42 L577.25,95.79 L577.56,95.16 L577.87,94.51 L578.19,93.87 L578.50,93.21 L578.82,92.55 L579.14,91.89 L579.47,91.22 L579.79,90.54 L580.12,89.86 L580.44,89.18 L580.77,88.50 L581.10,87.82 L581.43,87.13 L581.76,86.44 L582.08,85.76 L582.41,85.07 L582.74,84.38 L583.06,83.70 L583.39,83.01 L583.71,82.33 L584.03,81.65 L584.35,80.98 L584.67,80.30 L584.99,79.64 L585.30,78.97 L585.61,78.31 L585.91,77.66 L586.22,77.01 L586.52,76.37 L586.81,75.74 L587.10,75.12 L587.39,74.50 L587.67,73.89 L587.95,73.29 L588.22,72.70 L588.48,72.12 L588.75,71.56 L589.00,71.00 L589.34,70.24 L589.68,69.49 L590.02,68.75 L590.34,68.02 L590.67,67.29 L590.98,66.57 L591.30,65.86 L591.60,65.16 L591.91,64.46 L592.20,63.78 L592.50,63.10 L592.79,62.43 L593.07,61.76 L593.36,61.11 L593.63,60.46 L593.91,59.82 L594.18,59.19 L594.45,58.57 L594.71,57.96 L594.98,57.35 L595.23,56.75 L595.49,56.16 L595.75,55.58 L596.00,55.00 L596.32,54.27 L596.63,53.56 L596.92,52.87 L597.21,52.19 L597.50,51.53 L597.78,50.88 L598.05,50.24 L598.32,49.61 L598.60,48.99 L598.87,48.38 L599.14,47.77 L599.42,47.18 L599.71,46.59 L600.00,46.00 L600.37,45.24 L600.75,44.42 L601.14,43.56 L601.53,42.70 L601.93,41.88 L602.31,41.13 L602.69,40.48 L603.05,39.97 L603.39,39.63 L603.70,39.50 L604.32,39.80 L604.90,40.57 L605.20,41.50 L605.19,42.00 L605.06,42.55 L604.83,43.15 L604.52,43.79 L604.15,44.48 L603.73,45.20 L603.29,45.97 L602.85,46.78 L602.41,47.62 L602.00,48.50 L601.79,48.98 L601.58,49.49 L601.35,50.02 L601.12,50.58 L600.89,51.15 L600.65,51.74 L600.40,52.35 L600.15,52.98 L599.89,53.62 L599.63,54.27 L599.36,54.94 L599.09,55.62 L598.82,56.30 L598.54,57.00 L598.26,57.70 L597.98,58.41 L597.70,59.12 L597.41,59.84 L597.12,60.55 L596.84,61.27 L596.55,61.98 L596.26,62.70 L595.97,63.41 L595.69,64.11 L595.40,64.81 L595.12,65.50 L594.84,66.18 L594.56,66.85 L594.28,67.51 L594.00,68.15 L593.73,68.79 L593.46,69.40 L593.20,70.00 L592.88,70.71 L592.56,71.41 L592.24,72.10 L591.92,72.78 L591.60,73.45 L591.28,74.12 L590.96,74.77 L590.64,75.43 L590.32,76.07 L590.00,76.72 L589.69,77.35 L589.37,77.99 L589.05,78.62 L588.74,79.25 L588.43,79.88 L588.12,80.52 L587.81,81.15 L587.50,81.78 L587.19,82.42 L586.89,83.06 L586.59,83.70 L586.29,84.35 L586.00,85.00 L585.71,85.65 L585.43,86.29 L585.16,86.94 L584.89,87.58 L584.63,88.23 L584.37,88.87 L584.11,89.52 L583.85,90.16 L583.60,90.81 L583.34,91.45 L583.09,92.10 L582.84,92.75 L582.58,93.39 L582.32,94.04 L582.06,94.70 L581.80,95.35 L581.53,96.01 L581.26,96.66 L580.98,97.33 L580.70,97.99 L580.41,98.66 L580.11,99.33 L579.80,100.00 L579.51,100.62 L579.21,101.25 L578.90,101.88 L578.58,102.52 L578.25,103.17 L577.92,103.81 L577.58,104.47 L577.24,105.12 L576.89,105.78 L576.54,106.43 L576.19,107.09 L575.83,107.75 L575.47,108.41 L575.12,109.07 L574.76,109.73 L574.41,110.39 L574.06,111.05 L573.71,111.70 L573.37,112.35 L573.03,113.00 L572.69,113.65 L572.37,114.29 L572.05,114.92 L571.74,115.55 L571.44,116.17 L571.15,116.79 L570.87,117.40 L570.60,118.00 L570.29,118.73 L570.00,119.45 L569.72,120.17 L569.46,120.88 L569.21,121.58 L568.96,122.29 L568.73,122.98 L568.50,123.68 L568.28,124.36 L568.05,125.05 L567.83,125.73 L567.61,126.40 L567.38,127.07 L567.14,127.74 L566.90,128.40 L566.64,129.05 L566.38,129.71 L566.10,130.36 L565.80,131.00 L565.48,131.65 L565.15,132.30 L564.81,132.94 L564.46,133.58 L564.11,134.21 L563.74,134.84 L563.37,135.47 L562.99,136.09 L562.61,136.70 L562.23,137.31 L561.85,137.92 L561.47,138.52 L561.10,139.11 L560.72,139.70 L560.36,140.29 L560.00,140.86 L559.64,141.44 L559.30,142.00 L558.91,142.65 L558.54,143.27 L558.18,143.86 L557.82,144.44 L557.48,145.01 L557.13,145.58 L556.79,146.15 L556.43,146.73 L556.06,147.32 L555.68,147.94 L555.28,148.59 L554.85,149.27 L554.40,150.00 L554.10,150.48 L553.79,150.99 L553.46,151.52 L553.13,152.06 L552.79,152.63 L552.43,153.22 L552.07,153.82 L551.70,154.43 L551.32,155.06 L550.93,155.70 L550.54,156.34 L550.14,157.00 L549.74,157.66 L549.34,158.33 L548.93,159.00 L548.51,159.68 L548.10,160.35 L547.68,161.03 L547.26,161.70 L546.85,162.36 L546.43,163.03 L546.01,163.68 L545.60,164.33 L545.19,164.97 L544.78,165.59 L544.37,166.20 L543.97,166.80 L543.58,167.38 L543.19,167.95 L542.80,168.49 L542.43,169.02 L542.06,169.52 L541.70,170.00 L541.20,170.66 L540.70,171.29 L540.22,171.89 L539.74,172.48 L539.27,173.04 L538.80,173.59 L538.34,174.12 L537.88,174.63 L537.41,175.13 L536.95,175.63 L536.48,176.11 L536.00,176.60 L535.52,177.07 L535.02,177.55 L534.52,178.02 L534.00,178.50 L533.48,178.97 L532.95,179.44 L532.41,179.90 L531.87,180.35 L531.32,180.80 L530.76,181.24 L530.20,181.67 L529.64,182.10 L529.07,182.52 L528.50,182.94 L527.92,183.34 L527.34,183.75 L526.76,184.14 L526.18,184.54 L525.59,184.92 L525.00,185.30 L524.37,185.69 L523.74,186.07 L523.11,186.44 L522.47,186.80 L521.82,187.15 L521.18,187.49 L520.52,187.83 L519.87,188.16 L519.21,188.49 L518.55,188.82 L517.89,189.15 L517.22,189.48 L516.55,189.82 L515.88,190.16 L515.20,190.50 L514.57,190.82 L513.94,191.14 L513.30,191.46 L512.67,191.77 L512.03,192.09 L511.39,192.40 L510.75,192.72 L510.10,193.03 L509.45,193.35 L508.80,193.67 L508.14,193.99 L507.48,194.31 L506.81,194.64 L506.14,194.97 L505.47,195.31 L504.79,195.65 L504.10,196.00 L503.49,196.31 L502.88,196.64 L502.27,196.98 L501.65,197.33 L501.03,197.68 L500.40,198.04 L499.77,198.41 L499.14,198.78 L498.51,199.15 L497.87,199.52 L497.23,199.88 L496.58,200.25 L495.93,200.61 L495.28,200.96 L494.63,201.31 L493.98,201.65 L493.32,201.98 L492.66,202.29 L492.00,202.59 L491.33,202.88 L490.67,203.15 L490.00,203.40 L489.31,203.64 L488.62,203.88 L487.92,204.11 L487.22,204.32 L486.51,204.53 L485.80,204.73 L485.09,204.93 L484.38,205.11 L483.66,205.28 L482.94,205.44 L482.22,205.60 L481.50,205.74 L480.78,205.88 L480.05,206.00 L479.33,206.12 L478.61,206.22 L477.88,206.32 L477.16,206.41 L476.44,206.48 L475.72,206.55 L475.00,206.60 L474.29,206.64 L473.60,206.68 L472.91,206.70 L472.22,206.71 L471.54,206.71 L470.87,206.70 L470.19,206.68 L469.51,206.65 L468.84,206.62 L468.15,206.57 L467.47,206.51 L466.77,206.45 L466.07,206.37 L465.36,206.29 L464.64,206.20 L463.91,206.10 L463.16,206.00 L462.40,205.88 L461.62,205.76 L460.82,205.63 L460.00,205.50 L459.43,205.40 L458.84,205.29 L458.25,205.17 L457.65,205.05 L457.04,204.91 L456.42,204.77 L455.79,204.62 L455.16,204.46 L454.52,204.30 L453.87,204.13 L453.21,203.96 L452.55,203.78 L451.88,203.59 L451.21,203.40 L450.53,203.21 L449.84,203.01 L449.15,202.81 L448.46,202.60 L447.76,202.40 L447.06,202.19 L446.35,201.98 L445.65,201.77 L444.94,201.55 L444.22,201.34 L443.51,201.13 L442.79,200.92 L442.08,200.70 L441.36,200.49 L440.64,200.28 L439.92,200.08 L439.20,199.87 L438.48,199.67 L437.76,199.47 L437.04,199.27 L436.33,199.08 L435.61,198.90 L434.90,198.71 L434.19,198.53 L433.48,198.36 L432.78,198.20 L432.08,198.04 L431.38,197.88 L430.69,197.74 L430.00,197.60 L429.30,197.47 L428.60,197.33 L427.90,197.20 L427.18,197.08 L426.47,196.95 L425.75,196.83 L425.02,196.71 L424.30,196.59 L423.57,196.47 L422.84,196.36 L422.10,196.24 L421.37,196.13 L420.63,196.03 L419.89,195.92 L419.16,195.82 L418.42,195.72 L417.68,195.62 L416.95,195.52 L416.21,195.42 L415.48,195.33 L414.75,195.24 L414.02,195.15 L413.30,195.06 L412.57,194.98 L411.85,194.89 L411.14,194.81 L410.43,194.73 L409.72,194.65 L409.02,194.58 L408.33,194.50 L407.64,194.43 L406.96,194.36 L406.28,194.29 L405.62,194.23 L404.96,194.16 L404.30,194.10 L403.66,194.04 L403.03,193.98 L402.40,193.92 L401.79,193.86 L401.18,193.81 L400.58,193.75 L400.00,193.70 L399.17,193.63 L398.36,193.56 L397.56,193.50 L396.78,193.45 L396.01,193.40 L395.26,193.35 L394.51,193.31 L393.78,193.28 L393.06,193.24 L392.35,193.21 L391.64,193.18 L390.95,193.16 L390.27,193.13 L389.59,193.11 L388.92,193.09 L388.25,193.08 L387.59,193.06 L386.94,193.04 L386.29,193.03 L385.64,193.01 L385.00,193.00 L384.22,192.98 L383.47,192.97 L382.72,192.97 L382.00,192.96 L381.28,192.96 L380.57,192.96 L379.87,192.97 L379.18,192.97 L378.49,192.98 L377.80,192.99 L377.11,192.99 L376.41,193.00 L375.71,193.00 L375.00,193.00" stroke="#e0208c" stroke-width="2.1" fill="none" stroke-linejoin="round"/>
<path d="M375.00,189.80 L375.71,189.80 L376.43,189.80 L377.14,189.80 L377.84,189.81 L378.55,189.81 L379.26,189.81 L379.96,189.81 L380.67,189.82 L381.37,189.82 L382.08,189.83 L382.78,189.83 L383.48,189.83 L384.19,189.84 L384.89,189.84 L385.60,189.85 L386.30,189.85 L387.01,189.85 L387.71,189.86 L388.42,189.86 L389.13,189.86 L389.84,189.86 L390.55,189.86 L391.26,189.86 L391.98,189.86 L392.69,189.86 L393.41,189.86 L394.13,189.86 L394.85,189.86 L395.58,189.85 L396.31,189.85 L397.04,189.84 L397.78,189.83 L398.51,189.82 L399.26,189.81 L400.00,189.80 L400.68,189.79 L401.37,189.77 L402.06,189.76 L402.75,189.74 L403.45,189.73 L404.14,189.71 L404.84,189.69 L405.54,189.67 L406.25,189.65 L406.95,189.62 L407.66,189.60 L408.37,189.58 L409.08,189.55 L409.80,189.53 L410.51,189.50 L411.23,189.47 L411.95,189.45 L412.67,189.42 L413.39,189.39 L414.11,189.36 L414.83,189.33 L415.55,189.31 L416.28,189.28 L417.00,189.25 L417.72,189.22 L418.45,189.19 L419.17,189.16 L419.90,189.14 L420.62,189.11 L421.35,189.08 L422.07,189.05 L422.80,189.03 L423.52,189.00 L424.25,188.97 L424.97,188.95 L425.69,188.93 L426.41,188.90 L427.13,188.88 L427.85,188.86 L428.57,188.84 L429.28,188.82 L430.00,188.80 L430.71,188.78 L431.43,188.77 L432.15,188.75 L432.86,188.74 L433.58,188.73 L434.29,188.72 L435.01,188.71 L435.73,188.70 L436.45,188.69 L437.17,188.69 L437.88,188.68 L438.60,188.68 L439.32,188.67 L440.04,188.67 L440.76,188.66 L441.48,188.66 L442.20,188.65 L442.91,188.65 L443.63,188.65 L444.35,188.64 L445.07,188.64 L445.78,188.63 L446.50,188.63 L447.22,188.62 L447.93,188.61 L448.65,188.61 L449.37,188.60 L450.08,188.59 L450.79,188.58 L451.51,188.57 L452.22,188.55 L452.93,188.54 L453.64,188.52 L454.35,188.51 L455.06,188.49 L455.77,188.47 L456.48,188.44 L457.18,188.42 L457.89,188.39 L458.59,188.36 L459.30,188.33 L460.00,188.30 L460.72,188.26 L461.45,188.23 L462.18,188.19 L462.93,188.15 L463.68,188.11 L464.44,188.07 L465.20,188.02 L465.97,187.98 L466.74,187.94 L467.51,187.89 L468.29,187.84 L469.07,187.79 L469.85,187.74 L470.62,187.69 L471.40,187.64 L472.18,187.59 L472.95,187.53 L473.72,187.48 L474.48,187.42 L475.24,187.37 L475.99,187.31 L476.74,187.25 L477.48,187.19 L478.21,187.13 L478.92,187.06 L479.63,187.00 L480.33,186.93 L481.02,186.87 L481.69,186.80 L482.35,186.73 L482.99,186.66 L483.62,186.59 L484.23,186.52 L484.83,186.45 L485.41,186.38 L485.97,186.31 L486.51,186.23 L487.03,186.15 L487.52,186.08 L488.00,186.00 L488.88,185.84 L489.67,185.68 L490.38,185.53 L491.03,185.36 L491.64,185.19 L492.25,185.02 L492.86,184.83 L493.51,184.64 L494.22,184.43 L495.00,184.20 L495.57,184.04 L496.16,183.88 L496.77,183.72 L497.40,183.55 L498.04,183.38 L498.71,183.21 L499.38,183.03 L500.07,182.85 L500.77,182.66 L501.48,182.46 L502.19,182.26 L502.91,182.06 L503.64,181.85 L504.36,181.63 L505.09,181.40 L505.81,181.17 L506.53,180.93 L507.24,180.68 L507.95,180.42 L508.64,180.16 L509.33,179.88 L510.00,179.60 L510.64,179.32 L511.29,179.02 L511.94,178.71 L512.59,178.40 L513.24,178.07 L513.89,177.73 L514.54,177.39 L515.19,177.04 L515.84,176.68 L516.49,176.32 L517.13,175.95 L517.77,175.58 L518.41,175.20 L519.04,174.82 L519.67,174.43 L520.29,174.05 L520.91,173.66 L521.52,173.28 L522.12,172.89 L522.72,172.51 L523.30,172.13 L523.88,171.75 L524.44,171.37 L525.00,171.00 L525.62,170.58 L526.24,170.15 L526.84,169.73 L527.43,169.30 L528.01,168.88 L528.59,168.45 L529.16,168.02 L529.72,167.59 L530.27,167.16 L530.81,166.72 L531.35,166.29 L531.89,165.85 L532.42,165.41 L532.94,164.97 L533.46,164.53 L533.98,164.09 L534.49,163.65 L535.00,163.20 L535.57,162.70 L536.13,162.19 L536.70,161.67 L537.26,161.16 L537.81,160.63 L538.36,160.11 L538.90,159.58 L539.43,159.06 L539.95,158.54 L540.46,158.02 L540.96,157.50 L541.44,156.99 L541.91,156.49 L542.36,155.99 L542.80,155.50 L543.33,154.89 L543.82,154.31 L544.26,153.76 L544.69,153.22 L545.11,152.67 L545.53,152.09 L545.98,151.46 L546.46,150.77 L547.00,150.00 L547.29,149.57 L547.60,149.12 L547.92,148.64 L548.26,148.14 L548.60,147.62 L548.96,147.08 L549.32,146.51 L549.70,145.93 L550.08,145.34 L550.47,144.73 L550.87,144.10 L551.28,143.46 L551.68,142.82 L552.10,142.16 L552.51,141.50 L552.93,140.83 L553.35,140.16 L553.77,139.48 L554.18,138.81 L554.60,138.13 L555.02,137.45 L555.43,136.78 L555.84,136.11 L556.24,135.45 L556.64,134.80 L557.03,134.15 L557.41,133.52 L557.78,132.89 L558.15,132.28 L558.50,131.68 L558.85,131.11 L559.18,130.54 L559.50,130.00 L559.91,129.31 L560.30,128.63 L560.68,127.98 L561.04,127.33 L561.40,126.71 L561.74,126.09 L562.08,125.48 L562.42,124.88 L562.74,124.28 L563.07,123.69 L563.39,123.09 L563.72,122.49 L564.04,121.88 L564.37,121.27 L564.70,120.65 L565.04,120.01 L565.38,119.36 L565.74,118.69 L566.10,118.00 L566.40,117.42 L566.71,116.84 L567.02,116.25 L567.32,115.66 L567.63,115.07 L567.94,114.47 L568.25,113.87 L568.57,113.26 L568.88,112.65 L569.20,112.03 L569.51,111.41 L569.83,110.78 L570.15,110.15 L570.47,109.51 L570.80,108.87 L571.12,108.22 L571.45,107.57 L571.78,106.91 L572.11,106.24 L572.45,105.57 L572.78,104.90 L573.12,104.22 L573.46,103.53 L573.80,102.84 L574.15,102.14 L574.50,101.43 L574.85,100.72 L575.20,100.00 L575.48,99.43 L575.77,98.85 L576.06,98.25 L576.35,97.65 L576.65,97.04 L576.95,96.42 L577.25,95.79 L577.56,95.16 L577.87,94.51 L578.19,93.87 L578.50,93.21 L578.82,92.55 L579.14,91.89 L579.47,91.22 L579.79,90.54 L580.12,89.86 L580.44,89.18 L580.77,88.50 L581.10,87.82 L581.43,87.13 L581.76,86.44 L582.08,85.76 L582.41,85.07 L582.74,84.38 L583.06,83.70 L583.39,83.01 L583.71,82.33 L584.03,81.65 L584.35,80.98 L584.67,80.30 L584.99,79.64 L585.30,78.97 L585.61,78.31 L585.91,77.66 L586.22,77.01 L586.52,76.37 L586.81,75.74 L587.10,75.12 L587.39,74.50 L587.67,73.89 L587.95,73.29 L588.22,72.70 L588.48,72.12 L588.75,71.56 L589.00,71.00 L589.34,70.24 L589.68,69.49 L590.02,68.75 L590.34,68.02 L590.67,67.29 L590.98,66.57 L591.30,65.86 L591.60,65.16 L591.91,64.46 L592.20,63.78 L592.50,63.10 L592.79,62.43 L593.07,61.76 L593.36,61.11 L593.63,60.46 L593.91,59.82 L594.18,59.19 L594.45,58.57 L594.71,57.96 L594.98,57.35 L595.23,56.75 L595.49,56.16 L595.75,55.58 L596.00,55.00 L596.32,54.27 L596.63,53.56 L596.92,52.87 L597.21,52.19 L597.50,51.53 L597.78,50.88 L598.05,50.24 L598.32,49.61 L598.60,48.99 L598.87,48.38 L599.14,47.77 L599.42,47.18 L599.71,46.59 L600.00,46.00 L600.37,45.24 L600.75,44.42 L601.14,43.56 L601.53,42.70 L601.93,41.88 L602.31,41.13 L602.69,40.48 L603.05,39.97 L603.39,39.63 L603.70,39.50 L604.32,39.80 L604.90,40.57 L605.20,41.50 L605.19,42.00 L605.06,42.55 L604.83,43.15 L604.52,43.79 L604.15,44.48 L603.73,45.20 L603.29,45.97 L602.85,46.78 L602.41,47.62 L602.00,48.50 L601.79,48.98 L601.58,49.49 L601.35,50.02 L601.12,50.58 L600.89,51.15 L600.65,51.74 L600.40,52.35 L600.15,52.98 L599.89,53.62 L599.63,54.27 L599.36,54.94 L599.09,55.62 L598.82,56.30 L598.54,57.00 L598.26,57.70 L597.98,58.41 L597.70,59.12 L597.41,59.84 L597.12,60.55 L596.84,61.27 L596.55,61.98 L596.26,62.70 L595.97,63.41 L595.69,64.11 L595.40,64.81 L595.12,65.50 L594.84,66.18 L594.56,66.85 L594.28,67.51 L594.00,68.15 L593.73,68.79 L593.46,69.40 L593.20,70.00 L592.88,70.71 L592.56,71.41 L592.24,72.10 L591.92,72.78 L591.60,73.45 L591.28,74.12 L590.96,74.77 L590.64,75.43 L590.32,76.07 L590.00,76.72 L589.69,77.35 L589.37,77.99 L589.05,78.62 L588.74,79.25 L588.43,79.88 L588.12,80.52 L587.81,81.15 L587.50,81.78 L587.19,82.42 L586.89,83.06 L586.59,83.70 L586.29,84.35 L586.00,85.00 L585.71,85.65 L585.43,86.29 L585.16,86.94 L584.89,87.58 L584.63,88.23 L584.37,88.87 L584.11,89.52 L583.85,90.16 L583.60,90.81 L583.34,91.45 L583.09,92.10 L582.84,92.75 L582.58,93.39 L582.32,94.04 L582.06,94.70 L581.80,95.35 L581.53,96.01 L581.26,96.66 L580.98,97.33 L580.70,97.99 L580.41,98.66 L580.11,99.33 L579.80,100.00 L579.51,100.62 L579.21,101.25 L578.90,101.88 L578.58,102.52 L578.25,103.17 L577.92,103.81 L577.58,104.47 L577.24,105.12 L576.89,105.78 L576.54,106.43 L576.19,107.09 L575.83,107.75 L575.47,108.41 L575.12,109.07 L574.76,109.73 L574.41,110.39 L574.06,111.05 L573.71,111.70 L573.37,112.35 L573.03,113.00 L572.69,113.65 L572.37,114.29 L572.05,114.92 L571.74,115.55 L571.44,116.17 L571.15,116.79 L570.87,117.40 L570.60,118.00 L570.29,118.73 L570.00,119.45 L569.72,120.17 L569.46,120.88 L569.21,121.58 L568.96,122.29 L568.73,122.98 L568.50,123.68 L568.28,124.36 L568.05,125.05 L567.83,125.73 L567.61,126.40 L567.38,127.07 L567.14,127.74 L566.90,128.40 L566.64,129.05 L566.38,129.71 L566.10,130.36 L565.80,131.00 L565.48,131.65 L565.15,132.30 L564.81,132.94 L564.46,133.58 L564.11,134.21 L563.74,134.84 L563.37,135.47 L562.99,136.09 L562.61,136.70 L562.23,137.31 L561.85,137.92 L561.47,138.52 L561.10,139.11 L560.72,139.70 L560.36,140.29 L560.00,140.86 L559.64,141.44 L559.30,142.00 L558.91,142.65 L558.54,143.27 L558.18,143.86 L557.82,144.44 L557.48,145.01 L557.13,145.58 L556.79,146.15 L556.43,146.73 L556.06,147.32 L555.68,147.94 L555.28,148.59 L554.85,149.27 L554.40,150.00 L554.10,150.48 L553.79,150.99 L553.46,151.52 L553.13,152.06 L552.79,152.63 L552.43,153.22 L552.07,153.82 L551.70,154.43 L551.32,155.06 L550.93,155.70 L550.54,156.34 L550.14,157.00 L549.74,157.66 L549.34,158.33 L548.93,159.00 L548.51,159.68 L548.10,160.35 L547.68,161.03 L547.26,161.70 L546.85,162.36 L546.43,163.03 L546.01,163.68 L545.60,164.33 L545.19,164.97 L544.78,165.59 L544.37,166.20 L543.97,166.80 L543.58,167.38 L543.19,167.95 L542.80,168.49 L542.43,169.02 L542.06,169.52 L541.70,170.00 L541.20,170.66 L540.70,171.29 L540.22,171.89 L539.74,172.48 L539.27,173.04 L538.80,173.59 L538.34,174.12 L537.88,174.63 L537.41,175.13 L536.95,175.63 L536.48,176.11 L536.00,176.60 L535.52,177.07 L535.02,177.55 L534.52,178.02 L534.00,178.50 L533.48,178.97 L532.95,179.44 L532.41,179.90 L531.87,180.35 L531.32,180.80 L530.76,181.24 L530.20,181.67 L529.64,182.10 L529.07,182.52 L528.50,182.94 L527.92,183.34 L527.34,183.75 L526.76,184.14 L526.18,184.54 L525.59,184.92 L525.00,185.30 L524.37,185.69 L523.74,186.07 L523.11,186.44 L522.47,186.80 L521.82,187.15 L521.18,187.49 L520.52,187.83 L519.87,188.16 L519.21,188.49 L518.55,188.82 L517.89,189.15 L517.22,189.48 L516.55,189.82 L515.88,190.16 L515.20,190.50 L514.57,190.82 L513.94,191.14 L513.30,191.46 L512.67,191.77 L512.03,192.09 L511.39,192.40 L510.75,192.72 L510.10,193.03 L509.45,193.35 L508.80,193.67 L508.14,193.99 L507.48,194.31 L506.81,194.64 L506.14,194.97 L505.47,195.31 L504.79,195.65 L504.10,196.00 L503.49,196.31 L502.88,196.64 L502.27,196.98 L501.65,197.33 L501.03,197.68 L500.40,198.04 L499.77,198.41 L499.14,198.78 L498.51,199.15 L497.87,199.52 L497.23,199.88 L496.58,200.25 L495.93,200.61 L495.28,200.96 L494.63,201.31 L493.98,201.65 L493.32,201.98 L492.66,202.29 L492.00,202.59 L491.33,202.88 L490.67,203.15 L490.00,203.40 L489.31,203.64 L488.62,203.88 L487.92,204.11 L487.22,204.32 L486.51,204.53 L485.80,204.73 L485.09,204.93 L484.38,205.11 L483.66,205.28 L482.94,205.44 L482.22,205.60 L481.50,205.74 L480.78,205.88 L480.05,206.00 L479.33,206.12 L478.61,206.22 L477.88,206.32 L477.16,206.41 L476.44,206.48 L475.72,206.55 L475.00,206.60 L474.29,206.64 L473.60,206.68 L472.91,206.70 L472.22,206.71 L471.54,206.71 L470.87,206.70 L470.19,206.68 L469.51,206.65 L468.84,206.62 L468.15,206.57 L467.47,206.51 L466.77,206.45 L466.07,206.37 L465.36,206.29 L464.64,206.20 L463.91,206.10 L463.16,206.00 L462.40,205.88 L461.62,205.76 L460.82,205.63 L460.00,205.50 L459.43,205.40 L458.84,205.29 L458.25,205.17 L457.65,205.05 L457.04,204.91 L456.42,204.77 L455.79,204.62 L455.16,204.46 L454.52,204.30 L453.87,204.13 L453.21,203.96 L452.55,203.78 L451.88,203.59 L451.21,203.40 L450.53,203.21 L449.84,203.01 L449.15,202.81 L448.46,202.60 L447.76,202.40 L447.06,202.19 L446.35,201.98 L445.65,201.77 L444.94,201.55 L444.22,201.34 L443.51,201.13 L442.79,200.92 L442.08,200.70 L441.36,200.49 L440.64,200.28 L439.92,200.08 L439.20,199.87 L438.48,199.67 L437.76,199.47 L437.04,199.27 L436.33,199.08 L435.61,198.90 L434.90,198.71 L434.19,198.53 L433.48,198.36 L432.78,198.20 L432.08,198.04 L431.38,197.88 L430.69,197.74 L430.00,197.60 L429.30,197.47 L428.60,197.33 L427.90,197.20 L427.18,197.08 L426.47,196.95 L425.75,196.83 L425.02,196.71 L424.30,196.59 L423.57,196.47 L422.84,196.36 L422.10,196.24 L421.37,196.13 L420.63,196.03 L419.89,195.92 L419.16,195.82 L418.42,195.72 L417.68,195.62 L416.95,195.52 L416.21,195.42 L415.48,195.33 L414.75,195.24 L414.02,195.15 L413.30,195.06 L412.57,194.98 L411.85,194.89 L411.14,194.81 L410.43,194.73 L409.72,194.65 L409.02,194.58 L408.33,194.50 L407.64,194.43 L406.96,194.36 L406.28,194.29 L405.62,194.23 L404.96,194.16 L404.30,194.10 L403.66,194.04 L403.03,193.98 L402.40,193.92 L401.79,193.86 L401.18,193.81 L400.58,193.75 L400.00,193.70 L399.17,193.63 L398.36,193.56 L397.56,193.50 L396.78,193.45 L396.01,193.40 L395.26,193.35 L394.51,193.31 L393.78,193.28 L393.06,193.24 L392.35,193.21 L391.64,193.18 L390.95,193.16 L390.27,193.13 L389.59,193.11 L388.92,193.09 L388.25,193.08 L387.59,193.06 L386.94,193.04 L386.29,193.03 L385.64,193.01 L385.00,193.00 L384.22,192.98 L383.47,192.97 L382.72,192.97 L382.00,192.96 L381.28,192.96 L380.57,192.96 L379.87,192.97 L379.18,192.97 L378.49,192.98 L377.80,192.99 L377.11,192.99 L376.41,193.00 L375.71,193.00 L375.00,193.00" transform="translate(0,-0.9)" stroke="#e0208c" stroke-width="1.3" stroke-dasharray="1.4 1.4" fill="none"/>
</svg>
</body></html>
